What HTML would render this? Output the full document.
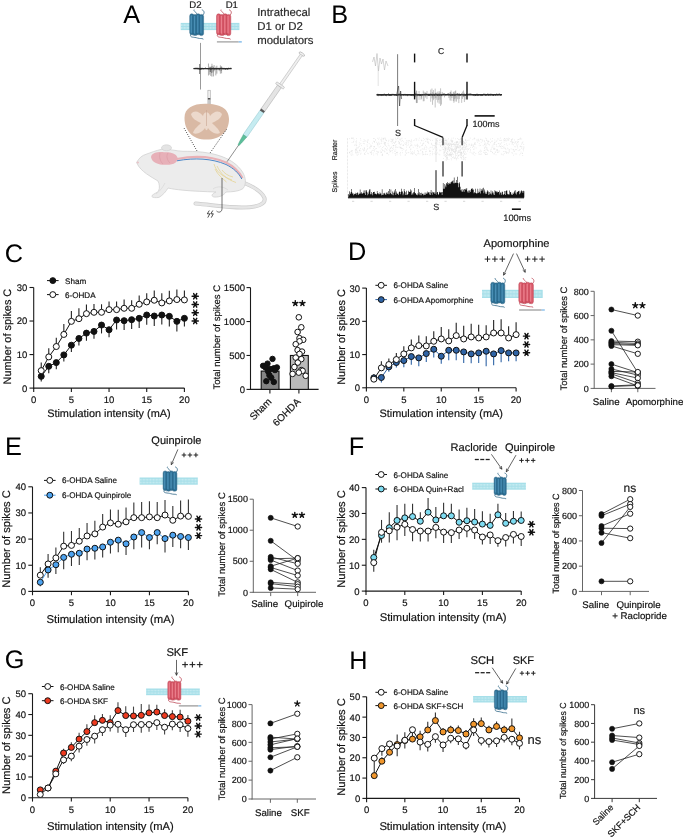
<!DOCTYPE html>
<html><head><meta charset="utf-8"><style>
html,body{margin:0;padding:0;background:#fff;}
svg{display:block;will-change:transform;}
text{font-family:"Liberation Sans", sans-serif;text-rendering:geometricPrecision;}
</style></head><body>
<svg width="685" height="838" viewBox="0 0 685 838" font-family='"Liberation Sans", sans-serif'>
<rect width="685" height="838" fill="#ffffff"/>
<text x="123.35" y="22.80" font-size="25.3" text-anchor="start" fill="#000">A</text>
<text x="195.50" y="8.00" font-size="9.6" text-anchor="middle" fill="#222" stroke="#222" stroke-width="0.18">D2</text>
<text x="231.80" y="8.00" font-size="9.6" text-anchor="middle" fill="#222" stroke="#222" stroke-width="0.18">D1</text>
<rect x="180.70" y="22.90" width="58.70" height="7.20" fill="#a6dfe9"/>
<path d="M181.50,24.20V26.00M181.50,27.00V28.80M182.95,24.20V26.00M182.95,27.00V28.80M184.40,24.20V26.00M184.40,27.00V28.80M185.85,24.20V26.00M185.85,27.00V28.80M187.30,24.20V26.00M187.30,27.00V28.80M188.75,24.20V26.00M188.75,27.00V28.80M190.20,24.20V26.00M190.20,27.00V28.80M191.65,24.20V26.00M191.65,27.00V28.80M193.10,24.20V26.00M193.10,27.00V28.80M194.55,24.20V26.00M194.55,27.00V28.80M196.00,24.20V26.00M196.00,27.00V28.80M197.45,24.20V26.00M197.45,27.00V28.80M198.90,24.20V26.00M198.90,27.00V28.80M200.35,24.20V26.00M200.35,27.00V28.80M201.80,24.20V26.00M201.80,27.00V28.80M203.25,24.20V26.00M203.25,27.00V28.80M204.70,24.20V26.00M204.70,27.00V28.80M206.15,24.20V26.00M206.15,27.00V28.80M207.60,24.20V26.00M207.60,27.00V28.80M209.05,24.20V26.00M209.05,27.00V28.80M210.50,24.20V26.00M210.50,27.00V28.80M211.95,24.20V26.00M211.95,27.00V28.80M213.40,24.20V26.00M213.40,27.00V28.80M214.85,24.20V26.00M214.85,27.00V28.80M216.30,24.20V26.00M216.30,27.00V28.80M217.75,24.20V26.00M217.75,27.00V28.80M219.20,24.20V26.00M219.20,27.00V28.80M220.65,24.20V26.00M220.65,27.00V28.80M222.10,24.20V26.00M222.10,27.00V28.80M223.55,24.20V26.00M223.55,27.00V28.80M225.00,24.20V26.00M225.00,27.00V28.80M226.45,24.20V26.00M226.45,27.00V28.80M227.90,24.20V26.00M227.90,27.00V28.80M229.35,24.20V26.00M229.35,27.00V28.80M230.80,24.20V26.00M230.80,27.00V28.80M232.25,24.20V26.00M232.25,27.00V28.80M233.70,24.20V26.00M233.70,27.00V28.80M235.15,24.20V26.00M235.15,27.00V28.80M236.60,24.20V26.00M236.60,27.00V28.80M238.05,24.20V26.00M238.05,27.00V28.80" stroke="#e4f6f9" stroke-width="0.5"/>
<path d="M197.34,15.30 C196.65,11.30 193.17,11.80 194.15,9.60 M202.10,15.80 C205.40,13.30 204.10,10.30 201.80,9.80" fill="none" stroke="#255f80" stroke-width="0.75"/>
<path d="M190.90,34.10 C188.90,38.10 194.56,36.80 197.34,38.00 C199.71,39.00 203.90,38.00 203.10,39.40" fill="none" stroke="#255f80" stroke-width="0.75"/>
<rect x="189.70" y="13.80" width="4.21" height="21.00" rx="2.11" fill="#2f7398" stroke="#255f80" stroke-width="0.45"/>
<line x1="191.30" y1="15.80" x2="191.30" y2="32.30" stroke="#4a8fb5" stroke-width="1.18" stroke-linecap="round"/>
<rect x="192.93" y="14.40" width="4.21" height="21.20" rx="2.11" fill="#2f7398" stroke="#255f80" stroke-width="0.45"/>
<line x1="194.53" y1="16.40" x2="194.53" y2="33.10" stroke="#4a8fb5" stroke-width="1.18" stroke-linecap="round"/>
<rect x="196.16" y="13.80" width="4.21" height="21.00" rx="2.11" fill="#2f7398" stroke="#255f80" stroke-width="0.45"/>
<line x1="197.76" y1="15.80" x2="197.76" y2="32.30" stroke="#4a8fb5" stroke-width="1.18" stroke-linecap="round"/>
<rect x="199.39" y="14.40" width="4.21" height="21.20" rx="2.11" fill="#2f7398" stroke="#255f80" stroke-width="0.45"/>
<line x1="200.99" y1="16.40" x2="200.99" y2="33.10" stroke="#4a8fb5" stroke-width="1.18" stroke-linecap="round"/>
<circle cx="193.17" cy="34.40" r="0.9" fill="none" stroke="#255f80" stroke-width="0.4"/>
<circle cx="196.65" cy="34.40" r="0.9" fill="none" stroke="#255f80" stroke-width="0.4"/>
<circle cx="200.12" cy="34.40" r="0.9" fill="none" stroke="#255f80" stroke-width="0.4"/>
<path d="M224.37,15.30 C223.65,11.30 220.07,11.80 221.08,9.60 M229.30,15.80 C232.60,13.30 231.30,10.30 229.00,9.80" fill="none" stroke="#b9404f" stroke-width="0.75"/>
<path d="M217.70,34.10 C215.70,38.10 221.50,36.80 224.37,38.00 C226.80,39.00 231.10,38.00 230.30,39.40" fill="none" stroke="#b9404f" stroke-width="0.75"/>
<rect x="216.50" y="13.80" width="4.33" height="21.00" rx="2.17" fill="#d9596a" stroke="#b9404f" stroke-width="0.45"/>
<line x1="218.15" y1="15.80" x2="218.15" y2="32.30" stroke="#ea7f8c" stroke-width="1.21" stroke-linecap="round"/>
<rect x="219.82" y="14.40" width="4.33" height="21.20" rx="2.17" fill="#d9596a" stroke="#b9404f" stroke-width="0.45"/>
<line x1="221.47" y1="16.40" x2="221.47" y2="33.10" stroke="#ea7f8c" stroke-width="1.21" stroke-linecap="round"/>
<rect x="223.14" y="13.80" width="4.33" height="21.00" rx="2.17" fill="#d9596a" stroke="#b9404f" stroke-width="0.45"/>
<line x1="224.79" y1="15.80" x2="224.79" y2="32.30" stroke="#ea7f8c" stroke-width="1.21" stroke-linecap="round"/>
<rect x="226.47" y="14.40" width="4.33" height="21.20" rx="2.17" fill="#d9596a" stroke="#b9404f" stroke-width="0.45"/>
<line x1="228.11" y1="16.40" x2="228.11" y2="33.10" stroke="#ea7f8c" stroke-width="1.21" stroke-linecap="round"/>
<circle cx="220.07" cy="34.40" r="0.9" fill="none" stroke="#b9404f" stroke-width="0.4"/>
<circle cx="223.65" cy="34.40" r="0.9" fill="none" stroke="#b9404f" stroke-width="0.4"/>
<circle cx="227.23" cy="34.40" r="0.9" fill="none" stroke="#b9404f" stroke-width="0.4"/>
<line x1="216.90" y1="41.90" x2="238.70" y2="41.90" stroke="#9a9a9a" stroke-width="1.2"/>
<line x1="238.70" y1="41.90" x2="241.80" y2="41.90" stroke="#6aaee6" stroke-width="1.2"/>
<line x1="200.50" y1="42.90" x2="200.50" y2="89.50" stroke="#555" stroke-width="0.6"/>
<polyline fill="none" stroke="#222" stroke-width="0.7" points="193.60,68.38 193.95,68.07 194.30,68.97 194.65,67.93 195.00,68.76 195.35,68.46 195.70,67.90 196.05,68.71 196.40,67.87 196.75,68.58 197.10,67.93 197.45,67.96 197.80,68.56 198.15,69.29 198.50,68.02 198.85,68.20 199.20,68.93 199.55,69.51 199.90,68.84 200.25,68.51 200.60,69.56 200.95,67.88 201.30,69.35 201.65,68.32 202.00,68.06 202.35,68.01 202.70,68.36 203.05,69.27 203.40,68.13 203.75,68.85 204.10,68.95 204.45,68.47 204.80,68.79 205.15,67.91 205.50,67.91 205.85,68.17 206.20,69.02 206.55,68.57 206.90,68.37 207.25,68.85 207.60,68.62 207.95,68.34 208.30,69.23 208.65,69.06 209.00,68.24 209.35,68.83 209.70,68.75 210.05,69.38 210.40,69.11 210.75,68.32 211.10,69.56 211.45,68.01 211.80,68.55 212.15,69.16 212.50,68.07 212.85,68.68 213.20,67.87 213.55,69.00 213.90,69.18 214.25,68.83 214.60,69.38 214.95,68.36 215.30,69.05 215.65,68.87 216.00,68.84 216.35,68.62 216.70,69.31 217.05,69.50 217.40,68.65 217.75,69.00 218.10,67.91 218.45,69.06 218.80,68.96 219.15,69.59 219.50,69.28 219.85,68.31 220.20,68.49 220.55,69.00 220.90,67.84 221.25,68.63 221.60,68.10 221.95,68.01 222.30,67.91 222.65,69.18 223.00,68.03 223.35,68.25 223.70,68.50 224.05,69.37 224.40,67.95 224.75,68.61 225.10,68.79 225.45,69.39 225.80,69.27 226.15,69.36 226.50,68.30 226.85,68.55 227.20,68.45 227.55,69.39 227.90,69.52 228.25,68.07 228.60,68.12 228.95,68.22 229.30,68.22 229.65,68.67 230.00,68.86 230.35,68.27 230.70,67.81 231.05,68.55 231.40,68.46"/>
<line x1="193.60" y1="68.70" x2="231.50" y2="68.70" stroke="#2a2a2a" stroke-width="1.3"/>
<path d="M208.47,63.53V75.47 M209.71,66.97V74.65 M210.04,66.52V72.01 M210.51,67.42V71.95 M210.86,67.31V76.00 M211.46,66.33V73.05 M211.95,63.75V76.66 M212.82,65.94V72.58 M213.54,67.32V76.43 M214.10,65.07V71.25 M215.83,66.70V75.42 M216.86,65.71V73.65 M219.19,67.82V71.18 M220.39,65.37V73.66 M221.17,67.30V70.99 M221.57,66.22V73.35" stroke="#333" stroke-width="0.4"/>
<line x1="199.60" y1="64.00" x2="199.60" y2="74.00" stroke="#333" stroke-width="0.6"/>
<text x="257.20" y="15.80" font-size="11.4" text-anchor="start" fill="#2a2a2a" stroke="#2a2a2a" stroke-width="0.18">Intrathecal</text>
<text x="257.20" y="29.80" font-size="11.4" text-anchor="start" fill="#2a2a2a" stroke="#2a2a2a" stroke-width="0.18">D1 or D2</text>
<text x="257.20" y="44.40" font-size="11.4" text-anchor="start" fill="#2a2a2a" stroke="#2a2a2a" stroke-width="0.18">modulators</text>
<rect x="207.9" y="90.2" width="2.4" height="22" fill="#f0f0f0" stroke="#9a9a9a" stroke-width="0.5"/>
<rect x="207.9" y="98" width="2.4" height="1.6" fill="#555"/>
<line x1="209.10" y1="100.00" x2="209.10" y2="120.00" stroke="#777" stroke-width="0.6"/>
<path d="M184.5,118 C184.5,108 193,103.6 206,103.8 C219,104 229,108 229,119 C229,131 221,139.6 206.5,139.6 C192,139.6 184.5,130 184.5,118 Z" fill="#d9b9a4"/>
<path d="M191,114 C194,110 199,111 203,116 C204,111 209,111 210,116 C214,111 219,110 222,114 C221,119 216,121 212,123 C215,126 219,129 220,133 C216,135 211,132 208,128 C207,131 206,131 205,128 C202,132 197,135 193,133 C194,129 198,126 201,123 C197,121 192,119 191,114 Z" fill="#ecd9cc"/>
<line x1="206.50" y1="110.00" x2="206.50" y2="126.00" stroke="#c9a592" stroke-width="0.6"/>
<path d="M184,128 L199,154.5 M226.5,129.4 L209,154.5" stroke="#222" stroke-width="0.8" stroke-dasharray="1,1.3"/>
<path d="M242,182 C252,186 262,191 264.5,198 C266,204 258,207.5 242,207.5 C228,207.5 212,205 195.5,203.6" fill="none" stroke="#cccccc" stroke-width="4.0" stroke-linecap="round"/>
<path d="M242,182 C252,186 262,191 264.5,198 C266,204 258,207.5 242,207.5 C228,207.5 212,205 195.5,203.6" fill="none" stroke="#e6e6e6" stroke-width="2.6" stroke-linecap="round"/>
<path d="M136.6,162.5 C139,158 142,155.5 146,154.3 C151,152.5 156,150.5 162,149.2 C170,149 176,151 183,151.3 C195,151.2 209,151.8 222,156.6 C231,160 238,165 242.5,172 C246,178 246.5,184 243,188.6 C239,191.5 232,191.8 226,192 C224,195 220,197.5 214,197 C210,196 213,193 216,192 C205,191.6 193,191.2 183,190.2 C177,189.6 172,189 168,188 C166,191.5 163,195 159,197.4 C155,198 151,197.6 152,195.6 C154,193.4 157,193 158.5,191 C160,188 159.5,184 158,181 C154,178.5 150,176.5 146.5,173.8 C142.5,170.8 139,168 136.6,162.5 Z" fill="#ececec" stroke="#d2d2d2" stroke-width="0.8"/>
<path d="M213,189 C217,186 223,186 228,190 M165,183 C163,187 160,191 156,194" fill="none" stroke="#d9d9d9" stroke-width="0.8"/>
<ellipse cx="166.5" cy="147.8" rx="5" ry="3" fill="#e4e4e4" stroke="#cdcdcd" stroke-width="0.6"/>
<ellipse cx="137.8" cy="162.6" rx="1.2" ry="1" fill="#e8c4c8"/>
<path d="M151,157 C152,152.5 158,151.8 164,152.2 C170,151.8 176,153 177.5,157.5 C178.5,162 174,165 166,164.8 C159,165 152,163 151,157 Z" fill="#e7b0b8"/>
<path d="M168,153 C166,156 167,160 170,163 M160,153 C159,157 160,161 163,164" fill="none" stroke="#d998a3" stroke-width="0.6"/>
<path d="M177,159 C195,155.5 212,156.5 226,162.5 C234,166.5 239,171.5 242.5,178" fill="none" stroke="#e9b1b6" stroke-width="2.2"/>
<path d="M177,160.8 C195,157.5 212,158.5 226,164.5 C234,168.5 238.6,173 241.8,179" fill="none" stroke="#4b87c8" stroke-width="1.0"/>
<path d="M214,164 C216,171 221,176 232,180 M217,166 C221,174 226,179 236,182.5 M215,169 C218,175 222,178 226.5,182 M222,170 C224,173 228,176 233,177" fill="none" stroke="#e6d494" stroke-width="0.8"/>
<g transform="translate(302.2,53.6) rotate(124.8)">
<ellipse cx="0.6" cy="0" rx="1.3" ry="3.2" fill="#f2f2f2" stroke="#a8a8a8" stroke-width="0.6"/>
<rect x="1.5" y="-1.25" width="37" height="2.5" fill="#efefef" stroke="#b0b0b0" stroke-width="0.5"/>
<rect x="37.6" y="-4.8" width="2.4" height="9.6" rx="1" fill="#eeeeee" stroke="#a8a8a8" stroke-width="0.5"/>
<rect x="40" y="-2.3" width="29.5" height="4.6" fill="#e4e4e4" stroke="#aaaaaa" stroke-width="0.5"/>
<rect x="70.5" y="-2.3" width="29.7" height="4.6" fill="#c6ecf1" stroke="#93c9d2" stroke-width="0.5"/>
<rect x="68.6" y="-2.3" width="2.2" height="4.6" fill="#5a5a5a"/>
<path d="M100.2,-2.1 L108,-1.2 L111.8,-0.5 L111.8,0.5 L108,1.2 L100.2,2.1 Z" fill="#5cbf9b" stroke="#3f9a78" stroke-width="0.4"/>
<line x1="111.8" y1="0" x2="131.6" y2="0" stroke="#555" stroke-width="0.6"/>
</g>
<path d="M222,178 L222,208.5 C222,212.5 218.5,213 216.5,211" fill="none" stroke="#333" stroke-width="0.7"/>
<path d="M209.3,210.5 L207.3,213.8 L209.8,213.8 L207.8,217.6 M212.8,210.5 L210.8,213.8 L213.3,213.8 L211.3,217.6" fill="none" stroke="#222" stroke-width="0.8"/>
<text x="331.30" y="22.50" font-size="25.3" text-anchor="start" fill="#000">B</text>
<path d="M372.5,62 L374,57 L375.5,66 L377,53.5 L378.5,71 L380,58 L381.5,64 L383,59 L384.5,70 L386,61 L388,66" fill="none" stroke="#b8b8b8" stroke-width="0.6"/>
<line x1="378.20" y1="66.00" x2="378.20" y2="86.00" stroke="#c4c4c4" stroke-width="0.5"/>
<polyline fill="none" stroke="#222" stroke-width="0.7" points="376.60,94.75 377.00,95.14 377.40,95.46 377.80,93.89 378.20,95.15 378.60,95.70 379.00,95.42 379.40,95.35 379.80,94.75 380.20,94.09 380.60,95.44 381.00,94.43 381.40,95.46 381.80,95.84 382.20,94.57 382.60,94.58 383.00,95.78 383.40,95.29 383.80,94.07 384.20,93.98 384.60,94.03 385.00,95.69 385.40,95.47 385.80,94.02 386.20,95.52 386.60,95.86 387.00,95.15 387.40,94.47 387.80,94.91 388.20,93.99 388.60,93.73 389.00,95.84 389.40,95.13 389.80,94.86 390.20,95.75 390.60,94.65 391.00,95.62 391.40,95.52 391.80,94.16 392.20,94.25 392.60,94.34 393.00,94.23 393.40,94.99 393.80,94.27 394.20,94.62 394.60,93.99 395.00,95.70 395.40,94.48 395.80,94.71 396.20,94.98 396.60,95.69 397.00,94.63 397.40,95.72 397.80,94.80 398.20,94.87 398.60,94.85 399.00,93.74 399.40,94.67 399.80,94.10 400.20,93.71 400.60,95.46 401.00,94.08 401.40,94.74 401.80,95.30 402.20,94.92 402.60,94.42 403.00,94.84 403.40,94.92 403.80,95.43 404.20,93.93 404.60,94.93 405.00,94.25 405.40,94.31 405.80,95.40 406.20,94.82 406.60,94.94 407.00,95.37 407.40,95.71 407.80,94.68 408.20,95.05 408.60,94.81 409.00,94.83 409.40,95.22 409.80,94.70 410.20,94.87 410.60,94.75 411.00,95.77 411.40,95.24 411.80,95.63 412.20,95.77 412.60,94.27 413.00,94.93 413.40,95.78 413.80,95.55 414.20,94.00 414.60,93.97 415.00,94.67 415.40,93.86 415.80,94.23 416.20,93.86 416.60,95.17 417.00,95.42 417.40,95.67 417.80,94.04 418.20,95.28 418.60,95.15 419.00,94.01 419.40,95.64 419.80,95.83 420.20,94.18 420.60,95.80 421.00,94.58 421.40,94.77 421.80,95.88 422.20,95.53 422.60,94.06 423.00,94.65 423.40,94.83 423.80,94.45 424.20,94.13 424.60,94.40 425.00,95.29 425.40,93.74 425.80,94.92 426.20,94.67 426.60,93.74 427.00,94.43 427.40,95.07 427.80,94.83 428.20,93.84 428.60,95.87 429.00,95.43 429.40,95.84 429.80,93.93 430.20,94.28 430.60,93.79 431.00,95.41 431.40,94.29 431.80,93.99 432.20,94.63 432.60,95.71 433.00,95.50 433.40,94.27 433.80,94.03 434.20,95.72 434.60,94.96 435.00,95.24 435.40,93.90 435.80,93.83 436.20,95.21 436.60,94.64 437.00,93.86 437.40,95.76 437.80,95.10 438.20,95.46 438.60,93.88 439.00,95.58 439.40,93.85 439.80,95.60 440.20,94.70 440.60,94.45 441.00,94.92 441.40,95.74 441.80,94.29 442.20,93.98 442.60,94.86 443.00,94.22 443.40,93.94 443.80,94.06 444.20,93.81 444.60,94.14 445.00,94.39 445.40,94.37 445.80,95.37 446.20,94.34 446.60,94.80 447.00,94.09 447.40,94.46 447.80,93.74 448.20,94.25 448.60,93.73 449.00,95.31 449.40,94.91 449.80,94.12 450.20,94.74 450.60,95.76 451.00,93.93 451.40,95.50 451.80,94.65 452.20,94.79 452.60,95.54 453.00,94.56 453.40,94.81 453.80,95.21 454.20,95.86 454.60,94.45 455.00,95.53 455.40,95.25 455.80,95.10 456.20,94.59 456.60,94.46 457.00,93.82 457.40,93.99 457.80,93.86 458.20,95.33 458.60,94.26 459.00,94.06 459.40,93.89 459.80,95.55 460.20,95.62 460.60,95.18 461.00,94.32 461.40,94.23 461.80,94.34 462.20,94.71 462.60,94.05 463.00,94.68 463.40,94.28 463.80,95.82 464.20,95.84 464.60,94.90 465.00,94.24 465.40,95.82 465.80,94.38 466.20,94.48 466.60,93.70 467.00,94.54 467.40,94.74 467.80,94.81 468.20,94.14 468.60,94.81 469.00,93.71 469.40,94.28 469.80,93.90 470.20,94.58 470.60,93.79 471.00,93.75 471.40,94.37 471.80,94.21 472.20,94.99 472.60,94.86 473.00,95.35 473.40,95.15 473.80,95.28 474.20,95.63 474.60,94.56 475.00,94.42 475.40,95.87 475.80,94.03 476.20,95.29 476.60,95.12 477.00,93.80 477.40,95.54 477.80,95.66 478.20,95.08 478.60,95.31 479.00,95.49 479.40,94.01 479.80,94.85 480.20,94.81 480.60,95.54 481.00,95.47 481.40,95.52 481.80,94.98 482.20,95.66 482.60,95.20 483.00,95.23 483.40,94.21 483.80,93.77 484.20,93.99 484.60,94.49 485.00,93.93 485.40,95.54 485.80,94.93 486.20,95.08 486.60,95.08 487.00,95.20 487.40,94.78 487.80,93.71 488.20,95.45 488.60,95.35 489.00,94.81 489.40,94.88 489.80,95.15 490.20,93.85 490.60,95.32 491.00,94.25 491.40,93.86 491.80,94.28 492.20,95.30 492.60,94.15 493.00,95.33 493.40,95.85 493.80,94.79 494.20,94.54 494.60,94.75 495.00,95.20 495.40,95.39 495.80,95.06 496.20,95.11 496.60,93.87 497.00,94.02 497.40,94.26 497.80,95.34 498.20,94.37 498.60,94.95 499.00,93.73 499.40,93.83 499.80,94.29 500.20,95.18 500.60,95.22 501.00,95.19 501.40,94.34 501.80,94.84"/>
<line x1="376.60" y1="94.80" x2="502.00" y2="94.80" stroke="#2a2a2a" stroke-width="1.6"/>
<path d="M415.50,92.43V97.13 M416.34,90.39V102.85 M416.70,91.02V103.08 M417.30,93.46V102.92 M419.07,91.02V99.86 M421.00,94.29V99.74 M421.60,93.74V98.71 M423.28,90.59V101.29 M424.13,91.82V101.18 M425.58,92.40V97.56 M426.98,90.98V99.04 M430.68,89.66V101.78 M431.95,88.49V98.39 M432.56,92.26V104.81 M433.45,90.11V100.21 M434.10,93.05V98.75 M435.19,88.61V107.51 M435.79,92.90V98.00 M436.33,92.62V99.76 M437.75,91.57V102.55 M438.31,93.68V99.96 M439.19,91.03V103.66 M440.02,92.42V99.66 M440.59,88.33V105.96 M441.42,93.86V104.50 M442.26,91.95V96.30 M444.51,93.86V97.38 M448.88,93.79V98.06 M449.99,92.20V100.38 M450.56,91.90V96.37 M451.07,90.46V100.81 M451.91,93.36V98.03 M453.30,92.31V101.02 M453.89,91.63V102.78 M454.36,92.95V99.24 M455.09,91.11V101.47 M455.71,90.42V98.48 M456.51,93.41V101.62 M457.65,93.41V99.22 M458.80,93.45V103.12 M459.22,94.06V99.05 M461.68,93.56V102.85 M462.44,91.64V98.95 M463.00,93.62V96.32 M463.50,90.48V97.17 M464.38,92.87V102.05 M465.19,94.10V99.61" stroke="#555" stroke-width="0.35"/>
<line x1="397.60" y1="54.20" x2="397.60" y2="126.00" stroke="#444" stroke-width="0.7"/>
<path d="M396.6,95 L398.6,86 L399.6,106 L400.6,91 L401.6,99" fill="none" stroke="#333" stroke-width="0.6"/>
<line x1="414.60" y1="53.60" x2="414.60" y2="62.40" stroke="#111" stroke-width="1.4"/>
<line x1="414.60" y1="81.80" x2="414.60" y2="99.40" stroke="#111" stroke-width="1.4"/>
<line x1="414.60" y1="119.00" x2="414.60" y2="126.00" stroke="#111" stroke-width="1.4"/>
<line x1="467.00" y1="53.60" x2="467.00" y2="62.40" stroke="#111" stroke-width="1.4"/>
<line x1="467.00" y1="81.80" x2="467.00" y2="99.40" stroke="#111" stroke-width="1.4"/>
<line x1="467.00" y1="119.00" x2="467.00" y2="126.00" stroke="#111" stroke-width="1.4"/>
<text x="441.00" y="53.50" font-size="8.5" text-anchor="middle" fill="#222" stroke="#222" stroke-width="0.18">C</text>
<text x="398.00" y="136.00" font-size="9" text-anchor="middle" fill="#222" stroke="#222" stroke-width="0.18">S</text>
<line x1="474.60" y1="115.90" x2="494.70" y2="115.90" stroke="#111" stroke-width="1.6"/>
<text x="486.00" y="126.80" font-size="9" text-anchor="middle" fill="#222" stroke="#222" stroke-width="0.18">100ms</text>
<path d="M414.6,125.5 L443,137.4 M467,125.5 L462.1,137.4" fill="none" stroke="#111" stroke-width="1.3"/>
<path d="M412.7,153.7h0.7 M354.3,145.2h0.7 M491.1,151.4h0.7 M356.1,138.6h0.7 M360.0,154.1h0.7 M394.0,151.1h0.7 M506.2,143.9h0.7 M396.7,154.8h0.7 M457.0,142.6h0.7 M474.4,143.5h0.7 M397.2,138.1h0.7 M481.2,154.0h0.7 M459.9,154.5h0.7 M353.2,142.1h0.7 M432.2,154.7h0.7 M515.9,144.8h0.7 M392.9,145.5h0.7 M435.4,154.2h0.7 M381.0,152.0h0.7 M478.2,152.4h0.7 M484.2,148.6h0.7 M406.4,143.6h0.7 M412.3,151.7h0.7 M362.8,141.5h0.7 M480.8,142.3h0.7 M360.3,138.6h0.7 M445.7,143.7h0.7 M520.5,153.5h0.7 M521.9,142.6h0.7 M363.7,139.7h0.7 M436.2,150.4h0.7 M427.2,142.1h0.7 M421.9,148.9h0.7 M467.0,151.1h0.7 M497.2,149.6h0.7 M370.2,152.7h0.7 M400.4,147.9h0.7 M414.3,150.9h0.7 M383.9,142.3h0.7 M391.9,140.7h0.7 M503.7,148.1h0.7 M406.1,144.9h0.7 M522.7,146.9h0.7 M389.5,152.1h0.7 M463.3,155.3h0.7 M366.9,146.3h0.7 M492.3,152.7h0.7 M509.0,138.7h0.7 M400.4,140.1h0.7 M382.2,155.0h0.7 M451.1,154.3h0.7 M414.1,153.2h0.7 M427.6,142.5h0.7 M485.1,154.5h0.7 M367.5,148.4h0.7 M457.5,141.8h0.7 M413.5,140.5h0.7 M384.7,142.5h0.7 M453.9,149.4h0.7 M384.6,138.2h0.7 M406.3,149.9h0.7 M381.4,143.5h0.7 M384.6,151.9h0.7 M444.9,139.1h0.7 M366.7,144.9h0.7 M445.3,149.2h0.7 M365.0,140.9h0.7 M470.7,145.2h0.7 M398.6,143.4h0.7 M515.8,143.5h0.7 M448.1,144.3h0.7 M421.9,153.1h0.7 M523.4,144.4h0.7 M383.5,150.7h0.7 M384.6,138.1h0.7 M506.8,145.4h0.7 M492.6,145.1h0.7 M503.5,146.1h0.7 M377.4,138.3h0.7 M445.5,149.2h0.7 M508.2,139.6h0.7 M457.9,144.5h0.7 M437.3,140.6h0.7 M398.6,147.1h0.7 M511.0,139.9h0.7 M434.8,152.1h0.7 M518.2,141.5h0.7 M371.2,154.5h0.7 M519.7,146.4h0.7 M358.3,154.2h0.7 M416.9,153.8h0.7 M457.6,152.4h0.7 M377.0,151.8h0.7 M387.9,145.1h0.7 M497.1,152.5h0.7 M381.0,141.8h0.7 M419.0,147.1h0.7 M416.1,140.2h0.7 M392.2,150.7h0.7 M506.0,138.7h0.7 M447.4,151.3h0.7 M355.7,152.7h0.7 M369.6,148.5h0.7 M445.3,149.0h0.7 M402.6,145.4h0.7 M451.0,145.5h0.7 M464.3,145.8h0.7 M425.7,138.4h0.7 M457.3,146.6h0.7 M390.2,151.4h0.7 M485.5,146.0h0.7 M380.4,146.3h0.7 M367.7,140.2h0.7 M424.4,139.6h0.7 M426.3,146.9h0.7 M356.1,149.1h0.7 M363.4,150.8h0.7 M485.1,147.0h0.7 M358.5,146.8h0.7 M415.1,154.6h0.7 M372.8,153.0h0.7 M523.3,150.8h0.7 M491.6,141.4h0.7 M520.8,146.6h0.7 M516.4,154.0h0.7 M377.9,151.8h0.7 M511.9,139.1h0.7 M410.4,151.2h0.7 M376.8,153.7h0.7 M397.1,152.3h0.7 M374.1,146.8h0.7 M510.0,141.6h0.7 M395.0,146.9h0.7 M404.8,138.6h0.7 M380.9,140.8h0.7 M512.9,149.9h0.7 M505.7,141.0h0.7 M486.4,140.0h0.7 M441.9,149.1h0.7 M412.0,153.3h0.7 M446.2,148.2h0.7 M503.4,139.8h0.7 M522.8,149.0h0.7 M418.0,152.0h0.7 M395.3,155.3h0.7 M450.0,144.3h0.7 M482.8,145.7h0.7 M379.9,151.0h0.7 M357.5,152.3h0.7 M393.4,149.2h0.7 M521.2,148.3h0.7 M465.1,143.5h0.7 M349.3,138.6h0.7 M375.1,148.8h0.7 M424.6,147.0h0.7 M505.7,140.3h0.7 M388.8,149.4h0.7 M352.9,138.0h0.7 M411.1,139.9h0.7 M411.5,141.9h0.7 M451.1,148.3h0.7 M384.7,148.9h0.7 M432.1,140.4h0.7 M512.9,142.3h0.7 M375.1,139.7h0.7 M460.7,153.2h0.7 M485.9,145.0h0.7 M395.2,138.2h0.7 M461.9,147.8h0.7 M410.3,149.3h0.7 M426.7,154.4h0.7 M477.4,142.3h0.7 M507.1,138.8h0.7 M442.0,145.1h0.7 M390.6,139.0h0.7 M485.3,138.2h0.7 M445.4,154.5h0.7 M373.9,141.5h0.7 M455.4,146.9h0.7 M461.3,152.2h0.7 M379.6,143.4h0.7 M401.5,138.8h0.7 M504.6,151.7h0.7 M474.2,138.1h0.7 M496.8,151.0h0.7 M430.4,151.0h0.7 M428.2,142.0h0.7 M367.4,142.1h0.7 M355.8,143.9h0.7 M480.2,150.2h0.7 M496.9,150.5h0.7 M395.5,147.7h0.7 M425.3,151.8h0.7 M440.6,142.6h0.7 M461.4,154.9h0.7 M387.0,153.4h0.7 M351.7,142.6h0.7 M390.3,151.0h0.7 M514.3,151.1h0.7 M406.2,153.4h0.7 M406.5,142.2h0.7 M507.8,149.0h0.7 M470.2,149.6h0.7 M520.3,146.2h0.7 M495.9,150.2h0.7 M499.1,145.7h0.7 M475.8,148.0h0.7 M402.9,141.7h0.7 M458.0,139.4h0.7 M508.4,140.5h0.7 M353.7,139.9h0.7 M511.6,144.0h0.7 M373.8,138.5h0.7 M356.3,150.1h0.7 M459.9,150.2h0.7 M477.9,139.2h0.7 M452.3,144.4h0.7 M492.1,152.3h0.7 M505.0,139.2h0.7 M500.9,154.0h0.7 M514.3,139.9h0.7 M385.0,140.0h0.7 M355.0,152.8h0.7 M491.1,149.1h0.7 M493.4,149.1h0.7 M399.3,139.7h0.7 M366.1,151.3h0.7 M384.9,143.6h0.7 M423.2,138.4h0.7 M393.9,142.9h0.7 M474.3,144.4h0.7 M405.1,154.9h0.7 M437.2,152.9h0.7 M457.2,138.5h0.7 M421.3,145.6h0.7 M484.3,144.1h0.7 M472.3,147.4h0.7 M386.9,153.1h0.7 M364.9,152.3h0.7 M378.8,138.0h0.7 M384.4,151.3h0.7 M520.1,138.1h0.7 M434.9,146.6h0.7 M488.4,141.2h0.7 M435.6,144.1h0.7 M494.6,142.6h0.7 M514.2,143.0h0.7 M386.6,150.2h0.7 M436.2,139.9h0.7 M460.4,139.4h0.7 M486.9,150.2h0.7 M486.7,149.0h0.7 M411.2,145.0h0.7 M418.1,153.6h0.7 M364.1,153.5h0.7 M353.4,141.6h0.7 M395.1,153.8h0.7 M436.7,144.6h0.7 M503.7,142.1h0.7 M429.7,147.3h0.7 M481.0,151.2h0.7 M462.1,144.1h0.7 M406.2,140.7h0.7 M496.5,149.6h0.7 M478.8,141.0h0.7 M425.8,151.5h0.7 M450.4,140.2h0.7 M429.9,153.5h0.7 M390.6,141.4h0.7 M401.8,150.3h0.7 M496.6,140.7h0.7 M376.3,142.3h0.7 M406.1,147.1h0.7 M377.2,143.7h0.7 M382.1,155.1h0.7 M476.5,139.8h0.7 M517.4,139.8h0.7 M416.2,155.2h0.7 M488.1,150.8h0.7 M425.1,141.4h0.7 M460.6,139.9h0.7 M385.1,144.8h0.7 M354.9,145.0h0.7 M487.4,150.1h0.7 M436.6,149.1h0.7 M430.1,140.5h0.7 M454.6,145.1h0.7 M478.7,153.9h0.7 M424.3,148.0h0.7 M480.1,145.4h0.7 M389.0,150.6h0.7 M503.0,151.5h0.7 M471.5,152.9h0.7 M467.9,149.2h0.7 M428.4,143.5h0.7 M458.9,139.7h0.7 M422.4,151.7h0.7 M473.8,149.0h0.7 M392.8,145.4h0.7 M428.7,148.9h0.7 M420.6,149.8h0.7 M511.8,141.2h0.7 M463.5,151.6h0.7 M417.0,146.6h0.7 M519.6,138.7h0.7 M444.1,140.8h0.7 M485.8,154.5h0.7 M439.9,139.8h0.7 M449.5,147.5h0.7 M474.5,147.0h0.7 M460.9,152.5h0.7 M440.3,145.2h0.7 M514.9,141.7h0.7 M468.8,144.9h0.7 M482.5,140.1h0.7 M521.3,144.2h0.7 M358.9,142.8h0.7 M418.9,138.2h0.7 M422.3,145.4h0.7 M471.2,144.2h0.7 M395.4,141.9h0.7 M478.8,154.4h0.7 M441.2,141.8h0.7 M489.3,144.9h0.7 M386.1,140.3h0.7 M484.9,152.2h0.7 M460.0,146.2h0.7 M447.4,142.0h0.7 M517.7,144.2h0.7 M460.8,152.3h0.7 M491.8,146.2h0.7 M400.5,147.6h0.7 M370.9,152.6h0.7 M411.1,152.9h0.7 M395.8,144.6h0.7 M393.4,145.5h0.7 M381.5,138.0h0.7 M475.3,142.9h0.7 M391.9,143.3h0.7 M432.9,145.5h0.7 M460.5,149.5h0.7 M412.4,154.3h0.7 M498.5,139.0h0.7 M493.9,153.9h0.7 M486.2,140.5h0.7 M494.5,149.1h0.7 M351.6,138.2h0.7 M515.6,149.5h0.7 M392.8,139.8h0.7 M374.0,142.1h0.7 M484.9,144.1h0.7 M375.7,153.8h0.7 M487.5,140.9h0.7 M504.9,148.6h0.7 M485.7,149.7h0.7 M505.4,151.8h0.7 M495.8,141.5h0.7 M470.2,147.3h0.7 M478.8,145.7h0.7 M503.5,147.7h0.7 M395.3,142.1h0.7 M373.4,146.6h0.7 M359.2,146.2h0.7 M374.3,146.6h0.7 M436.2,147.4h0.7 M500.0,138.1h0.7 M496.1,146.2h0.7 M447.4,149.6h0.7 M496.1,144.6h0.7 M422.3,154.8h0.7 M362.2,149.1h0.7 M460.3,138.5h0.7 M455.7,149.9h0.7 M512.0,143.8h0.7 M520.8,146.9h0.7 M433.8,153.7h0.7 M354.9,150.6h0.7 M458.4,143.9h0.7 M499.8,144.4h0.7 M432.0,147.2h0.7 M483.9,141.7h0.7 M425.2,145.4h0.7 M446.0,152.5h0.7 M400.3,152.5h0.7 M419.7,146.8h0.7 M396.5,146.9h0.7 M519.6,149.5h0.7 M487.6,143.8h0.7 M404.5,143.2h0.7 M451.6,149.1h0.7 M486.2,138.7h0.7 M475.5,153.5h0.7 M444.4,138.9h0.7 M401.6,138.1h0.7 M382.2,154.1h0.7 M455.5,149.5h0.7 M487.1,153.9h0.7 M456.1,148.8h0.7 M458.7,150.2h0.7 M453.4,149.9h0.7 M386.2,149.7h0.7 M429.1,151.3h0.7 M366.7,141.2h0.7 M355.5,151.6h0.7 M509.0,149.5h0.7 M413.6,152.4h0.7 M486.6,147.8h0.7 M394.2,143.3h0.7 M422.8,143.6h0.7 M424.4,149.2h0.7 M512.4,139.0h0.7 M448.3,138.7h0.7 M369.8,152.2h0.7 M449.7,154.1h0.7 M427.1,138.2h0.7 M416.7,148.4h0.7 M513.1,155.2h0.7 M432.2,145.2h0.7 M366.9,149.3h0.7 M386.1,140.7h0.7 M351.7,138.1h0.7 M468.7,140.1h0.7 M518.1,139.5h0.7 M501.2,140.3h0.7 M352.1,150.6h0.7 M391.4,150.8h0.7 M381.8,138.9h0.7 M484.5,150.5h0.7 M498.7,150.8h0.7 M363.8,149.0h0.7 M473.1,146.1h0.7 M512.2,142.4h0.7 M517.8,150.6h0.7 M351.0,138.3h0.7 M462.9,152.3h0.7 M362.9,143.4h0.7 M476.7,140.9h0.7 M499.7,146.5h0.7 M359.5,144.4h0.7 M449.6,145.7h0.7 M467.5,140.5h0.7 M488.5,144.4h0.7 M461.9,149.0h0.7 M422.1,144.8h0.7 M486.6,154.5h0.7 M486.3,147.9h0.7 M400.2,139.1h0.7 M519.4,150.3h0.7 M493.8,143.8h0.7 M455.0,155.1h0.7 M494.5,148.5h0.7 M403.0,145.5h0.7 M504.4,144.6h0.7 M468.8,148.5h0.7 M505.8,152.1h0.7 M398.6,138.0h0.7 M395.0,145.4h0.7 M451.7,152.3h0.7 M504.3,138.7h0.7 M494.8,152.2h0.7 M500.8,148.0h0.7 M396.9,152.9h0.7 M490.2,150.0h0.7 M508.9,144.1h0.7 M363.9,147.7h0.7 M488.5,141.5h0.7 M480.3,154.3h0.7 M390.0,148.6h0.7 M467.6,146.1h0.7 M385.2,142.5h0.7 M480.4,151.9h0.7 M429.5,139.5h0.7 M490.2,151.5h0.7 M389.8,148.1h0.7 M506.0,153.5h0.7 M440.3,146.3h0.7 M452.1,141.3h0.7 M382.7,141.2h0.7 M471.7,144.3h0.7 M447.8,145.0h0.7 M439.5,140.6h0.7 M356.8,155.4h0.7 M414.5,139.9h0.7 M459.7,151.8h0.7 M376.3,148.5h0.7 M409.4,147.1h0.7 M352.6,138.6h0.7 M522.3,153.2h0.7 M434.1,147.9h0.7 M394.8,151.6h0.7 M423.5,154.6h0.7 M483.3,152.3h0.7 M517.6,142.4h0.7 M355.6,141.5h0.7 M380.6,139.5h0.7 M357.9,147.8h0.7 M501.4,146.0h0.7 M514.8,153.9h0.7 M360.2,148.5h0.7 M418.5,140.1h0.7 M516.9,142.5h0.7 M447.8,149.2h0.7 M516.4,149.7h0.7 M417.8,145.8h0.7 M377.0,154.9h0.7 M522.6,141.9h0.7 M355.8,142.5h0.7 M410.6,153.8h0.7 M507.3,152.7h0.7 M357.2,151.8h0.7 M473.2,149.3h0.7 M521.4,139.0h0.7 M374.3,151.2h0.7 M513.4,149.8h0.7 M401.3,148.4h0.7 M481.6,139.8h0.7 M405.7,142.5h0.7 M370.7,146.4h0.7 M378.5,142.2h0.7 M374.1,149.9h0.7 M351.2,150.6h0.7 M383.1,138.6h0.7 M511.3,141.9h0.7 M512.4,153.2h0.7 M504.5,140.4h0.7 M427.3,139.7h0.7 M511.5,152.7h0.7 M459.0,145.9h0.7 M408.5,152.4h0.7 M432.6,149.0h0.7 M374.0,141.9h0.7 M358.9,150.5h0.7 M445.8,140.5h0.7 M501.4,142.7h0.7 M421.1,140.7h0.7 M396.4,152.7h0.7 M407.5,140.9h0.7 M434.9,143.6h0.7 M507.1,140.0h0.7 M520.3,139.0h0.7 M505.6,149.7h0.7 M386.0,146.4h0.7 M399.1,142.5h0.7 M384.3,144.4h0.7 M522.4,155.5h0.7 M510.9,139.7h0.7 M399.7,153.7h0.7 M359.1,150.7h0.7 M400.4,155.1h0.7 M351.8,152.1h0.7 M408.7,140.5h0.7 M349.3,152.6h0.7 M441.2,141.3h0.7 M425.2,154.0h0.7 M387.2,148.0h0.7 M373.2,141.2h0.7 M483.8,150.5h0.7 M383.4,139.4h0.7 M364.3,148.6h0.7 M435.7,142.8h0.7 M385.1,148.7h0.7 M472.9,152.2h0.7 M451.0,141.5h0.7 M360.5,150.8h0.7 M420.4,150.6h0.7 M358.7,152.2h0.7 M407.7,152.7h0.7 M500.3,146.6h0.7 M351.7,153.9h0.7 M432.4,153.3h0.7 M395.6,141.3h0.7 M494.5,144.4h0.7 M377.6,144.5h0.7 M453.1,138.1h0.7 M440.0,145.8h0.7 M439.2,140.1h0.7 M474.1,152.3h0.7 M500.5,143.6h0.7 M473.5,144.7h0.7 M480.5,139.1h0.7 M501.7,154.7h0.7 M435.6,147.0h0.7 M441.8,147.4h0.7 M352.6,154.9h0.7 M388.1,141.2h0.7 M367.0,142.4h0.7 M492.0,138.5h0.7 M365.9,150.2h0.7 M383.1,138.3h0.7 M453.9,148.1h0.7 M440.5,150.3h0.7 M367.0,153.2h0.7 M474.5,138.8h0.7 M370.5,146.6h0.7 M436.6,142.9h0.7 M370.4,145.1h0.7 M373.0,148.4h0.7 M499.7,140.6h0.7 M449.2,151.1h0.7 M377.8,152.5h0.7 M513.1,144.8h0.7 M422.6,152.7h0.7 M441.0,144.9h0.7 M513.7,151.6h0.7 M408.2,142.2h0.7 M407.6,145.6h0.7 M520.7,152.1h0.7 M508.7,152.3h0.7 M497.3,138.9h0.7 M439.5,154.8h0.7 M512.5,142.4h0.7 M422.9,149.1h0.7 M412.8,147.3h0.7 M361.1,145.6h0.7 M437.3,138.4h0.7 M373.4,155.0h0.7 M484.9,154.4h0.7 M459.8,152.2h0.7 M503.8,153.5h0.7 M355.0,149.2h0.7 M395.5,149.9h0.7 M396.9,147.5h0.7 M510.8,148.9h0.7 M392.9,147.1h0.7 M424.9,154.6h0.7 M399.3,143.3h0.7 M462.3,140.1h0.7 M453.0,154.7h0.7 M438.9,142.7h0.7 M430.6,147.3h0.7 M375.0,140.2h0.7 M372.0,143.1h0.7 M420.1,143.0h0.7 M391.6,139.5h0.7 M444.6,152.7h0.7 M455.7,148.0h0.7 M462.8,141.5h0.7 M473.3,146.1h0.7 M444.9,148.7h0.7 M431.1,143.4h0.7 M391.4,141.9h0.7 M438.7,144.7h0.7 M451.5,138.2h0.7 M410.7,153.1h0.7 M390.7,147.7h0.7 M435.0,143.0h0.7 M521.8,143.2h0.7 M484.1,140.8h0.7 M360.7,153.2h0.7 M426.0,139.1h0.7 M416.9,145.7h0.7 M477.7,139.9h0.7 M388.4,154.8h0.7 M478.3,140.7h0.7 M408.0,144.2h0.7 M467.2,148.8h0.7 M497.7,152.4h0.7 M439.6,150.9h0.7 M479.1,151.3h0.7 M432.2,151.7h0.7 M473.0,154.0h0.7 M371.3,153.2h0.7 M349.8,151.4h0.7 M451.5,146.7h0.7 M517.5,148.0h0.7 M422.1,151.7h0.7 M501.7,148.6h0.7 M415.4,145.9h0.7 M429.1,150.7h0.7 M400.3,144.8h0.7 M446.2,144.7h0.7 M405.3,151.8h0.7 M497.7,146.7h0.7 M426.7,141.2h0.7 M402.2,140.5h0.7 M449.7,148.2h0.7 M364.4,154.1h0.7 M405.7,152.8h0.7 M495.7,154.8h0.7 M384.8,145.5h0.7 M508.4,138.2h0.7 M357.3,147.9h0.7 M436.0,154.1h0.7 M484.4,147.4h0.7 M523.7,147.1h0.7 M439.5,150.0h0.7 M417.2,144.3h0.7 M453.1,144.1h0.7 M514.9,149.8h0.7 M440.9,139.7h0.7 M414.5,145.0h0.7 M447.2,148.0h0.7 M503.0,154.9h0.7 M434.2,145.7h0.7 M458.3,155.4h0.7 M409.1,147.3h0.7 M491.8,141.0h0.7 M404.7,155.1h0.7 M493.6,147.0h0.7 M368.3,153.7h0.7 M469.7,152.4h0.7 M522.3,153.5h0.7 M422.7,140.7h0.7 M399.7,147.0h0.7 M437.4,141.3h0.7 M380.9,149.0h0.7 M454.5,144.2h0.7 M522.9,149.1h0.7 M356.4,145.2h0.7 M486.8,143.4h0.7 M469.9,138.1h0.7 M402.3,152.7h0.7 M451.6,149.7h0.7 M383.4,146.7h0.7 M445.8,142.7h0.7 M462.2,147.3h0.7 M523.5,148.1h0.7 M420.9,140.1h0.7 M376.4,151.3h0.7 M367.7,139.8h0.7 M378.8,147.1h0.7 M493.0,148.7h0.7 M490.2,139.1h0.7 M351.2,151.5h0.7 M405.5,150.5h0.7 M410.9,141.0h0.7 M395.7,139.7h0.7 M507.2,148.2h0.7 M410.1,145.9h0.7 M416.5,139.0h0.7 M504.8,148.2h0.7 M516.9,145.7h0.7 M457.5,142.4h0.7 M356.7,154.3h0.7 M498.6,143.5h0.7 M506.3,152.3h0.7 M402.1,148.5h0.7 M517.0,146.7h0.7 M515.2,142.3h0.7 M417.2,150.6h0.7 M387.7,143.4h0.7 M502.2,146.5h0.7 M487.7,142.3h0.7 M379.4,144.3h0.7 M381.6,155.0h0.7 M399.9,147.8h0.7 M369.1,147.3h0.7 M416.5,145.1h0.7 M360.5,140.2h0.7 M493.5,144.1h0.7 M391.9,141.3h0.7 M398.6,142.2h0.7 M355.1,149.6h0.7 M408.7,140.7h0.7 M472.5,139.6h0.7 M396.2,152.6h0.7 M371.4,145.8h0.7 M495.4,152.1h0.7 M376.9,144.2h0.7 M475.4,144.6h0.7 M516.7,141.6h0.7 M515.4,146.8h0.7 M388.8,145.9h0.7 M371.9,150.4h0.7 M394.6,153.7h0.7 M451.8,144.4h0.7 M392.1,148.6h0.7 M386.2,153.3h0.7 M370.5,147.0h0.7 M444.0,142.7h0.7 M484.1,144.7h0.7 M464.1,147.9h0.7 M403.4,144.8h0.7 M364.1,141.1h0.7 M497.9,143.6h0.7 M465.0,139.9h0.7 M447.3,144.3h0.7 M436.6,143.2h0.7 M360.5,143.4h0.7 M388.6,140.2h0.7 M474.4,142.9h0.7 M419.6,153.9h0.7 M484.6,153.4h0.7 M499.7,140.3h0.7 M397.4,138.5h0.7 M467.9,149.6h0.7 M410.5,145.2h0.7 M464.3,150.2h0.7 M392.5,152.8h0.7 M410.6,149.0h0.7 M380.8,140.0h0.7 M508.7,150.8h0.7 M473.7,138.7h0.7 M356.0,140.8h0.7 M383.7,143.3h0.7 M415.6,138.7h0.7 M403.4,149.2h0.7 M380.4,152.7h0.7 M448.8,150.5h0.7 M393.6,145.6h0.7 M468.8,144.1h0.7 M349.2,152.6h0.7 M484.9,143.0h0.7 M356.5,152.9h0.7 M455.3,138.8h0.7 M391.8,139.9h0.7 M487.5,141.7h0.7 M509.0,151.1h0.7 M364.1,150.2h0.7 M417.9,151.1h0.7 M494.0,142.9h0.7 M364.7,154.6h0.7 M423.2,154.3h0.7 M470.0,150.9h0.7 M494.2,149.0h0.7 M428.2,139.0h0.7 M471.2,145.5h0.7 M438.6,154.2h0.7 M371.3,151.3h0.7 M356.6,150.3h0.7 M490.0,142.6h0.7 M444.6,155.0h0.7 M460.6,147.5h0.7 M392.7,139.0h0.7 M411.6,145.2h0.7 M384.2,143.4h0.7 M372.9,150.4h0.7 M466.3,142.2h0.7 M391.3,147.0h0.7 M426.9,154.4h0.7 M410.5,143.2h0.7 M503.8,140.5h0.7 M447.6,143.8h0.7 M491.7,147.6h0.7 M482.1,141.0h0.7 M465.6,148.5h0.7 M429.7,151.4h0.7 M494.5,140.0h0.7 M399.6,144.3h0.7 M385.1,139.1h0.7 M398.2,141.4h0.7 M471.8,145.8h0.7 M368.8,143.7h0.7 M431.0,144.4h0.7 M378.4,139.3h0.7 M350.9,155.4h0.7 M480.3,139.5h0.7 M474.5,155.2h0.7 M447.6,139.9h0.7 M434.6,145.6h0.7 M382.2,147.5h0.7 M350.5,154.1h0.7 M461.8,149.0h0.7 M512.7,149.4h0.7 M393.0,142.3h0.7 M373.3,138.5h0.7 M484.5,152.7h0.7 M400.9,141.3h0.7 M460.7,152.8h0.7 M511.2,140.9h0.7 M486.3,152.5h0.7 M478.9,143.7h0.7 M381.3,152.4h0.7 M405.0,144.4h0.7 M445.4,144.5h0.7 M494.5,142.2h0.7 M356.2,147.9h0.7 M458.9,152.3h0.7 M472.5,153.8h0.7 M514.4,146.7h0.7 M436.4,140.8h0.7 M401.4,148.2h0.7 M363.0,150.0h0.7 M377.6,145.8h0.7 M518.7,139.6h0.7 M356.0,145.7h0.7 M382.4,150.7h0.7 M349.5,152.7h0.7 M498.7,151.8h0.7 M423.5,143.0h0.7 M464.8,147.0h0.7 M422.7,143.9h0.7 M425.8,149.7h0.7 M493.6,153.8h0.7 M377.8,143.2h0.7 M426.6,147.9h0.7 M409.9,141.4h0.7 M363.9,143.7h0.7 M429.6,155.0h0.7 M508.0,153.1h0.7 M519.5,154.8h0.7 M457.5,152.2h0.7 M359.5,149.8h0.7 M455.6,143.2h0.7 M448.9,154.7h0.7 M433.1,149.3h0.7 M401.4,144.0h0.7 M503.9,138.5h0.7 M382.0,149.9h0.7 M427.3,139.5h0.7 M458.2,147.4h0.7 M456.4,148.3h0.7 M455.2,151.3h0.7 M452.1,142.3h0.7 M447.2,157.8h0.7 M455.6,142.2h0.7 M462.8,145.1h0.7 M445.2,150.6h0.7 M448.8,149.8h0.7 M455.7,144.5h0.7 M456.2,142.3h0.7 M454.8,151.8h0.7 M444.8,148.2h0.7 M444.7,148.8h0.7 M462.9,151.0h0.7 M459.4,155.1h0.7 M445.6,159.8h0.7 M459.6,142.0h0.7 M462.1,147.8h0.7 M446.9,159.2h0.7 M455.9,155.5h0.7 M446.1,155.5h0.7 M444.3,144.7h0.7 M451.6,140.3h0.7 M456.7,144.3h0.7 M449.9,154.1h0.7 M452.8,157.8h0.7 M457.3,157.4h0.7 M455.9,158.4h0.7 M463.0,143.4h0.7 M460.1,146.8h0.7 M460.6,153.6h0.7 M462.0,142.5h0.7 M451.6,154.7h0.7 M464.8,154.4h0.7 M444.0,152.1h0.7 M445.3,151.0h0.7 M461.5,142.3h0.7 M464.3,153.5h0.7 M448.9,143.9h0.7 M453.3,156.8h0.7 M456.4,142.3h0.7 M443.5,142.2h0.7 M461.4,143.7h0.7 M455.7,145.8h0.7 M458.8,147.6h0.7 M446.3,157.5h0.7 M455.4,153.8h0.7 M461.6,159.0h0.7 M443.3,146.8h0.7 M446.5,150.0h0.7 M463.1,156.0h0.7 M443.8,143.6h0.7 M461.8,153.6h0.7 M452.0,149.5h0.7 M446.6,156.9h0.7 M452.0,157.5h0.7 M457.0,141.5h0.7 M450.6,144.3h0.7 M463.6,151.8h0.7 M444.0,143.4h0.7 M451.3,149.4h0.7 M456.3,147.8h0.7 M451.1,140.1h0.7 M456.3,146.7h0.7 M443.5,149.2h0.7 M465.7,140.9h0.7 M446.4,153.4h0.7 M449.3,145.5h0.7 M454.5,145.2h0.7 M456.1,150.6h0.7 M465.0,159.8h0.7 M443.8,151.2h0.7 M460.7,157.4h0.7 M460.8,152.7h0.7 M457.6,147.3h0.7 M449.5,155.9h0.7 M463.1,158.8h0.7 M458.7,146.1h0.7 M460.6,154.8h0.7 M454.7,152.7h0.7 M451.1,151.0h0.7 M452.3,141.2h0.7 M450.8,146.5h0.7 M465.7,149.6h0.7 M451.4,144.9h0.7 M448.4,147.0h0.7 M446.1,140.1h0.7 M463.0,149.1h0.7 M453.2,151.4h0.7 M450.0,143.4h0.7 M444.5,146.0h0.7 M450.1,154.5h0.7 M455.7,158.7h0.7 M450.8,158.4h0.7 M456.4,141.6h0.7 M447.1,151.6h0.7 M465.7,147.1h0.7 M460.8,148.6h0.7 M463.0,141.4h0.7 M454.1,158.0h0.7 M449.3,145.2h0.7 M443.5,143.3h0.7 M449.2,154.1h0.7 M448.0,148.0h0.7 M447.6,152.1h0.7 M462.9,153.0h0.7 M447.5,154.7h0.7 M465.2,152.0h0.7 M444.8,156.2h0.7 M463.1,146.8h0.7 M446.1,143.8h0.7 M455.3,157.5h0.7 M457.7,158.5h0.7 M447.9,146.5h0.7 M460.2,153.0h0.7 M452.3,153.6h0.7 M450.8,141.1h0.7 M452.5,140.9h0.7 M457.4,146.7h0.7 M454.4,152.0h0.7 M448.9,149.3h0.7 M443.3,158.5h0.7 M456.0,159.8h0.7 M444.3,152.3h0.7 M459.7,146.6h0.7 M445.1,143.1h0.7 M446.3,155.3h0.7 M445.1,156.3h0.7 M452.7,150.8h0.7 M456.5,151.1h0.7 M458.1,152.0h0.7 M450.6,154.8h0.7 M448.9,154.2h0.7 M460.6,155.5h0.7 M450.1,155.5h0.7 M465.5,149.1h0.7 M449.4,150.5h0.7 M464.6,142.6h0.7 M443.2,149.5h0.7 M458.1,155.5h0.7 M451.3,159.8h0.7 M448.2,155.1h0.7 M445.1,140.6h0.7 M446.1,141.2h0.7 M454.5,151.1h0.7 M447.2,158.8h0.7 M451.4,143.0h0.7 M447.1,154.8h0.7 M464.2,143.2h0.7 M443.7,155.6h0.7 M448.6,159.6h0.7 M454.5,152.7h0.7 M450.9,156.0h0.7 M453.6,146.5h0.7 M463.8,142.2h0.7 M459.9,141.3h0.7 M457.8,148.0h0.7 M462.9,141.2h0.7 M456.0,148.2h0.7 M464.1,158.9h0.7 M457.4,144.5h0.7 M448.8,145.2h0.7 M453.0,144.6h0.7 M447.7,155.2h0.7 M457.8,146.0h0.7 M465.9,144.3h0.7 M456.1,143.1h0.7 M462.9,157.4h0.7 M449.1,155.0h0.7 M461.9,145.7h0.7 M450.6,149.7h0.7 M463.5,143.2h0.7 M458.7,152.0h0.7 M453.4,151.6h0.7 M463.3,144.2h0.7 M463.3,147.2h0.7 M460.9,157.3h0.7 M447.2,157.3h0.7 M465.9,146.0h0.7 M443.6,142.2h0.7 M465.4,140.2h0.7 M464.0,143.0h0.7 M459.9,142.0h0.7 M446.9,153.7h0.7 M445.1,146.8h0.7 M464.1,154.3h0.7 M463.3,159.6h0.7 M443.8,144.7h0.7 M461.2,153.8h0.7 M443.9,150.1h0.7 M448.3,148.6h0.7 M445.4,140.4h0.7 M465.8,146.3h0.7 M463.2,142.4h0.7 M454.2,142.7h0.7 M452.9,143.6h0.7 M458.8,143.0h0.7 M460.0,150.0h0.7 M445.6,147.1h0.7 M454.4,158.4h0.7 M451.0,144.3h0.7 M465.3,157.7h0.7 M459.8,145.5h0.7 M447.1,145.3h0.7 M444.6,140.9h0.7 M454.7,148.2h0.7 M455.8,147.3h0.7 M443.2,153.8h0.7 M458.0,150.9h0.7 M455.6,153.8h0.7 M465.6,157.5h0.7 M459.5,148.0h0.7 M450.3,148.4h0.7 M465.4,147.7h0.7 M451.9,148.2h0.7 M446.3,160.0h0.7 M443.1,152.2h0.7 M464.3,145.1h0.7 M457.1,147.5h0.7 M448.5,144.0h0.7 M445.7,156.9h0.7 M461.0,158.2h0.7 M444.1,153.9h0.7 M450.5,152.9h0.7 M455.6,146.3h0.7 M465.3,140.0h0.7 M460.2,157.1h0.7 M454.7,151.8h0.7 M465.9,144.7h0.7 M457.5,154.9h0.7 M451.7,154.2h0.7 M452.1,150.5h0.7 M457.1,153.5h0.7 M450.4,152.6h0.7 M455.5,144.5h0.7 M457.1,145.3h0.7 M463.9,149.5h0.7 M459.6,150.4h0.7 M454.0,144.4h0.7 M446.3,158.5h0.7 M455.2,150.5h0.7 M455.1,156.3h0.7 M448.5,143.4h0.7 M461.9,149.2h0.7 M457.7,156.5h0.7 M463.6,157.4h0.7 M444.0,147.6h0.7 M462.1,156.4h0.7 M445.8,143.1h0.7 M448.8,142.1h0.7 M451.2,156.1h0.7 M455.0,149.1h0.7 M445.0,147.9h0.7 M465.9,153.9h0.7 M453.3,149.6h0.7 M461.4,155.2h0.7 M446.4,153.6h0.7 M451.4,150.4h0.7 M448.5,147.4h0.7" stroke="#d6d6d6" stroke-width="0.6"/>
<line x1="436.00" y1="138.00" x2="436.00" y2="162.00" stroke="#c8c8c8" stroke-width="0.5"/>
<path d="M347.5,138 V198" stroke="#bbb" stroke-width="0.5" stroke-dasharray="0.6,0.8"/>
<text x="337.30" y="150.00" font-size="7" text-anchor="middle" fill="#222" stroke="#222" stroke-width="0.18" transform="rotate(-90 337.30 150.00)">Raster</text>
<text x="337.30" y="182.00" font-size="7" text-anchor="middle" fill="#222" stroke="#222" stroke-width="0.18" transform="rotate(-90 337.30 182.00)">Spikes</text>
<path d="M348.3,197.6V194.04H348.85V195.33H349.40V191.17H349.95V192.53H350.50V194.10H351.05V188.97H351.60V191.96H352.15V193.71H352.70V192.93H353.25V195.22H353.80V193.93H354.35V194.22H354.90V192.81H355.45V193.99H356.00V193.09H356.55V194.63H357.10V192.55H357.65V192.74H358.20V195.12H358.75V193.88H359.30V193.41H359.85V189.39H360.40V193.55H360.95V192.04H361.50V193.51H362.05V193.64H362.60V193.35H363.15V192.72H363.70V190.59H364.25V193.18H364.80V190.27H365.35V195.09H365.90V191.61H366.45V189.94H367.00V192.56H367.55V195.18H368.10V193.73H368.65V191.41H369.20V189.58H369.75V189.36H370.30V194.30H370.85V194.15H371.40V191.96H371.95V193.36H372.50V195.20H373.05V191.93H373.60V191.97H374.15V191.75H374.70V193.90H375.25V193.44H375.80V193.94H376.35V194.60H376.90V190.89H377.45V193.27H378.00V193.14H378.55V194.31H379.10V194.23H379.65V192.19H380.20V193.58H380.75V193.62H381.30V195.17H381.85V189.19H382.40V195.11H382.95V194.68H383.50V193.16H384.05V193.41H384.60V192.70H385.15V194.56H385.70V194.82H386.25V192.83H386.80V192.26H387.35V193.74H387.90V194.37H388.45V191.01H389.00V189.03H389.55V194.23H390.10V193.07H390.65V189.38H391.20V194.10H391.75V194.79H392.30V191.48H392.85V195.27H393.40V192.84H393.95V190.56H394.50V192.49H395.05V189.11H395.60V194.91H396.15V191.42H396.70V193.29H397.25V194.01H397.80V193.41H398.35V195.03H398.90V191.94H399.45V191.39H400.00V194.32H400.55V192.02H401.10V188.70H401.65V191.53H402.20V191.62H402.75V195.20H403.30V193.60H403.85V188.96H404.40V191.31H404.95V195.02H405.50V192.25H406.05V190.77H406.60V195.01H407.15V194.87H407.70V193.99H408.25V190.82H408.80V191.63H409.35V192.03H409.90V191.74H410.45V189.14H411.00V190.59H411.55V194.74H412.10V193.37H412.65V194.61H413.20V192.49H413.75V191.91H414.30V187.98H414.85V193.45H415.40V193.12H415.95V194.48H416.50V194.79H417.05V195.28H417.60V193.33H418.15V188.89H418.70V194.46H419.25V192.26H419.80V195.15H420.35V193.00H420.90V195.24H421.45V192.63H422.00V194.03H422.55V193.55H423.10V195.36H423.65V193.75H424.20V195.05H424.75V192.46H425.30V194.80H425.85V192.79H426.40V194.08H426.95V191.41H427.50V193.48H428.05V192.28H428.60V192.39H429.15V194.60H429.70V192.02H430.25V195.03H430.80V190.09H431.35V192.71H431.90V194.86H432.45V191.65H433.00V192.42H433.55V192.19H434.10V193.66H434.65V192.26H435.20V194.20H435.75V193.27H436.30V194.94H436.85V192.25H437.40V192.05H437.95V194.61H438.50V194.45H439.05V191.77H439.60V192.56H440.15V192.26H440.70V192.67H441.25V192.10H441.80V195.05H442.35V192.05H442.90V182.95H443.45V188.64H444.00V188.73H444.55V184.08H445.10V185.54H445.65V187.36H446.20V183.07H446.75V183.87H447.30V181.95H447.85V184.64H448.40V183.04H448.95V184.08H449.50V182.67H450.05V183.63H450.60V182.30H451.15V181.55H451.70V182.15H452.25V180.89H452.80V180.16H453.35V183.35H453.90V177.47H454.45V183.30H455.00V183.10H455.55V182.50H456.10V179.95H456.65V183.04H457.20V176.85H457.75V182.89H458.30V187.31H458.85V183.43H459.40V182.37H459.95V186.83H460.50V190.31H461.05V189.58H461.60V191.42H462.15V191.87H462.70V188.97H463.25V190.20H463.80V192.01H464.35V189.08H464.90V188.75H465.45V189.73H466.00V189.45H466.55V187.96H467.10V191.24H467.65V192.49H468.20V190.47H468.75V192.80H469.30V190.59H469.85V190.13H470.40V191.96H470.95V188.57H471.50V189.08H472.05V188.21H472.60V189.71H473.15V189.38H473.70V193.20H474.25V191.96H474.80V193.04H475.35V188.79H475.90V193.17H476.45V193.58H477.00V193.25H477.55V188.76H478.10V192.94H478.65V191.56H479.20V192.29H479.75V188.56H480.30V193.42H480.85V191.06H481.40V189.25H481.95V190.53H482.50V188.39H483.05V187.83H483.60V193.17H484.15V189.50H484.70V191.55H485.25V193.69H485.80V192.52H486.35V194.12H486.90V191.59H487.45V190.36H488.00V191.50H488.55V195.03H489.10V191.95H489.65V194.28H490.20V193.57H490.75V190.61H491.30V194.59H491.85V192.74H492.40V191.13H492.95V194.46H493.50V192.56H494.05V194.99H494.60V190.37H495.15V191.44H495.70V190.89H496.25V192.17H496.80V191.17H497.35V192.43H497.90V191.98H498.45V191.90H499.00V190.57H499.55V194.47H500.10V192.17H500.65V192.90H501.20V194.83H501.75V191.74H502.30V191.85H502.85V194.39H503.40V194.79H503.95V193.96H504.50V190.98H505.05V194.91H505.60V191.09H506.15V190.45H506.70V190.45H507.25V193.79H507.80V194.58H508.35V194.17H508.90V194.57H509.45V190.52H510.00V192.32H510.55V192.00H511.10V194.71H511.65V193.65H512.20V194.98H512.75V192.81H513.30V194.06H513.85V192.37H514.40V190.85H514.95V193.59H515.50V190.21H516.05V194.53H516.60V192.50H517.15V192.04H517.70V191.44H518.25V190.91H518.80V190.85H519.35V194.20H519.90V191.57H520.45V193.36H521.00V190.20H521.55V191.29H522.10V191.34H522.65V193.04H523.20V190.67H523.75V191.25H524.30V197.6Z" fill="#111"/>
<line x1="436.00" y1="197.60" x2="436.00" y2="170.20" stroke="#111" stroke-width="1.0"/>
<line x1="348.00" y1="197.80" x2="524.00" y2="197.80" stroke="#000" stroke-width="1.0"/>
<line x1="443.00" y1="137.40" x2="443.00" y2="145.30" stroke="#333" stroke-width="1.3"/>
<line x1="443.00" y1="161.30" x2="443.00" y2="176.60" stroke="#333" stroke-width="1.3"/>
<line x1="462.10" y1="137.40" x2="462.10" y2="145.30" stroke="#333" stroke-width="1.3"/>
<line x1="462.10" y1="161.30" x2="462.10" y2="176.60" stroke="#333" stroke-width="1.3"/>
<path d="M352.0,201.3h2.2 M370.5,201.3h2.2 M389.0,201.3h2.2 M407.5,201.3h2.2 M426.0,201.3h2.2 M444.5,201.3h2.2 M463.0,201.3h2.2 M481.5,201.3h2.2 M500.0,201.3h2.2 M518.5,201.3h2.2" stroke="#bbb" stroke-width="0.6"/>
<text x="436.20" y="209.50" font-size="9" text-anchor="middle" fill="#222" stroke="#222" stroke-width="0.18">S</text>
<line x1="511.90" y1="209.20" x2="520.90" y2="209.20" stroke="#111" stroke-width="1.6"/>
<text x="517.20" y="220.50" font-size="9.3" text-anchor="middle" fill="#222" stroke="#222" stroke-width="0.18">100ms</text>
<text x="4.70" y="262.10" font-size="25.3" text-anchor="start" fill="#000">C</text>
<line x1="33.70" y1="287.50" x2="33.70" y2="388.60" stroke="#1a1a1a" stroke-width="1.1"/>
<line x1="33.20" y1="388.10" x2="184.40" y2="388.10" stroke="#1a1a1a" stroke-width="1.1"/>
<line x1="29.50" y1="388.10" x2="33.70" y2="388.10" stroke="#1a1a1a" stroke-width="1.1"/>
<text x="27.30" y="391.50" font-size="9.5" text-anchor="end" fill="#111" stroke="#111" stroke-width="0.18">0</text>
<line x1="29.50" y1="354.57" x2="33.70" y2="354.57" stroke="#1a1a1a" stroke-width="1.1"/>
<text x="27.30" y="357.97" font-size="9.5" text-anchor="end" fill="#111" stroke="#111" stroke-width="0.18">10</text>
<line x1="29.50" y1="321.03" x2="33.70" y2="321.03" stroke="#1a1a1a" stroke-width="1.1"/>
<text x="27.30" y="324.43" font-size="9.5" text-anchor="end" fill="#111" stroke="#111" stroke-width="0.18">20</text>
<line x1="29.50" y1="287.50" x2="33.70" y2="287.50" stroke="#1a1a1a" stroke-width="1.1"/>
<text x="27.30" y="290.90" font-size="9.5" text-anchor="end" fill="#111" stroke="#111" stroke-width="0.18">30</text>
<line x1="33.70" y1="388.10" x2="33.70" y2="391.90" stroke="#1a1a1a" stroke-width="1.1"/>
<text x="33.70" y="402.90" font-size="9.5" text-anchor="middle" fill="#111" stroke="#111" stroke-width="0.18">0</text>
<line x1="71.38" y1="388.10" x2="71.38" y2="391.90" stroke="#1a1a1a" stroke-width="1.1"/>
<text x="71.38" y="402.90" font-size="9.5" text-anchor="middle" fill="#111" stroke="#111" stroke-width="0.18">5</text>
<line x1="109.05" y1="388.10" x2="109.05" y2="391.90" stroke="#1a1a1a" stroke-width="1.1"/>
<text x="109.05" y="402.90" font-size="9.5" text-anchor="middle" fill="#111" stroke="#111" stroke-width="0.18">10</text>
<line x1="146.72" y1="388.10" x2="146.72" y2="391.90" stroke="#1a1a1a" stroke-width="1.1"/>
<text x="146.72" y="402.90" font-size="9.5" text-anchor="middle" fill="#111" stroke="#111" stroke-width="0.18">15</text>
<line x1="184.40" y1="388.10" x2="184.40" y2="391.90" stroke="#1a1a1a" stroke-width="1.1"/>
<text x="184.40" y="402.90" font-size="9.5" text-anchor="middle" fill="#111" stroke="#111" stroke-width="0.18">20</text>
<text x="108.90" y="417.20" font-size="10.9" text-anchor="middle" fill="#111" stroke="#111" stroke-width="0.18">Stimulation intensity (mA)</text>
<text x="11.40" y="336.60" font-size="10.9" text-anchor="middle" fill="#111" stroke="#111" stroke-width="0.18" transform="rotate(-90 11.40 336.60)">Number of spikes C</text>
<polyline fill="none" stroke="#111" stroke-width="1.0" points="41.23,376.36 48.77,366.30 56.30,362.61 63.84,354.90 71.38,345.18 78.91,338.47 86.44,333.11 93.98,331.43 101.52,325.06 109.05,329.75 116.58,320.03 124.12,320.70 131.65,319.69 139.19,318.35 146.72,315.00 154.26,316.00 161.80,315.00 169.33,316.34 176.87,321.37 184.40,318.35"/>
<polyline fill="none" stroke="#111" stroke-width="1.0" points="41.23,370.66 48.77,356.91 56.30,346.52 63.84,334.45 71.38,321.37 78.91,318.69 86.44,313.66 93.98,312.31 101.52,312.31 109.05,309.63 116.58,309.63 124.12,308.29 131.65,308.29 139.19,304.27 146.72,301.92 154.26,300.24 161.80,302.93 169.33,300.91 176.87,299.57 184.40,299.91"/>
<line x1="41.23" y1="376.36" x2="41.23" y2="381.39" stroke="#222" stroke-width="1.1"/>
<line x1="48.77" y1="366.30" x2="48.77" y2="373.35" stroke="#222" stroke-width="1.1"/>
<line x1="56.30" y1="362.61" x2="56.30" y2="369.32" stroke="#222" stroke-width="1.1"/>
<line x1="63.84" y1="354.90" x2="63.84" y2="361.61" stroke="#222" stroke-width="1.1"/>
<line x1="71.38" y1="345.18" x2="71.38" y2="351.88" stroke="#222" stroke-width="1.1"/>
<line x1="78.91" y1="338.47" x2="78.91" y2="345.51" stroke="#222" stroke-width="1.1"/>
<line x1="86.44" y1="333.11" x2="86.44" y2="340.82" stroke="#222" stroke-width="1.1"/>
<line x1="93.98" y1="331.43" x2="93.98" y2="338.81" stroke="#222" stroke-width="1.1"/>
<line x1="101.52" y1="325.06" x2="101.52" y2="333.44" stroke="#222" stroke-width="1.1"/>
<line x1="109.05" y1="329.75" x2="109.05" y2="337.13" stroke="#222" stroke-width="1.1"/>
<line x1="116.58" y1="320.03" x2="116.58" y2="329.42" stroke="#222" stroke-width="1.1"/>
<line x1="124.12" y1="320.70" x2="124.12" y2="330.09" stroke="#222" stroke-width="1.1"/>
<line x1="131.65" y1="319.69" x2="131.65" y2="329.08" stroke="#222" stroke-width="1.1"/>
<line x1="139.19" y1="318.35" x2="139.19" y2="328.08" stroke="#222" stroke-width="1.1"/>
<line x1="146.72" y1="315.00" x2="146.72" y2="324.72" stroke="#222" stroke-width="1.1"/>
<line x1="154.26" y1="316.00" x2="154.26" y2="326.06" stroke="#222" stroke-width="1.1"/>
<line x1="161.80" y1="315.00" x2="161.80" y2="324.39" stroke="#222" stroke-width="1.1"/>
<line x1="169.33" y1="316.34" x2="169.33" y2="326.40" stroke="#222" stroke-width="1.1"/>
<line x1="176.87" y1="321.37" x2="176.87" y2="331.43" stroke="#222" stroke-width="1.1"/>
<line x1="184.40" y1="318.35" x2="184.40" y2="326.40" stroke="#222" stroke-width="1.1"/>
<line x1="41.23" y1="370.66" x2="41.23" y2="362.61" stroke="#222" stroke-width="1.1"/>
<line x1="48.77" y1="356.91" x2="48.77" y2="348.20" stroke="#222" stroke-width="1.1"/>
<line x1="56.30" y1="346.52" x2="56.30" y2="337.80" stroke="#222" stroke-width="1.1"/>
<line x1="63.84" y1="334.45" x2="63.84" y2="324.05" stroke="#222" stroke-width="1.1"/>
<line x1="71.38" y1="321.37" x2="71.38" y2="310.97" stroke="#222" stroke-width="1.1"/>
<line x1="78.91" y1="318.69" x2="78.91" y2="308.29" stroke="#222" stroke-width="1.1"/>
<line x1="86.44" y1="313.66" x2="86.44" y2="304.60" stroke="#222" stroke-width="1.1"/>
<line x1="93.98" y1="312.31" x2="93.98" y2="303.93" stroke="#222" stroke-width="1.1"/>
<line x1="101.52" y1="312.31" x2="101.52" y2="304.27" stroke="#222" stroke-width="1.1"/>
<line x1="109.05" y1="309.63" x2="109.05" y2="301.58" stroke="#222" stroke-width="1.1"/>
<line x1="116.58" y1="309.63" x2="116.58" y2="301.58" stroke="#222" stroke-width="1.1"/>
<line x1="124.12" y1="308.29" x2="124.12" y2="299.57" stroke="#222" stroke-width="1.1"/>
<line x1="131.65" y1="308.29" x2="131.65" y2="300.24" stroke="#222" stroke-width="1.1"/>
<line x1="139.19" y1="304.27" x2="139.19" y2="295.55" stroke="#222" stroke-width="1.1"/>
<line x1="146.72" y1="301.92" x2="146.72" y2="293.20" stroke="#222" stroke-width="1.1"/>
<line x1="154.26" y1="300.24" x2="154.26" y2="290.52" stroke="#222" stroke-width="1.1"/>
<line x1="161.80" y1="302.93" x2="161.80" y2="293.20" stroke="#222" stroke-width="1.1"/>
<line x1="169.33" y1="300.91" x2="169.33" y2="290.85" stroke="#222" stroke-width="1.1"/>
<line x1="176.87" y1="299.57" x2="176.87" y2="289.51" stroke="#222" stroke-width="1.1"/>
<line x1="184.40" y1="299.91" x2="184.40" y2="290.52" stroke="#222" stroke-width="1.1"/>
<circle cx="41.23" cy="376.36" r="3.0" fill="#111" stroke="#111" stroke-width="1.0"/>
<circle cx="48.77" cy="366.30" r="3.0" fill="#111" stroke="#111" stroke-width="1.0"/>
<circle cx="56.30" cy="362.61" r="3.0" fill="#111" stroke="#111" stroke-width="1.0"/>
<circle cx="63.84" cy="354.90" r="3.0" fill="#111" stroke="#111" stroke-width="1.0"/>
<circle cx="71.38" cy="345.18" r="3.0" fill="#111" stroke="#111" stroke-width="1.0"/>
<circle cx="78.91" cy="338.47" r="3.0" fill="#111" stroke="#111" stroke-width="1.0"/>
<circle cx="86.44" cy="333.11" r="3.0" fill="#111" stroke="#111" stroke-width="1.0"/>
<circle cx="93.98" cy="331.43" r="3.0" fill="#111" stroke="#111" stroke-width="1.0"/>
<circle cx="101.52" cy="325.06" r="3.0" fill="#111" stroke="#111" stroke-width="1.0"/>
<circle cx="109.05" cy="329.75" r="3.0" fill="#111" stroke="#111" stroke-width="1.0"/>
<circle cx="116.58" cy="320.03" r="3.0" fill="#111" stroke="#111" stroke-width="1.0"/>
<circle cx="124.12" cy="320.70" r="3.0" fill="#111" stroke="#111" stroke-width="1.0"/>
<circle cx="131.65" cy="319.69" r="3.0" fill="#111" stroke="#111" stroke-width="1.0"/>
<circle cx="139.19" cy="318.35" r="3.0" fill="#111" stroke="#111" stroke-width="1.0"/>
<circle cx="146.72" cy="315.00" r="3.0" fill="#111" stroke="#111" stroke-width="1.0"/>
<circle cx="154.26" cy="316.00" r="3.0" fill="#111" stroke="#111" stroke-width="1.0"/>
<circle cx="161.80" cy="315.00" r="3.0" fill="#111" stroke="#111" stroke-width="1.0"/>
<circle cx="169.33" cy="316.34" r="3.0" fill="#111" stroke="#111" stroke-width="1.0"/>
<circle cx="176.87" cy="321.37" r="3.0" fill="#111" stroke="#111" stroke-width="1.0"/>
<circle cx="184.40" cy="318.35" r="3.0" fill="#111" stroke="#111" stroke-width="1.0"/>
<circle cx="41.23" cy="370.66" r="3.0" fill="#fff" stroke="#111" stroke-width="1.0"/>
<circle cx="48.77" cy="356.91" r="3.0" fill="#fff" stroke="#111" stroke-width="1.0"/>
<circle cx="56.30" cy="346.52" r="3.0" fill="#fff" stroke="#111" stroke-width="1.0"/>
<circle cx="63.84" cy="334.45" r="3.0" fill="#fff" stroke="#111" stroke-width="1.0"/>
<circle cx="71.38" cy="321.37" r="3.0" fill="#fff" stroke="#111" stroke-width="1.0"/>
<circle cx="78.91" cy="318.69" r="3.0" fill="#fff" stroke="#111" stroke-width="1.0"/>
<circle cx="86.44" cy="313.66" r="3.0" fill="#fff" stroke="#111" stroke-width="1.0"/>
<circle cx="93.98" cy="312.31" r="3.0" fill="#fff" stroke="#111" stroke-width="1.0"/>
<circle cx="101.52" cy="312.31" r="3.0" fill="#fff" stroke="#111" stroke-width="1.0"/>
<circle cx="109.05" cy="309.63" r="3.0" fill="#fff" stroke="#111" stroke-width="1.0"/>
<circle cx="116.58" cy="309.63" r="3.0" fill="#fff" stroke="#111" stroke-width="1.0"/>
<circle cx="124.12" cy="308.29" r="3.0" fill="#fff" stroke="#111" stroke-width="1.0"/>
<circle cx="131.65" cy="308.29" r="3.0" fill="#fff" stroke="#111" stroke-width="1.0"/>
<circle cx="139.19" cy="304.27" r="3.0" fill="#fff" stroke="#111" stroke-width="1.0"/>
<circle cx="146.72" cy="301.92" r="3.0" fill="#fff" stroke="#111" stroke-width="1.0"/>
<circle cx="154.26" cy="300.24" r="3.0" fill="#fff" stroke="#111" stroke-width="1.0"/>
<circle cx="161.80" cy="302.93" r="3.0" fill="#fff" stroke="#111" stroke-width="1.0"/>
<circle cx="169.33" cy="300.91" r="3.0" fill="#fff" stroke="#111" stroke-width="1.0"/>
<circle cx="176.87" cy="299.57" r="3.0" fill="#fff" stroke="#111" stroke-width="1.0"/>
<circle cx="184.40" cy="299.91" r="3.0" fill="#fff" stroke="#111" stroke-width="1.0"/>
<line x1="47.00" y1="280.60" x2="58.60" y2="280.60" stroke="#111" stroke-width="1.0"/>
<circle cx="52.80" cy="280.60" r="2.95" fill="#111" stroke="#111" stroke-width="1.0"/>
<text x="65.00" y="283.60" font-size="8.1" text-anchor="start" fill="#111" stroke="#111" stroke-width="0.18">Sham</text>
<line x1="47.00" y1="294.60" x2="58.60" y2="294.60" stroke="#111" stroke-width="1.0"/>
<circle cx="52.80" cy="294.60" r="2.95" fill="#fff" stroke="#111" stroke-width="1.0"/>
<text x="65.00" y="297.60" font-size="8.1" text-anchor="start" fill="#111" stroke="#111" stroke-width="0.18">6-OHDA</text>
<path d="M195.20,296.30L198.30,296.30M195.20,296.30L196.75,298.98M195.20,296.30L193.65,298.98M195.20,296.30L192.10,296.30M195.20,296.30L193.65,293.62M195.20,296.30L196.75,293.62" stroke="#111" stroke-width="1.45" stroke-linecap="round" fill="none"/>
<circle cx="195.20" cy="296.30" r="1.16" fill="#111"/>
<path d="M195.20,304.50L198.30,304.50M195.20,304.50L196.75,307.18M195.20,304.50L193.65,307.18M195.20,304.50L192.10,304.50M195.20,304.50L193.65,301.82M195.20,304.50L196.75,301.82" stroke="#111" stroke-width="1.45" stroke-linecap="round" fill="none"/>
<circle cx="195.20" cy="304.50" r="1.16" fill="#111"/>
<path d="M195.20,312.80L198.30,312.80M195.20,312.80L196.75,315.48M195.20,312.80L193.65,315.48M195.20,312.80L192.10,312.80M195.20,312.80L193.65,310.12M195.20,312.80L196.75,310.12" stroke="#111" stroke-width="1.45" stroke-linecap="round" fill="none"/>
<circle cx="195.20" cy="312.80" r="1.16" fill="#111"/>
<path d="M195.20,321.00L198.30,321.00M195.20,321.00L196.75,323.68M195.20,321.00L193.65,323.68M195.20,321.00L192.10,321.00M195.20,321.00L193.65,318.32M195.20,321.00L196.75,318.32" stroke="#111" stroke-width="1.45" stroke-linecap="round" fill="none"/>
<circle cx="195.20" cy="321.00" r="1.16" fill="#111"/>
<line x1="250.50" y1="287.60" x2="250.50" y2="389.90" stroke="#1a1a1a" stroke-width="1.1"/>
<line x1="250.00" y1="389.40" x2="318.60" y2="389.40" stroke="#1a1a1a" stroke-width="1.1"/>
<line x1="246.50" y1="389.40" x2="250.50" y2="389.40" stroke="#1a1a1a" stroke-width="1.1"/>
<text x="245.00" y="393.00" font-size="9.5" text-anchor="end" fill="#111" stroke="#111" stroke-width="0.18">0</text>
<line x1="246.50" y1="355.47" x2="250.50" y2="355.47" stroke="#1a1a1a" stroke-width="1.1"/>
<text x="245.00" y="359.07" font-size="9.5" text-anchor="end" fill="#111" stroke="#111" stroke-width="0.18">500</text>
<line x1="246.50" y1="321.53" x2="250.50" y2="321.53" stroke="#1a1a1a" stroke-width="1.1"/>
<text x="245.00" y="325.13" font-size="9.5" text-anchor="end" fill="#111" stroke="#111" stroke-width="0.18">1000</text>
<line x1="246.50" y1="287.60" x2="250.50" y2="287.60" stroke="#1a1a1a" stroke-width="1.1"/>
<text x="245.00" y="291.20" font-size="9.5" text-anchor="end" fill="#111" stroke="#111" stroke-width="0.18">1500</text>
<rect x="261.2" y="371.08" width="17.8" height="18.32" fill="#858585" stroke="#111" stroke-width="1.1"/>
<rect x="290.4" y="355.47" width="17.9" height="33.93" fill="#bababa" stroke="#111" stroke-width="1.1"/>
<line x1="269.90" y1="389.40" x2="269.90" y2="393.40" stroke="#1a1a1a" stroke-width="1.1"/>
<line x1="298.90" y1="389.40" x2="298.90" y2="393.40" stroke="#1a1a1a" stroke-width="1.1"/>
<circle cx="272.50" cy="358.90" r="2.7" fill="#111" stroke="#111" stroke-width="1.0"/>
<circle cx="263.10" cy="365.80" r="2.7" fill="#111" stroke="#111" stroke-width="1.0"/>
<circle cx="267.50" cy="363.60" r="2.7" fill="#111" stroke="#111" stroke-width="1.0"/>
<circle cx="276.90" cy="367.40" r="2.7" fill="#111" stroke="#111" stroke-width="1.0"/>
<circle cx="273.80" cy="368.30" r="2.7" fill="#111" stroke="#111" stroke-width="1.0"/>
<circle cx="270.00" cy="368.90" r="2.7" fill="#111" stroke="#111" stroke-width="1.0"/>
<circle cx="265.60" cy="367.60" r="2.7" fill="#111" stroke="#111" stroke-width="1.0"/>
<circle cx="269.40" cy="375.20" r="2.7" fill="#111" stroke="#111" stroke-width="1.0"/>
<circle cx="271.30" cy="377.70" r="2.7" fill="#111" stroke="#111" stroke-width="1.0"/>
<circle cx="266.30" cy="381.20" r="2.7" fill="#111" stroke="#111" stroke-width="1.0"/>
<circle cx="273.80" cy="382.00" r="2.7" fill="#111" stroke="#111" stroke-width="1.0"/>
<circle cx="268.10" cy="371.40" r="2.7" fill="#111" stroke="#111" stroke-width="1.0"/>
<circle cx="275.00" cy="370.10" r="2.7" fill="#111" stroke="#111" stroke-width="1.0"/>
<circle cx="298.80" cy="317.30" r="2.8" fill="#fff" stroke="#111" stroke-width="1.0"/>
<circle cx="301.30" cy="327.30" r="2.8" fill="#fff" stroke="#111" stroke-width="1.0"/>
<circle cx="297.60" cy="332.00" r="2.8" fill="#fff" stroke="#111" stroke-width="1.0"/>
<circle cx="299.50" cy="338.20" r="2.8" fill="#fff" stroke="#111" stroke-width="1.0"/>
<circle cx="303.20" cy="339.80" r="2.8" fill="#fff" stroke="#111" stroke-width="1.0"/>
<circle cx="299.50" cy="341.30" r="2.8" fill="#fff" stroke="#111" stroke-width="1.0"/>
<circle cx="295.70" cy="344.20" r="2.8" fill="#fff" stroke="#111" stroke-width="1.0"/>
<circle cx="297.60" cy="350.10" r="2.8" fill="#fff" stroke="#111" stroke-width="1.0"/>
<circle cx="302.00" cy="351.60" r="2.8" fill="#fff" stroke="#111" stroke-width="1.0"/>
<circle cx="299.50" cy="353.90" r="2.8" fill="#fff" stroke="#111" stroke-width="1.0"/>
<circle cx="295.70" cy="357.60" r="2.8" fill="#fff" stroke="#111" stroke-width="1.0"/>
<circle cx="301.30" cy="359.10" r="2.8" fill="#fff" stroke="#111" stroke-width="1.0"/>
<circle cx="297.80" cy="362.60" r="2.8" fill="#fff" stroke="#111" stroke-width="1.0"/>
<circle cx="294.40" cy="367.00" r="2.8" fill="#fff" stroke="#111" stroke-width="1.0"/>
<circle cx="301.30" cy="370.10" r="2.8" fill="#fff" stroke="#111" stroke-width="1.0"/>
<circle cx="302.60" cy="370.80" r="2.8" fill="#fff" stroke="#111" stroke-width="1.0"/>
<circle cx="292.60" cy="373.90" r="2.8" fill="#fff" stroke="#111" stroke-width="1.0"/>
<circle cx="298.80" cy="372.60" r="2.8" fill="#fff" stroke="#111" stroke-width="1.0"/>
<circle cx="305.70" cy="375.80" r="2.8" fill="#fff" stroke="#111" stroke-width="1.0"/>
<path d="M295.30,303.30L295.30,300.60M295.30,303.30L297.87,302.47M295.30,303.30L296.89,305.48M295.30,303.30L293.71,305.48M295.30,303.30L292.73,302.47" stroke="#111" stroke-width="1.45" stroke-linecap="round" fill="none"/>
<circle cx="295.30" cy="303.30" r="1.16" fill="#111"/>
<path d="M302.40,303.30L302.40,300.60M302.40,303.30L304.97,302.47M302.40,303.30L303.99,305.48M302.40,303.30L300.81,305.48M302.40,303.30L299.83,302.47" stroke="#111" stroke-width="1.45" stroke-linecap="round" fill="none"/>
<circle cx="302.40" cy="303.30" r="1.16" fill="#111"/>
<text x="220.40" y="337.20" font-size="9.5" text-anchor="middle" fill="#111" stroke="#111" stroke-width="0.18" transform="rotate(-90 220.40 337.20)">Total number of spikes C</text>
<text x="272.20" y="402.30" font-size="10" text-anchor="end" fill="#111" stroke="#111" stroke-width="0.18" transform="rotate(-45 272.20 402.30)">Sham</text>
<text x="301.20" y="402.30" font-size="10" text-anchor="end" fill="#111" stroke="#111" stroke-width="0.18" transform="rotate(-45 301.20 402.30)">6OHDA</text>
<text x="348.10" y="259.50" font-size="25.3" text-anchor="start" fill="#000">D</text>
<line x1="366.40" y1="288.10" x2="366.40" y2="388.30" stroke="#1a1a1a" stroke-width="1.1"/>
<line x1="365.90" y1="387.80" x2="516.10" y2="387.80" stroke="#1a1a1a" stroke-width="1.1"/>
<line x1="362.20" y1="387.80" x2="366.40" y2="387.80" stroke="#1a1a1a" stroke-width="1.1"/>
<text x="360.00" y="391.20" font-size="9.5" text-anchor="end" fill="#111" stroke="#111" stroke-width="0.18">0</text>
<line x1="362.20" y1="354.57" x2="366.40" y2="354.57" stroke="#1a1a1a" stroke-width="1.1"/>
<text x="360.00" y="357.97" font-size="9.5" text-anchor="end" fill="#111" stroke="#111" stroke-width="0.18">10</text>
<line x1="362.20" y1="321.33" x2="366.40" y2="321.33" stroke="#1a1a1a" stroke-width="1.1"/>
<text x="360.00" y="324.73" font-size="9.5" text-anchor="end" fill="#111" stroke="#111" stroke-width="0.18">20</text>
<line x1="362.20" y1="288.10" x2="366.40" y2="288.10" stroke="#1a1a1a" stroke-width="1.1"/>
<text x="360.00" y="291.50" font-size="9.5" text-anchor="end" fill="#111" stroke="#111" stroke-width="0.18">30</text>
<line x1="366.40" y1="387.80" x2="366.40" y2="391.60" stroke="#1a1a1a" stroke-width="1.1"/>
<text x="366.40" y="402.60" font-size="9.5" text-anchor="middle" fill="#111" stroke="#111" stroke-width="0.18">0</text>
<line x1="403.82" y1="387.80" x2="403.82" y2="391.60" stroke="#1a1a1a" stroke-width="1.1"/>
<text x="403.82" y="402.60" font-size="9.5" text-anchor="middle" fill="#111" stroke="#111" stroke-width="0.18">5</text>
<line x1="441.25" y1="387.80" x2="441.25" y2="391.60" stroke="#1a1a1a" stroke-width="1.1"/>
<text x="441.25" y="402.60" font-size="9.5" text-anchor="middle" fill="#111" stroke="#111" stroke-width="0.18">10</text>
<line x1="478.68" y1="387.80" x2="478.68" y2="391.60" stroke="#1a1a1a" stroke-width="1.1"/>
<text x="478.68" y="402.60" font-size="9.5" text-anchor="middle" fill="#111" stroke="#111" stroke-width="0.18">15</text>
<line x1="516.10" y1="387.80" x2="516.10" y2="391.60" stroke="#1a1a1a" stroke-width="1.1"/>
<text x="516.10" y="402.60" font-size="9.5" text-anchor="middle" fill="#111" stroke="#111" stroke-width="0.18">20</text>
<text x="441.20" y="416.60" font-size="10.9" text-anchor="middle" fill="#111" stroke="#111" stroke-width="0.18">Stimulation intensity (mA)</text>
<text x="345.20" y="337.00" font-size="10.9" text-anchor="middle" fill="#111" stroke="#111" stroke-width="0.18" transform="rotate(-90 345.20 337.00)">Number of spikes C</text>
<polyline fill="none" stroke="#2f64a6" stroke-width="1.0" points="373.88,377.83 381.37,377.50 388.85,366.86 396.34,362.54 403.82,360.55 411.31,356.56 418.80,357.89 426.28,353.57 433.76,349.25 441.25,356.23 448.74,350.25 456.22,350.25 463.70,351.91 471.19,353.90 478.68,352.91 486.16,351.24 493.64,353.90 501.13,350.58 508.62,352.91 516.10,352.91"/>
<polyline fill="none" stroke="#111" stroke-width="1.0" points="373.88,379.16 381.37,367.86 388.85,364.54 396.34,359.55 403.82,353.90 411.31,347.92 418.80,345.59 426.28,345.93 433.76,341.27 441.25,338.95 448.74,340.94 456.22,335.62 463.70,338.95 471.19,336.95 478.68,337.95 486.16,336.95 493.64,332.97 501.13,332.97 508.62,337.95 516.10,334.63"/>
<line x1="373.88" y1="377.83" x2="373.88" y2="381.15" stroke="#2f64a6" stroke-width="1.1"/>
<line x1="381.37" y1="377.50" x2="381.37" y2="382.48" stroke="#2f64a6" stroke-width="1.1"/>
<line x1="388.85" y1="366.86" x2="388.85" y2="371.85" stroke="#2f64a6" stroke-width="1.1"/>
<line x1="396.34" y1="362.54" x2="396.34" y2="367.53" stroke="#2f64a6" stroke-width="1.1"/>
<line x1="403.82" y1="360.55" x2="403.82" y2="367.20" stroke="#2f64a6" stroke-width="1.1"/>
<line x1="411.31" y1="356.56" x2="411.31" y2="364.87" stroke="#2f64a6" stroke-width="1.1"/>
<line x1="418.80" y1="357.89" x2="418.80" y2="366.20" stroke="#2f64a6" stroke-width="1.1"/>
<line x1="426.28" y1="353.57" x2="426.28" y2="361.88" stroke="#2f64a6" stroke-width="1.1"/>
<line x1="433.76" y1="349.25" x2="433.76" y2="357.56" stroke="#2f64a6" stroke-width="1.1"/>
<line x1="441.25" y1="356.23" x2="441.25" y2="363.87" stroke="#2f64a6" stroke-width="1.1"/>
<line x1="448.74" y1="350.25" x2="448.74" y2="360.22" stroke="#2f64a6" stroke-width="1.1"/>
<line x1="456.22" y1="350.25" x2="456.22" y2="360.22" stroke="#2f64a6" stroke-width="1.1"/>
<line x1="463.70" y1="351.91" x2="463.70" y2="362.88" stroke="#2f64a6" stroke-width="1.1"/>
<line x1="471.19" y1="353.90" x2="471.19" y2="363.21" stroke="#2f64a6" stroke-width="1.1"/>
<line x1="478.68" y1="352.91" x2="478.68" y2="362.88" stroke="#2f64a6" stroke-width="1.1"/>
<line x1="486.16" y1="351.24" x2="486.16" y2="366.20" stroke="#2f64a6" stroke-width="1.1"/>
<line x1="493.64" y1="353.90" x2="493.64" y2="365.20" stroke="#2f64a6" stroke-width="1.1"/>
<line x1="501.13" y1="350.58" x2="501.13" y2="362.21" stroke="#2f64a6" stroke-width="1.1"/>
<line x1="508.62" y1="352.91" x2="508.62" y2="361.21" stroke="#2f64a6" stroke-width="1.1"/>
<line x1="516.10" y1="352.91" x2="516.10" y2="361.21" stroke="#2f64a6" stroke-width="1.1"/>
<line x1="373.88" y1="379.16" x2="373.88" y2="374.17" stroke="#222" stroke-width="1.1"/>
<line x1="381.37" y1="367.86" x2="381.37" y2="361.21" stroke="#222" stroke-width="1.1"/>
<line x1="388.85" y1="364.54" x2="388.85" y2="358.55" stroke="#222" stroke-width="1.1"/>
<line x1="396.34" y1="359.55" x2="396.34" y2="352.91" stroke="#222" stroke-width="1.1"/>
<line x1="403.82" y1="353.90" x2="403.82" y2="346.26" stroke="#222" stroke-width="1.1"/>
<line x1="411.31" y1="347.92" x2="411.31" y2="339.61" stroke="#222" stroke-width="1.1"/>
<line x1="418.80" y1="345.59" x2="418.80" y2="335.62" stroke="#222" stroke-width="1.1"/>
<line x1="426.28" y1="345.93" x2="426.28" y2="336.29" stroke="#222" stroke-width="1.1"/>
<line x1="433.76" y1="341.27" x2="433.76" y2="331.30" stroke="#222" stroke-width="1.1"/>
<line x1="441.25" y1="338.95" x2="441.25" y2="326.98" stroke="#222" stroke-width="1.1"/>
<line x1="448.74" y1="340.94" x2="448.74" y2="329.31" stroke="#222" stroke-width="1.1"/>
<line x1="456.22" y1="335.62" x2="456.22" y2="322.66" stroke="#222" stroke-width="1.1"/>
<line x1="463.70" y1="338.95" x2="463.70" y2="325.65" stroke="#222" stroke-width="1.1"/>
<line x1="471.19" y1="336.95" x2="471.19" y2="323.66" stroke="#222" stroke-width="1.1"/>
<line x1="478.68" y1="337.95" x2="478.68" y2="324.66" stroke="#222" stroke-width="1.1"/>
<line x1="486.16" y1="336.95" x2="486.16" y2="325.32" stroke="#222" stroke-width="1.1"/>
<line x1="493.64" y1="332.97" x2="493.64" y2="320.00" stroke="#222" stroke-width="1.1"/>
<line x1="501.13" y1="332.97" x2="501.13" y2="319.34" stroke="#222" stroke-width="1.1"/>
<line x1="508.62" y1="337.95" x2="508.62" y2="326.32" stroke="#222" stroke-width="1.1"/>
<line x1="516.10" y1="334.63" x2="516.10" y2="322.33" stroke="#222" stroke-width="1.1"/>
<circle cx="373.88" cy="377.83" r="3.0" fill="#2f64a6" stroke="#111" stroke-width="1.0"/>
<circle cx="381.37" cy="377.50" r="3.0" fill="#2f64a6" stroke="#111" stroke-width="1.0"/>
<circle cx="388.85" cy="366.86" r="3.0" fill="#2f64a6" stroke="#111" stroke-width="1.0"/>
<circle cx="396.34" cy="362.54" r="3.0" fill="#2f64a6" stroke="#111" stroke-width="1.0"/>
<circle cx="403.82" cy="360.55" r="3.0" fill="#2f64a6" stroke="#111" stroke-width="1.0"/>
<circle cx="411.31" cy="356.56" r="3.0" fill="#2f64a6" stroke="#111" stroke-width="1.0"/>
<circle cx="418.80" cy="357.89" r="3.0" fill="#2f64a6" stroke="#111" stroke-width="1.0"/>
<circle cx="426.28" cy="353.57" r="3.0" fill="#2f64a6" stroke="#111" stroke-width="1.0"/>
<circle cx="433.76" cy="349.25" r="3.0" fill="#2f64a6" stroke="#111" stroke-width="1.0"/>
<circle cx="441.25" cy="356.23" r="3.0" fill="#2f64a6" stroke="#111" stroke-width="1.0"/>
<circle cx="448.74" cy="350.25" r="3.0" fill="#2f64a6" stroke="#111" stroke-width="1.0"/>
<circle cx="456.22" cy="350.25" r="3.0" fill="#2f64a6" stroke="#111" stroke-width="1.0"/>
<circle cx="463.70" cy="351.91" r="3.0" fill="#2f64a6" stroke="#111" stroke-width="1.0"/>
<circle cx="471.19" cy="353.90" r="3.0" fill="#2f64a6" stroke="#111" stroke-width="1.0"/>
<circle cx="478.68" cy="352.91" r="3.0" fill="#2f64a6" stroke="#111" stroke-width="1.0"/>
<circle cx="486.16" cy="351.24" r="3.0" fill="#2f64a6" stroke="#111" stroke-width="1.0"/>
<circle cx="493.64" cy="353.90" r="3.0" fill="#2f64a6" stroke="#111" stroke-width="1.0"/>
<circle cx="501.13" cy="350.58" r="3.0" fill="#2f64a6" stroke="#111" stroke-width="1.0"/>
<circle cx="508.62" cy="352.91" r="3.0" fill="#2f64a6" stroke="#111" stroke-width="1.0"/>
<circle cx="516.10" cy="352.91" r="3.0" fill="#2f64a6" stroke="#111" stroke-width="1.0"/>
<circle cx="373.88" cy="379.16" r="3.0" fill="#fff" stroke="#111" stroke-width="1.0"/>
<circle cx="381.37" cy="367.86" r="3.0" fill="#fff" stroke="#111" stroke-width="1.0"/>
<circle cx="388.85" cy="364.54" r="3.0" fill="#fff" stroke="#111" stroke-width="1.0"/>
<circle cx="396.34" cy="359.55" r="3.0" fill="#fff" stroke="#111" stroke-width="1.0"/>
<circle cx="403.82" cy="353.90" r="3.0" fill="#fff" stroke="#111" stroke-width="1.0"/>
<circle cx="411.31" cy="347.92" r="3.0" fill="#fff" stroke="#111" stroke-width="1.0"/>
<circle cx="418.80" cy="345.59" r="3.0" fill="#fff" stroke="#111" stroke-width="1.0"/>
<circle cx="426.28" cy="345.93" r="3.0" fill="#fff" stroke="#111" stroke-width="1.0"/>
<circle cx="433.76" cy="341.27" r="3.0" fill="#fff" stroke="#111" stroke-width="1.0"/>
<circle cx="441.25" cy="338.95" r="3.0" fill="#fff" stroke="#111" stroke-width="1.0"/>
<circle cx="448.74" cy="340.94" r="3.0" fill="#fff" stroke="#111" stroke-width="1.0"/>
<circle cx="456.22" cy="335.62" r="3.0" fill="#fff" stroke="#111" stroke-width="1.0"/>
<circle cx="463.70" cy="338.95" r="3.0" fill="#fff" stroke="#111" stroke-width="1.0"/>
<circle cx="471.19" cy="336.95" r="3.0" fill="#fff" stroke="#111" stroke-width="1.0"/>
<circle cx="478.68" cy="337.95" r="3.0" fill="#fff" stroke="#111" stroke-width="1.0"/>
<circle cx="486.16" cy="336.95" r="3.0" fill="#fff" stroke="#111" stroke-width="1.0"/>
<circle cx="493.64" cy="332.97" r="3.0" fill="#fff" stroke="#111" stroke-width="1.0"/>
<circle cx="501.13" cy="332.97" r="3.0" fill="#fff" stroke="#111" stroke-width="1.0"/>
<circle cx="508.62" cy="337.95" r="3.0" fill="#fff" stroke="#111" stroke-width="1.0"/>
<circle cx="516.10" cy="334.63" r="3.0" fill="#fff" stroke="#111" stroke-width="1.0"/>
<line x1="375.40" y1="285.30" x2="387.00" y2="285.30" stroke="#111" stroke-width="1.0"/>
<circle cx="381.20" cy="285.30" r="2.95" fill="#fff" stroke="#111" stroke-width="1.0"/>
<text x="393.40" y="288.30" font-size="8.1" text-anchor="start" fill="#111" stroke="#111" stroke-width="0.18">6-OHDA Saline</text>
<line x1="375.40" y1="299.60" x2="387.00" y2="299.60" stroke="#2f64a6" stroke-width="1.0"/>
<circle cx="381.20" cy="299.60" r="2.95" fill="#2f64a6" stroke="#111" stroke-width="1.0"/>
<text x="393.40" y="302.60" font-size="8.1" text-anchor="start" fill="#111" stroke="#111" stroke-width="0.18">6-OHDA Apomorphine</text>
<path d="M526.50,336.10L529.60,336.10M526.50,336.10L528.05,338.78M526.50,336.10L524.95,338.78M526.50,336.10L523.40,336.10M526.50,336.10L524.95,333.42M526.50,336.10L528.05,333.42" stroke="#111" stroke-width="1.45" stroke-linecap="round" fill="none"/>
<circle cx="526.50" cy="336.10" r="1.16" fill="#111"/>
<path d="M526.50,344.50L529.60,344.50M526.50,344.50L528.05,347.18M526.50,344.50L524.95,347.18M526.50,344.50L523.40,344.50M526.50,344.50L524.95,341.82M526.50,344.50L528.05,341.82" stroke="#111" stroke-width="1.45" stroke-linecap="round" fill="none"/>
<circle cx="526.50" cy="344.50" r="1.16" fill="#111"/>
<path d="M526.50,352.80L529.60,352.80M526.50,352.80L528.05,355.48M526.50,352.80L524.95,355.48M526.50,352.80L523.40,352.80M526.50,352.80L524.95,350.12M526.50,352.80L528.05,350.12" stroke="#111" stroke-width="1.45" stroke-linecap="round" fill="none"/>
<circle cx="526.50" cy="352.80" r="1.16" fill="#111"/>
<text x="516.50" y="247.20" font-size="11.1" text-anchor="middle" fill="#111" stroke="#111" stroke-width="0.18">Apomorphine</text>
<line x1="484.69" y1="259.10" x2="490.31" y2="259.10" stroke="#222" stroke-width="1.0"/>
<line x1="487.50" y1="256.29" x2="487.50" y2="261.91" stroke="#222" stroke-width="1.0"/>
<line x1="492.09" y1="259.10" x2="497.71" y2="259.10" stroke="#222" stroke-width="1.0"/>
<line x1="494.90" y1="256.29" x2="494.90" y2="261.91" stroke="#222" stroke-width="1.0"/>
<line x1="499.49" y1="259.10" x2="505.11" y2="259.10" stroke="#222" stroke-width="1.0"/>
<line x1="502.30" y1="256.29" x2="502.30" y2="261.91" stroke="#222" stroke-width="1.0"/>
<line x1="524.87" y1="259.10" x2="530.37" y2="259.10" stroke="#222" stroke-width="1.0"/>
<line x1="527.62" y1="256.35" x2="527.62" y2="261.85" stroke="#222" stroke-width="1.0"/>
<line x1="532.10" y1="259.10" x2="537.60" y2="259.10" stroke="#222" stroke-width="1.0"/>
<line x1="534.85" y1="256.35" x2="534.85" y2="261.85" stroke="#222" stroke-width="1.0"/>
<line x1="539.33" y1="259.10" x2="544.83" y2="259.10" stroke="#222" stroke-width="1.0"/>
<line x1="542.08" y1="256.35" x2="542.08" y2="261.85" stroke="#222" stroke-width="1.0"/>
<line x1="513.50" y1="253.60" x2="503.60" y2="275.20" stroke="#222" stroke-width="0.7"/>
<path d="M503.54,272.00 L503.60,275.20 L506.07,273.16" fill="none" stroke="#222" stroke-width="0.7"/>
<line x1="516.50" y1="253.60" x2="525.20" y2="272.30" stroke="#222" stroke-width="0.7"/>
<path d="M522.72,270.27 L525.20,272.30 L525.25,269.10" fill="none" stroke="#222" stroke-width="0.7"/>
<rect x="482.00" y="289.80" width="60.70" height="8.20" fill="#a6dfe9"/>
<path d="M482.80,291.10V293.40M482.80,294.40V296.70M484.25,291.10V293.40M484.25,294.40V296.70M485.70,291.10V293.40M485.70,294.40V296.70M487.15,291.10V293.40M487.15,294.40V296.70M488.60,291.10V293.40M488.60,294.40V296.70M490.05,291.10V293.40M490.05,294.40V296.70M491.50,291.10V293.40M491.50,294.40V296.70M492.95,291.10V293.40M492.95,294.40V296.70M494.40,291.10V293.40M494.40,294.40V296.70M495.85,291.10V293.40M495.85,294.40V296.70M497.30,291.10V293.40M497.30,294.40V296.70M498.75,291.10V293.40M498.75,294.40V296.70M500.20,291.10V293.40M500.20,294.40V296.70M501.65,291.10V293.40M501.65,294.40V296.70M503.10,291.10V293.40M503.10,294.40V296.70M504.55,291.10V293.40M504.55,294.40V296.70M506.00,291.10V293.40M506.00,294.40V296.70M507.45,291.10V293.40M507.45,294.40V296.70M508.90,291.10V293.40M508.90,294.40V296.70M510.35,291.10V293.40M510.35,294.40V296.70M511.80,291.10V293.40M511.80,294.40V296.70M513.25,291.10V293.40M513.25,294.40V296.70M514.70,291.10V293.40M514.70,294.40V296.70M516.15,291.10V293.40M516.15,294.40V296.70M517.60,291.10V293.40M517.60,294.40V296.70M519.05,291.10V293.40M519.05,294.40V296.70M520.50,291.10V293.40M520.50,294.40V296.70M521.95,291.10V293.40M521.95,294.40V296.70M523.40,291.10V293.40M523.40,294.40V296.70M524.85,291.10V293.40M524.85,294.40V296.70M526.30,291.10V293.40M526.30,294.40V296.70M527.75,291.10V293.40M527.75,294.40V296.70M529.20,291.10V293.40M529.20,294.40V296.70M530.65,291.10V293.40M530.65,294.40V296.70M532.10,291.10V293.40M532.10,294.40V296.70M533.55,291.10V293.40M533.55,294.40V296.70M535.00,291.10V293.40M535.00,294.40V296.70M536.45,291.10V293.40M536.45,294.40V296.70M537.90,291.10V293.40M537.90,294.40V296.70M539.35,291.10V293.40M539.35,294.40V296.70M540.80,291.10V293.40M540.80,294.40V296.70" stroke="#e4f6f9" stroke-width="0.5"/>
<path d="M498.50,283.70 C497.80,279.70 494.30,280.20 495.28,278.00 M503.30,284.20 C506.60,281.70 505.30,278.70 503.00,278.20" fill="none" stroke="#255f80" stroke-width="0.75"/>
<path d="M492.00,302.30 C490.00,306.30 495.70,305.00 498.50,306.20 C500.88,307.20 505.10,306.20 504.30,307.60" fill="none" stroke="#255f80" stroke-width="0.75"/>
<rect x="490.80" y="282.20" width="4.24" height="20.80" rx="2.12" fill="#2f7398" stroke="#255f80" stroke-width="0.45"/>
<line x1="492.41" y1="284.20" x2="492.41" y2="300.50" stroke="#4a8fb5" stroke-width="1.19" stroke-linecap="round"/>
<rect x="494.05" y="282.80" width="4.24" height="21.00" rx="2.12" fill="#2f7398" stroke="#255f80" stroke-width="0.45"/>
<line x1="495.66" y1="284.80" x2="495.66" y2="301.30" stroke="#4a8fb5" stroke-width="1.19" stroke-linecap="round"/>
<rect x="497.31" y="282.20" width="4.24" height="20.80" rx="2.12" fill="#2f7398" stroke="#255f80" stroke-width="0.45"/>
<line x1="498.92" y1="284.20" x2="498.92" y2="300.50" stroke="#4a8fb5" stroke-width="1.19" stroke-linecap="round"/>
<rect x="500.56" y="282.80" width="4.24" height="21.00" rx="2.12" fill="#2f7398" stroke="#255f80" stroke-width="0.45"/>
<line x1="502.17" y1="284.80" x2="502.17" y2="301.30" stroke="#4a8fb5" stroke-width="1.19" stroke-linecap="round"/>
<circle cx="494.30" cy="302.60" r="0.9" fill="none" stroke="#255f80" stroke-width="0.4"/>
<circle cx="497.80" cy="302.60" r="0.9" fill="none" stroke="#255f80" stroke-width="0.4"/>
<circle cx="501.30" cy="302.60" r="0.9" fill="none" stroke="#255f80" stroke-width="0.4"/>
<path d="M526.83,283.70 C526.10,279.70 522.45,280.20 523.47,278.00 M531.90,284.20 C535.20,281.70 533.90,278.70 531.60,278.20" fill="none" stroke="#b9404f" stroke-width="0.75"/>
<path d="M520.00,302.30 C518.00,306.30 523.91,305.00 526.83,306.20 C529.31,307.20 533.70,306.20 532.90,307.60" fill="none" stroke="#b9404f" stroke-width="0.75"/>
<rect x="518.80" y="282.20" width="4.42" height="20.80" rx="2.21" fill="#d9596a" stroke="#b9404f" stroke-width="0.45"/>
<line x1="520.48" y1="284.20" x2="520.48" y2="300.50" stroke="#ea7f8c" stroke-width="1.24" stroke-linecap="round"/>
<rect x="522.19" y="282.80" width="4.42" height="21.00" rx="2.21" fill="#d9596a" stroke="#b9404f" stroke-width="0.45"/>
<line x1="523.87" y1="284.80" x2="523.87" y2="301.30" stroke="#ea7f8c" stroke-width="1.24" stroke-linecap="round"/>
<rect x="525.58" y="282.20" width="4.42" height="20.80" rx="2.21" fill="#d9596a" stroke="#b9404f" stroke-width="0.45"/>
<line x1="527.27" y1="284.20" x2="527.27" y2="300.50" stroke="#ea7f8c" stroke-width="1.24" stroke-linecap="round"/>
<rect x="528.98" y="282.80" width="4.42" height="21.00" rx="2.21" fill="#d9596a" stroke="#b9404f" stroke-width="0.45"/>
<line x1="530.66" y1="284.80" x2="530.66" y2="301.30" stroke="#ea7f8c" stroke-width="1.24" stroke-linecap="round"/>
<circle cx="522.45" cy="302.60" r="0.9" fill="none" stroke="#b9404f" stroke-width="0.4"/>
<circle cx="526.10" cy="302.60" r="0.9" fill="none" stroke="#b9404f" stroke-width="0.4"/>
<circle cx="529.75" cy="302.60" r="0.9" fill="none" stroke="#b9404f" stroke-width="0.4"/>
<line x1="519.10" y1="310.00" x2="541.60" y2="310.00" stroke="#8a8a8a" stroke-width="1.1"/>
<line x1="541.60" y1="310.00" x2="544.80" y2="310.00" stroke="#6aaee6" stroke-width="1.1"/>
<line x1="594.20" y1="291.30" x2="594.20" y2="388.90" stroke="#666" stroke-width="1.0"/>
<line x1="593.70" y1="388.40" x2="655.50" y2="388.40" stroke="#666" stroke-width="1.0"/>
<line x1="590.60" y1="388.40" x2="594.20" y2="388.40" stroke="#666" stroke-width="1.0"/>
<text x="588.80" y="391.60" font-size="9.0" text-anchor="end" fill="#111" stroke="#111" stroke-width="0.18">0</text>
<line x1="590.60" y1="364.12" x2="594.20" y2="364.12" stroke="#666" stroke-width="1.0"/>
<text x="588.80" y="367.32" font-size="9.0" text-anchor="end" fill="#111" stroke="#111" stroke-width="0.18">200</text>
<line x1="590.60" y1="339.85" x2="594.20" y2="339.85" stroke="#666" stroke-width="1.0"/>
<text x="588.80" y="343.05" font-size="9.0" text-anchor="end" fill="#111" stroke="#111" stroke-width="0.18">400</text>
<line x1="590.60" y1="315.57" x2="594.20" y2="315.57" stroke="#666" stroke-width="1.0"/>
<text x="588.80" y="318.77" font-size="9.0" text-anchor="end" fill="#111" stroke="#111" stroke-width="0.18">600</text>
<line x1="590.60" y1="291.30" x2="594.20" y2="291.30" stroke="#666" stroke-width="1.0"/>
<text x="588.80" y="294.50" font-size="9.0" text-anchor="end" fill="#111" stroke="#111" stroke-width="0.18">800</text>
<line x1="611.40" y1="388.40" x2="611.40" y2="392.20" stroke="#666" stroke-width="1.0"/>
<line x1="637.80" y1="388.40" x2="637.80" y2="392.20" stroke="#666" stroke-width="1.0"/>
<line x1="611.40" y1="309.51" x2="637.80" y2="315.57" stroke="#222" stroke-width="0.8"/>
<line x1="611.40" y1="330.75" x2="637.80" y2="372.62" stroke="#222" stroke-width="0.8"/>
<line x1="611.40" y1="341.06" x2="637.80" y2="341.67" stroke="#222" stroke-width="0.8"/>
<line x1="611.40" y1="342.28" x2="637.80" y2="343.49" stroke="#222" stroke-width="0.8"/>
<line x1="611.40" y1="343.49" x2="637.80" y2="344.70" stroke="#222" stroke-width="0.8"/>
<line x1="611.40" y1="344.70" x2="637.80" y2="345.31" stroke="#222" stroke-width="0.8"/>
<line x1="611.40" y1="345.92" x2="637.80" y2="353.81" stroke="#222" stroke-width="0.8"/>
<line x1="611.40" y1="364.12" x2="637.80" y2="372.62" stroke="#222" stroke-width="0.8"/>
<line x1="611.40" y1="368.98" x2="637.80" y2="375.05" stroke="#222" stroke-width="0.8"/>
<line x1="611.40" y1="371.41" x2="637.80" y2="372.01" stroke="#222" stroke-width="0.8"/>
<line x1="611.40" y1="372.62" x2="637.80" y2="378.08" stroke="#222" stroke-width="0.8"/>
<line x1="611.40" y1="373.83" x2="637.80" y2="382.94" stroke="#222" stroke-width="0.8"/>
<line x1="611.40" y1="376.26" x2="637.80" y2="385.97" stroke="#222" stroke-width="0.8"/>
<line x1="611.40" y1="385.97" x2="637.80" y2="384.76" stroke="#222" stroke-width="0.8"/>
<line x1="611.40" y1="386.58" x2="637.80" y2="385.37" stroke="#222" stroke-width="0.8"/>
<circle cx="611.40" cy="309.51" r="2.55" fill="#111" stroke="#111" stroke-width="0.6"/>
<circle cx="637.80" cy="315.57" r="2.65" fill="#fff" stroke="#111" stroke-width="0.95"/>
<circle cx="611.40" cy="330.75" r="2.55" fill="#111" stroke="#111" stroke-width="0.6"/>
<circle cx="637.80" cy="372.62" r="2.65" fill="#fff" stroke="#111" stroke-width="0.95"/>
<circle cx="611.40" cy="341.06" r="2.55" fill="#111" stroke="#111" stroke-width="0.6"/>
<circle cx="637.80" cy="341.67" r="2.65" fill="#fff" stroke="#111" stroke-width="0.95"/>
<circle cx="611.40" cy="342.28" r="2.55" fill="#111" stroke="#111" stroke-width="0.6"/>
<circle cx="637.80" cy="343.49" r="2.65" fill="#fff" stroke="#111" stroke-width="0.95"/>
<circle cx="611.40" cy="343.49" r="2.55" fill="#111" stroke="#111" stroke-width="0.6"/>
<circle cx="637.80" cy="344.70" r="2.65" fill="#fff" stroke="#111" stroke-width="0.95"/>
<circle cx="611.40" cy="344.70" r="2.55" fill="#111" stroke="#111" stroke-width="0.6"/>
<circle cx="637.80" cy="345.31" r="2.65" fill="#fff" stroke="#111" stroke-width="0.95"/>
<circle cx="611.40" cy="345.92" r="2.55" fill="#111" stroke="#111" stroke-width="0.6"/>
<circle cx="637.80" cy="353.81" r="2.65" fill="#fff" stroke="#111" stroke-width="0.95"/>
<circle cx="611.40" cy="364.12" r="2.55" fill="#111" stroke="#111" stroke-width="0.6"/>
<circle cx="637.80" cy="372.62" r="2.65" fill="#fff" stroke="#111" stroke-width="0.95"/>
<circle cx="611.40" cy="368.98" r="2.55" fill="#111" stroke="#111" stroke-width="0.6"/>
<circle cx="637.80" cy="375.05" r="2.65" fill="#fff" stroke="#111" stroke-width="0.95"/>
<circle cx="611.40" cy="371.41" r="2.55" fill="#111" stroke="#111" stroke-width="0.6"/>
<circle cx="637.80" cy="372.01" r="2.65" fill="#fff" stroke="#111" stroke-width="0.95"/>
<circle cx="611.40" cy="372.62" r="2.55" fill="#111" stroke="#111" stroke-width="0.6"/>
<circle cx="637.80" cy="378.08" r="2.65" fill="#fff" stroke="#111" stroke-width="0.95"/>
<circle cx="611.40" cy="373.83" r="2.55" fill="#111" stroke="#111" stroke-width="0.6"/>
<circle cx="637.80" cy="382.94" r="2.65" fill="#fff" stroke="#111" stroke-width="0.95"/>
<circle cx="611.40" cy="376.26" r="2.55" fill="#111" stroke="#111" stroke-width="0.6"/>
<circle cx="637.80" cy="385.97" r="2.65" fill="#fff" stroke="#111" stroke-width="0.95"/>
<circle cx="611.40" cy="385.97" r="2.55" fill="#111" stroke="#111" stroke-width="0.6"/>
<circle cx="637.80" cy="384.76" r="2.65" fill="#fff" stroke="#111" stroke-width="0.95"/>
<circle cx="611.40" cy="386.58" r="2.55" fill="#111" stroke="#111" stroke-width="0.6"/>
<circle cx="637.80" cy="385.37" r="2.65" fill="#fff" stroke="#111" stroke-width="0.95"/>
<text x="566.90" y="338.50" font-size="9.45" text-anchor="middle" fill="#111" stroke="#111" stroke-width="0.18" transform="rotate(-90 566.90 338.50)">Total number of spikes C</text>
<path d="M635.30,305.50L635.30,302.80M635.30,305.50L637.87,304.67M635.30,305.50L636.89,307.68M635.30,305.50L633.71,307.68M635.30,305.50L632.73,304.67" stroke="#111" stroke-width="1.45" stroke-linecap="round" fill="none"/>
<circle cx="635.30" cy="305.50" r="1.16" fill="#111"/>
<path d="M642.40,305.50L642.40,302.80M642.40,305.50L644.97,304.67M642.40,305.50L643.99,307.68M642.40,305.50L640.81,307.68M642.40,305.50L639.83,304.67" stroke="#111" stroke-width="1.45" stroke-linecap="round" fill="none"/>
<circle cx="642.40" cy="305.50" r="1.16" fill="#111"/>
<text x="606.20" y="404.50" font-size="9.7" text-anchor="middle" fill="#111" stroke="#111" stroke-width="0.18">Saline</text>
<text x="654.50" y="404.50" font-size="9.7" text-anchor="middle" fill="#111" stroke="#111" stroke-width="0.18">Apomorphine</text>
<text x="4.90" y="454.80" font-size="25.3" text-anchor="start" fill="#000">E</text>
<line x1="32.50" y1="486.80" x2="32.50" y2="591.90" stroke="#1a1a1a" stroke-width="1.1"/>
<line x1="32.00" y1="591.40" x2="188.40" y2="591.40" stroke="#1a1a1a" stroke-width="1.1"/>
<line x1="28.30" y1="591.40" x2="32.50" y2="591.40" stroke="#1a1a1a" stroke-width="1.1"/>
<text x="26.10" y="594.80" font-size="9.5" text-anchor="end" fill="#111" stroke="#111" stroke-width="0.18">0</text>
<line x1="28.30" y1="565.25" x2="32.50" y2="565.25" stroke="#1a1a1a" stroke-width="1.1"/>
<text x="26.10" y="568.65" font-size="9.5" text-anchor="end" fill="#111" stroke="#111" stroke-width="0.18">10</text>
<line x1="28.30" y1="539.10" x2="32.50" y2="539.10" stroke="#1a1a1a" stroke-width="1.1"/>
<text x="26.10" y="542.50" font-size="9.5" text-anchor="end" fill="#111" stroke="#111" stroke-width="0.18">20</text>
<line x1="28.30" y1="512.95" x2="32.50" y2="512.95" stroke="#1a1a1a" stroke-width="1.1"/>
<text x="26.10" y="516.35" font-size="9.5" text-anchor="end" fill="#111" stroke="#111" stroke-width="0.18">30</text>
<line x1="28.30" y1="486.80" x2="32.50" y2="486.80" stroke="#1a1a1a" stroke-width="1.1"/>
<text x="26.10" y="490.20" font-size="9.5" text-anchor="end" fill="#111" stroke="#111" stroke-width="0.18">40</text>
<line x1="32.50" y1="591.40" x2="32.50" y2="595.20" stroke="#1a1a1a" stroke-width="1.1"/>
<text x="32.50" y="606.20" font-size="9.5" text-anchor="middle" fill="#111" stroke="#111" stroke-width="0.18">0</text>
<line x1="71.47" y1="591.40" x2="71.47" y2="595.20" stroke="#1a1a1a" stroke-width="1.1"/>
<text x="71.47" y="606.20" font-size="9.5" text-anchor="middle" fill="#111" stroke="#111" stroke-width="0.18">5</text>
<line x1="110.45" y1="591.40" x2="110.45" y2="595.20" stroke="#1a1a1a" stroke-width="1.1"/>
<text x="110.45" y="606.20" font-size="9.5" text-anchor="middle" fill="#111" stroke="#111" stroke-width="0.18">10</text>
<line x1="149.43" y1="591.40" x2="149.43" y2="595.20" stroke="#1a1a1a" stroke-width="1.1"/>
<text x="149.43" y="606.20" font-size="9.5" text-anchor="middle" fill="#111" stroke="#111" stroke-width="0.18">15</text>
<line x1="188.40" y1="591.40" x2="188.40" y2="595.20" stroke="#1a1a1a" stroke-width="1.1"/>
<text x="188.40" y="606.20" font-size="9.5" text-anchor="middle" fill="#111" stroke="#111" stroke-width="0.18">20</text>
<text x="110.50" y="623.00" font-size="11.3" text-anchor="middle" fill="#111" stroke="#111" stroke-width="0.18">Stimulation intensity (mA)</text>
<text x="10.20" y="539.00" font-size="11.1" text-anchor="middle" fill="#111" stroke="#111" stroke-width="0.18" transform="rotate(-90 10.20 539.00)">Number of spikes C</text>
<polyline fill="none" stroke="#111" stroke-width="1.0" points="40.30,575.19 48.09,563.94 55.88,557.93 63.68,546.16 71.47,545.38 79.27,541.19 87.06,535.96 94.86,533.87 102.66,527.07 110.45,522.89 118.25,524.19 126.04,521.84 133.83,517.66 141.63,517.66 149.43,516.87 157.22,517.66 165.01,515.04 172.81,520.27 180.60,516.09 188.40,516.35"/>
<polyline fill="none" stroke="#4da3f0" stroke-width="1.0" points="40.30,582.25 48.09,569.96 55.88,564.73 63.68,557.40 71.47,554.27 79.27,553.22 87.06,549.04 94.86,548.25 102.66,546.94 110.45,542.24 118.25,540.15 126.04,543.81 133.83,537.01 141.63,532.56 149.43,537.53 157.22,532.56 165.01,538.58 172.81,535.18 180.60,536.49 188.40,537.53"/>
<line x1="40.30" y1="575.19" x2="40.30" y2="567.34" stroke="#333" stroke-width="1.1"/>
<line x1="48.09" y1="563.94" x2="48.09" y2="554.01" stroke="#333" stroke-width="1.1"/>
<line x1="55.88" y1="557.93" x2="55.88" y2="547.47" stroke="#333" stroke-width="1.1"/>
<line x1="63.68" y1="546.16" x2="63.68" y2="531.78" stroke="#333" stroke-width="1.1"/>
<line x1="71.47" y1="545.38" x2="71.47" y2="530.99" stroke="#333" stroke-width="1.1"/>
<line x1="79.27" y1="541.19" x2="79.27" y2="528.12" stroke="#333" stroke-width="1.1"/>
<line x1="87.06" y1="535.96" x2="87.06" y2="522.89" stroke="#333" stroke-width="1.1"/>
<line x1="94.86" y1="533.87" x2="94.86" y2="520.79" stroke="#333" stroke-width="1.1"/>
<line x1="102.66" y1="527.07" x2="102.66" y2="514.00" stroke="#333" stroke-width="1.1"/>
<line x1="110.45" y1="522.89" x2="110.45" y2="509.55" stroke="#333" stroke-width="1.1"/>
<line x1="118.25" y1="524.19" x2="118.25" y2="509.81" stroke="#333" stroke-width="1.1"/>
<line x1="126.04" y1="521.84" x2="126.04" y2="507.46" stroke="#333" stroke-width="1.1"/>
<line x1="133.83" y1="517.66" x2="133.83" y2="502.49" stroke="#333" stroke-width="1.1"/>
<line x1="141.63" y1="517.66" x2="141.63" y2="501.97" stroke="#333" stroke-width="1.1"/>
<line x1="149.43" y1="516.87" x2="149.43" y2="501.18" stroke="#333" stroke-width="1.1"/>
<line x1="157.22" y1="517.66" x2="157.22" y2="501.97" stroke="#333" stroke-width="1.1"/>
<line x1="165.01" y1="515.04" x2="165.01" y2="499.88" stroke="#333" stroke-width="1.1"/>
<line x1="172.81" y1="520.27" x2="172.81" y2="505.89" stroke="#333" stroke-width="1.1"/>
<line x1="180.60" y1="516.09" x2="180.60" y2="500.40" stroke="#333" stroke-width="1.1"/>
<line x1="188.40" y1="516.35" x2="188.40" y2="499.61" stroke="#333" stroke-width="1.1"/>
<line x1="40.30" y1="582.25" x2="40.30" y2="586.17" stroke="#333" stroke-width="1.1"/>
<line x1="48.09" y1="569.96" x2="48.09" y2="577.80" stroke="#333" stroke-width="1.1"/>
<line x1="55.88" y1="564.73" x2="55.88" y2="573.88" stroke="#333" stroke-width="1.1"/>
<line x1="63.68" y1="557.40" x2="63.68" y2="569.17" stroke="#333" stroke-width="1.1"/>
<line x1="71.47" y1="554.27" x2="71.47" y2="566.03" stroke="#333" stroke-width="1.1"/>
<line x1="79.27" y1="553.22" x2="79.27" y2="564.99" stroke="#333" stroke-width="1.1"/>
<line x1="87.06" y1="549.04" x2="87.06" y2="560.28" stroke="#333" stroke-width="1.1"/>
<line x1="94.86" y1="548.25" x2="94.86" y2="559.50" stroke="#333" stroke-width="1.1"/>
<line x1="102.66" y1="546.94" x2="102.66" y2="557.40" stroke="#333" stroke-width="1.1"/>
<line x1="110.45" y1="542.24" x2="110.45" y2="553.48" stroke="#333" stroke-width="1.1"/>
<line x1="118.25" y1="540.15" x2="118.25" y2="552.17" stroke="#333" stroke-width="1.1"/>
<line x1="126.04" y1="543.81" x2="126.04" y2="555.05" stroke="#333" stroke-width="1.1"/>
<line x1="133.83" y1="537.01" x2="133.83" y2="549.30" stroke="#333" stroke-width="1.1"/>
<line x1="141.63" y1="532.56" x2="141.63" y2="547.47" stroke="#333" stroke-width="1.1"/>
<line x1="149.43" y1="537.53" x2="149.43" y2="549.30" stroke="#333" stroke-width="1.1"/>
<line x1="157.22" y1="532.56" x2="157.22" y2="544.33" stroke="#333" stroke-width="1.1"/>
<line x1="165.01" y1="538.58" x2="165.01" y2="552.44" stroke="#333" stroke-width="1.1"/>
<line x1="172.81" y1="535.18" x2="172.81" y2="546.95" stroke="#333" stroke-width="1.1"/>
<line x1="180.60" y1="536.49" x2="180.60" y2="548.25" stroke="#333" stroke-width="1.1"/>
<line x1="188.40" y1="537.53" x2="188.40" y2="550.08" stroke="#333" stroke-width="1.1"/>
<circle cx="40.30" cy="575.19" r="3.0" fill="#fff" stroke="#111" stroke-width="1.0"/>
<circle cx="48.09" cy="563.94" r="3.0" fill="#fff" stroke="#111" stroke-width="1.0"/>
<circle cx="55.88" cy="557.93" r="3.0" fill="#fff" stroke="#111" stroke-width="1.0"/>
<circle cx="63.68" cy="546.16" r="3.0" fill="#fff" stroke="#111" stroke-width="1.0"/>
<circle cx="71.47" cy="545.38" r="3.0" fill="#fff" stroke="#111" stroke-width="1.0"/>
<circle cx="79.27" cy="541.19" r="3.0" fill="#fff" stroke="#111" stroke-width="1.0"/>
<circle cx="87.06" cy="535.96" r="3.0" fill="#fff" stroke="#111" stroke-width="1.0"/>
<circle cx="94.86" cy="533.87" r="3.0" fill="#fff" stroke="#111" stroke-width="1.0"/>
<circle cx="102.66" cy="527.07" r="3.0" fill="#fff" stroke="#111" stroke-width="1.0"/>
<circle cx="110.45" cy="522.89" r="3.0" fill="#fff" stroke="#111" stroke-width="1.0"/>
<circle cx="118.25" cy="524.19" r="3.0" fill="#fff" stroke="#111" stroke-width="1.0"/>
<circle cx="126.04" cy="521.84" r="3.0" fill="#fff" stroke="#111" stroke-width="1.0"/>
<circle cx="133.83" cy="517.66" r="3.0" fill="#fff" stroke="#111" stroke-width="1.0"/>
<circle cx="141.63" cy="517.66" r="3.0" fill="#fff" stroke="#111" stroke-width="1.0"/>
<circle cx="149.43" cy="516.87" r="3.0" fill="#fff" stroke="#111" stroke-width="1.0"/>
<circle cx="157.22" cy="517.66" r="3.0" fill="#fff" stroke="#111" stroke-width="1.0"/>
<circle cx="165.01" cy="515.04" r="3.0" fill="#fff" stroke="#111" stroke-width="1.0"/>
<circle cx="172.81" cy="520.27" r="3.0" fill="#fff" stroke="#111" stroke-width="1.0"/>
<circle cx="180.60" cy="516.09" r="3.0" fill="#fff" stroke="#111" stroke-width="1.0"/>
<circle cx="188.40" cy="516.35" r="3.0" fill="#fff" stroke="#111" stroke-width="1.0"/>
<circle cx="40.30" cy="582.25" r="3.0" fill="#4da3f0" stroke="#111" stroke-width="1.0"/>
<circle cx="48.09" cy="569.96" r="3.0" fill="#4da3f0" stroke="#111" stroke-width="1.0"/>
<circle cx="55.88" cy="564.73" r="3.0" fill="#4da3f0" stroke="#111" stroke-width="1.0"/>
<circle cx="63.68" cy="557.40" r="3.0" fill="#4da3f0" stroke="#111" stroke-width="1.0"/>
<circle cx="71.47" cy="554.27" r="3.0" fill="#4da3f0" stroke="#111" stroke-width="1.0"/>
<circle cx="79.27" cy="553.22" r="3.0" fill="#4da3f0" stroke="#111" stroke-width="1.0"/>
<circle cx="87.06" cy="549.04" r="3.0" fill="#4da3f0" stroke="#111" stroke-width="1.0"/>
<circle cx="94.86" cy="548.25" r="3.0" fill="#4da3f0" stroke="#111" stroke-width="1.0"/>
<circle cx="102.66" cy="546.94" r="3.0" fill="#4da3f0" stroke="#111" stroke-width="1.0"/>
<circle cx="110.45" cy="542.24" r="3.0" fill="#4da3f0" stroke="#111" stroke-width="1.0"/>
<circle cx="118.25" cy="540.15" r="3.0" fill="#4da3f0" stroke="#111" stroke-width="1.0"/>
<circle cx="126.04" cy="543.81" r="3.0" fill="#4da3f0" stroke="#111" stroke-width="1.0"/>
<circle cx="133.83" cy="537.01" r="3.0" fill="#4da3f0" stroke="#111" stroke-width="1.0"/>
<circle cx="141.63" cy="532.56" r="3.0" fill="#4da3f0" stroke="#111" stroke-width="1.0"/>
<circle cx="149.43" cy="537.53" r="3.0" fill="#4da3f0" stroke="#111" stroke-width="1.0"/>
<circle cx="157.22" cy="532.56" r="3.0" fill="#4da3f0" stroke="#111" stroke-width="1.0"/>
<circle cx="165.01" cy="538.58" r="3.0" fill="#4da3f0" stroke="#111" stroke-width="1.0"/>
<circle cx="172.81" cy="535.18" r="3.0" fill="#4da3f0" stroke="#111" stroke-width="1.0"/>
<circle cx="180.60" cy="536.49" r="3.0" fill="#4da3f0" stroke="#111" stroke-width="1.0"/>
<circle cx="188.40" cy="537.53" r="3.0" fill="#4da3f0" stroke="#111" stroke-width="1.0"/>
<line x1="44.00" y1="480.40" x2="55.60" y2="480.40" stroke="#111" stroke-width="1.0"/>
<circle cx="49.80" cy="480.40" r="2.95" fill="#fff" stroke="#111" stroke-width="1.0"/>
<text x="62.00" y="483.40" font-size="8.1" text-anchor="start" fill="#111" stroke="#111" stroke-width="0.18">6-OHDA Saline</text>
<line x1="44.00" y1="495.20" x2="55.60" y2="495.20" stroke="#4da3f0" stroke-width="1.0"/>
<circle cx="49.80" cy="495.20" r="2.95" fill="#4da3f0" stroke="#111" stroke-width="1.0"/>
<text x="62.00" y="498.20" font-size="8.1" text-anchor="start" fill="#111" stroke="#111" stroke-width="0.18">6-OHDA Quinpirole</text>
<path d="M198.50,518.90L201.60,518.90M198.50,518.90L200.05,521.58M198.50,518.90L196.95,521.58M198.50,518.90L195.40,518.90M198.50,518.90L196.95,516.22M198.50,518.90L200.05,516.22" stroke="#111" stroke-width="1.45" stroke-linecap="round" fill="none"/>
<circle cx="198.50" cy="518.90" r="1.16" fill="#111"/>
<path d="M198.50,527.40L201.60,527.40M198.50,527.40L200.05,530.08M198.50,527.40L196.95,530.08M198.50,527.40L195.40,527.40M198.50,527.40L196.95,524.72M198.50,527.40L200.05,524.72" stroke="#111" stroke-width="1.45" stroke-linecap="round" fill="none"/>
<circle cx="198.50" cy="527.40" r="1.16" fill="#111"/>
<path d="M198.50,535.60L201.60,535.60M198.50,535.60L200.05,538.28M198.50,535.60L196.95,538.28M198.50,535.60L195.40,535.60M198.50,535.60L196.95,532.92M198.50,535.60L200.05,532.92" stroke="#111" stroke-width="1.45" stroke-linecap="round" fill="none"/>
<circle cx="198.50" cy="535.60" r="1.16" fill="#111"/>
<text x="176.40" y="444.30" font-size="11" text-anchor="middle" fill="#111" stroke="#111" stroke-width="0.18">Quinpirole</text>
<line x1="181.72" y1="455.00" x2="186.25" y2="455.00" stroke="#222" stroke-width="1.0"/>
<line x1="183.98" y1="452.73" x2="183.98" y2="457.27" stroke="#222" stroke-width="1.0"/>
<line x1="187.68" y1="455.00" x2="192.22" y2="455.00" stroke="#222" stroke-width="1.0"/>
<line x1="189.95" y1="452.73" x2="189.95" y2="457.27" stroke="#222" stroke-width="1.0"/>
<line x1="193.65" y1="455.00" x2="198.18" y2="455.00" stroke="#222" stroke-width="1.0"/>
<line x1="195.92" y1="452.73" x2="195.92" y2="457.27" stroke="#222" stroke-width="1.0"/>
<line x1="177.90" y1="449.40" x2="171.30" y2="464.70" stroke="#222" stroke-width="0.7"/>
<path d="M171.16,461.50 L171.30,464.70 L173.72,462.61" fill="none" stroke="#222" stroke-width="0.7"/>
<rect x="139.60" y="477.50" width="58.20" height="7.20" fill="#a6dfe9"/>
<path d="M140.40,478.80V480.60M140.40,481.60V483.40M141.85,478.80V480.60M141.85,481.60V483.40M143.30,478.80V480.60M143.30,481.60V483.40M144.75,478.80V480.60M144.75,481.60V483.40M146.20,478.80V480.60M146.20,481.60V483.40M147.65,478.80V480.60M147.65,481.60V483.40M149.10,478.80V480.60M149.10,481.60V483.40M150.55,478.80V480.60M150.55,481.60V483.40M152.00,478.80V480.60M152.00,481.60V483.40M153.45,478.80V480.60M153.45,481.60V483.40M154.90,478.80V480.60M154.90,481.60V483.40M156.35,478.80V480.60M156.35,481.60V483.40M157.80,478.80V480.60M157.80,481.60V483.40M159.25,478.80V480.60M159.25,481.60V483.40M160.70,478.80V480.60M160.70,481.60V483.40M162.15,478.80V480.60M162.15,481.60V483.40M163.60,478.80V480.60M163.60,481.60V483.40M165.05,478.80V480.60M165.05,481.60V483.40M166.50,478.80V480.60M166.50,481.60V483.40M167.95,478.80V480.60M167.95,481.60V483.40M169.40,478.80V480.60M169.40,481.60V483.40M170.85,478.80V480.60M170.85,481.60V483.40M172.30,478.80V480.60M172.30,481.60V483.40M173.75,478.80V480.60M173.75,481.60V483.40M175.20,478.80V480.60M175.20,481.60V483.40M176.65,478.80V480.60M176.65,481.60V483.40M178.10,478.80V480.60M178.10,481.60V483.40M179.55,478.80V480.60M179.55,481.60V483.40M181.00,478.80V480.60M181.00,481.60V483.40M182.45,478.80V480.60M182.45,481.60V483.40M183.90,478.80V480.60M183.90,481.60V483.40M185.35,478.80V480.60M185.35,481.60V483.40M186.80,478.80V480.60M186.80,481.60V483.40M188.25,478.80V480.60M188.25,481.60V483.40M189.70,478.80V480.60M189.70,481.60V483.40M191.15,478.80V480.60M191.15,481.60V483.40M192.60,478.80V480.60M192.60,481.60V483.40M194.05,478.80V480.60M194.05,481.60V483.40M195.50,478.80V480.60M195.50,481.60V483.40M196.95,478.80V480.60M196.95,481.60V483.40" stroke="#e4f6f9" stroke-width="0.5"/>
<path d="M170.69,472.40 C170.00,468.40 166.55,468.90 167.52,466.70 M175.40,472.90 C178.70,470.40 177.40,467.40 175.10,466.90" fill="none" stroke="#255f80" stroke-width="0.75"/>
<path d="M164.30,489.80 C162.30,493.80 167.93,492.50 170.69,493.70 C173.04,494.70 177.20,493.70 176.40,495.10" fill="none" stroke="#255f80" stroke-width="0.75"/>
<rect x="163.10" y="470.90" width="4.18" height="19.60" rx="2.09" fill="#2f7398" stroke="#255f80" stroke-width="0.45"/>
<line x1="164.69" y1="472.90" x2="164.69" y2="488.00" stroke="#4a8fb5" stroke-width="1.17" stroke-linecap="round"/>
<rect x="166.31" y="471.50" width="4.18" height="19.80" rx="2.09" fill="#2f7398" stroke="#255f80" stroke-width="0.45"/>
<line x1="167.90" y1="473.50" x2="167.90" y2="488.80" stroke="#4a8fb5" stroke-width="1.17" stroke-linecap="round"/>
<rect x="169.51" y="470.90" width="4.18" height="19.60" rx="2.09" fill="#2f7398" stroke="#255f80" stroke-width="0.45"/>
<line x1="171.10" y1="472.90" x2="171.10" y2="488.00" stroke="#4a8fb5" stroke-width="1.17" stroke-linecap="round"/>
<rect x="172.72" y="471.50" width="4.18" height="19.80" rx="2.09" fill="#2f7398" stroke="#255f80" stroke-width="0.45"/>
<line x1="174.31" y1="473.50" x2="174.31" y2="488.80" stroke="#4a8fb5" stroke-width="1.17" stroke-linecap="round"/>
<circle cx="166.55" cy="490.10" r="0.9" fill="none" stroke="#255f80" stroke-width="0.4"/>
<circle cx="170.00" cy="490.10" r="0.9" fill="none" stroke="#255f80" stroke-width="0.4"/>
<circle cx="173.45" cy="490.10" r="0.9" fill="none" stroke="#255f80" stroke-width="0.4"/>
<line x1="253.30" y1="499.20" x2="253.30" y2="592.80" stroke="#666" stroke-width="1.0"/>
<line x1="252.80" y1="592.30" x2="316.00" y2="592.30" stroke="#666" stroke-width="1.0"/>
<line x1="249.70" y1="592.30" x2="253.30" y2="592.30" stroke="#666" stroke-width="1.0"/>
<text x="247.90" y="595.50" font-size="9.0" text-anchor="end" fill="#111" stroke="#111" stroke-width="0.18">0</text>
<line x1="249.70" y1="561.27" x2="253.30" y2="561.27" stroke="#666" stroke-width="1.0"/>
<text x="247.90" y="564.47" font-size="9.0" text-anchor="end" fill="#111" stroke="#111" stroke-width="0.18">500</text>
<line x1="249.70" y1="530.23" x2="253.30" y2="530.23" stroke="#666" stroke-width="1.0"/>
<text x="247.90" y="533.43" font-size="9.0" text-anchor="end" fill="#111" stroke="#111" stroke-width="0.18">1000</text>
<line x1="249.70" y1="499.20" x2="253.30" y2="499.20" stroke="#666" stroke-width="1.0"/>
<text x="247.90" y="502.40" font-size="9.0" text-anchor="end" fill="#111" stroke="#111" stroke-width="0.18">1500</text>
<line x1="270.70" y1="592.30" x2="270.70" y2="596.10" stroke="#666" stroke-width="1.0"/>
<line x1="297.70" y1="592.30" x2="297.70" y2="596.10" stroke="#666" stroke-width="1.0"/>
<line x1="270.70" y1="517.82" x2="297.70" y2="526.51" stroke="#222" stroke-width="0.8"/>
<line x1="270.70" y1="540.78" x2="297.70" y2="560.65" stroke="#222" stroke-width="0.8"/>
<line x1="270.70" y1="556.92" x2="297.70" y2="563.75" stroke="#222" stroke-width="0.8"/>
<line x1="270.70" y1="558.78" x2="297.70" y2="558.16" stroke="#222" stroke-width="0.8"/>
<line x1="270.70" y1="560.03" x2="297.70" y2="570.58" stroke="#222" stroke-width="0.8"/>
<line x1="270.70" y1="566.23" x2="297.70" y2="558.16" stroke="#222" stroke-width="0.8"/>
<line x1="270.70" y1="567.47" x2="297.70" y2="575.54" stroke="#222" stroke-width="0.8"/>
<line x1="270.70" y1="569.34" x2="297.70" y2="582.37" stroke="#222" stroke-width="0.8"/>
<line x1="270.70" y1="582.37" x2="297.70" y2="584.23" stroke="#222" stroke-width="0.8"/>
<line x1="270.70" y1="583.61" x2="297.70" y2="586.71" stroke="#222" stroke-width="0.8"/>
<line x1="270.70" y1="587.96" x2="297.70" y2="589.20" stroke="#222" stroke-width="0.8"/>
<circle cx="270.70" cy="517.82" r="2.55" fill="#111" stroke="#111" stroke-width="0.6"/>
<circle cx="297.70" cy="526.51" r="2.65" fill="#fff" stroke="#111" stroke-width="0.95"/>
<circle cx="270.70" cy="540.78" r="2.55" fill="#111" stroke="#111" stroke-width="0.6"/>
<circle cx="297.70" cy="560.65" r="2.65" fill="#fff" stroke="#111" stroke-width="0.95"/>
<circle cx="270.70" cy="556.92" r="2.55" fill="#111" stroke="#111" stroke-width="0.6"/>
<circle cx="297.70" cy="563.75" r="2.65" fill="#fff" stroke="#111" stroke-width="0.95"/>
<circle cx="270.70" cy="558.78" r="2.55" fill="#111" stroke="#111" stroke-width="0.6"/>
<circle cx="297.70" cy="558.16" r="2.65" fill="#fff" stroke="#111" stroke-width="0.95"/>
<circle cx="270.70" cy="560.03" r="2.55" fill="#111" stroke="#111" stroke-width="0.6"/>
<circle cx="297.70" cy="570.58" r="2.65" fill="#fff" stroke="#111" stroke-width="0.95"/>
<circle cx="270.70" cy="566.23" r="2.55" fill="#111" stroke="#111" stroke-width="0.6"/>
<circle cx="297.70" cy="558.16" r="2.65" fill="#fff" stroke="#111" stroke-width="0.95"/>
<circle cx="270.70" cy="567.47" r="2.55" fill="#111" stroke="#111" stroke-width="0.6"/>
<circle cx="297.70" cy="575.54" r="2.65" fill="#fff" stroke="#111" stroke-width="0.95"/>
<circle cx="270.70" cy="569.34" r="2.55" fill="#111" stroke="#111" stroke-width="0.6"/>
<circle cx="297.70" cy="582.37" r="2.65" fill="#fff" stroke="#111" stroke-width="0.95"/>
<circle cx="270.70" cy="582.37" r="2.55" fill="#111" stroke="#111" stroke-width="0.6"/>
<circle cx="297.70" cy="584.23" r="2.65" fill="#fff" stroke="#111" stroke-width="0.95"/>
<circle cx="270.70" cy="583.61" r="2.55" fill="#111" stroke="#111" stroke-width="0.6"/>
<circle cx="297.70" cy="586.71" r="2.65" fill="#fff" stroke="#111" stroke-width="0.95"/>
<circle cx="270.70" cy="587.96" r="2.55" fill="#111" stroke="#111" stroke-width="0.6"/>
<circle cx="297.70" cy="589.20" r="2.65" fill="#fff" stroke="#111" stroke-width="0.95"/>
<text x="224.60" y="544.50" font-size="9.5" text-anchor="middle" fill="#111" stroke="#111" stroke-width="0.18" transform="rotate(-90 224.60 544.50)">Total number of spikes C</text>
<path d="M294.80,515.10L294.80,512.40M294.80,515.10L297.37,514.27M294.80,515.10L296.39,517.28M294.80,515.10L293.21,517.28M294.80,515.10L292.23,514.27" stroke="#111" stroke-width="1.45" stroke-linecap="round" fill="none"/>
<circle cx="294.80" cy="515.10" r="1.16" fill="#111"/>
<path d="M301.90,515.10L301.90,512.40M301.90,515.10L304.47,514.27M301.90,515.10L303.49,517.28M301.90,515.10L300.31,517.28M301.90,515.10L299.33,514.27" stroke="#111" stroke-width="1.45" stroke-linecap="round" fill="none"/>
<circle cx="301.90" cy="515.10" r="1.16" fill="#111"/>
<text x="264.60" y="607.30" font-size="9.7" text-anchor="middle" fill="#111" stroke="#111" stroke-width="0.18">Saline</text>
<text x="304.00" y="607.30" font-size="9.7" text-anchor="middle" fill="#111" stroke="#111" stroke-width="0.18">Quipirole</text>
<text x="348.70" y="454.80" font-size="25.3" text-anchor="start" fill="#000">F</text>
<line x1="366.00" y1="487.60" x2="366.00" y2="591.60" stroke="#1a1a1a" stroke-width="1.1"/>
<line x1="365.50" y1="591.10" x2="521.20" y2="591.10" stroke="#1a1a1a" stroke-width="1.1"/>
<line x1="361.80" y1="591.10" x2="366.00" y2="591.10" stroke="#1a1a1a" stroke-width="1.1"/>
<text x="359.60" y="594.50" font-size="9.5" text-anchor="end" fill="#111" stroke="#111" stroke-width="0.18">0</text>
<line x1="361.80" y1="565.23" x2="366.00" y2="565.23" stroke="#1a1a1a" stroke-width="1.1"/>
<text x="359.60" y="568.62" font-size="9.5" text-anchor="end" fill="#111" stroke="#111" stroke-width="0.18">10</text>
<line x1="361.80" y1="539.35" x2="366.00" y2="539.35" stroke="#1a1a1a" stroke-width="1.1"/>
<text x="359.60" y="542.75" font-size="9.5" text-anchor="end" fill="#111" stroke="#111" stroke-width="0.18">20</text>
<line x1="361.80" y1="513.48" x2="366.00" y2="513.48" stroke="#1a1a1a" stroke-width="1.1"/>
<text x="359.60" y="516.88" font-size="9.5" text-anchor="end" fill="#111" stroke="#111" stroke-width="0.18">30</text>
<line x1="361.80" y1="487.60" x2="366.00" y2="487.60" stroke="#1a1a1a" stroke-width="1.1"/>
<text x="359.60" y="491.00" font-size="9.5" text-anchor="end" fill="#111" stroke="#111" stroke-width="0.18">40</text>
<line x1="366.00" y1="591.10" x2="366.00" y2="594.90" stroke="#1a1a1a" stroke-width="1.1"/>
<text x="366.00" y="605.90" font-size="9.5" text-anchor="middle" fill="#111" stroke="#111" stroke-width="0.18">0</text>
<line x1="404.80" y1="591.10" x2="404.80" y2="594.90" stroke="#1a1a1a" stroke-width="1.1"/>
<text x="404.80" y="605.90" font-size="9.5" text-anchor="middle" fill="#111" stroke="#111" stroke-width="0.18">5</text>
<line x1="443.60" y1="591.10" x2="443.60" y2="594.90" stroke="#1a1a1a" stroke-width="1.1"/>
<text x="443.60" y="605.90" font-size="9.5" text-anchor="middle" fill="#111" stroke="#111" stroke-width="0.18">10</text>
<line x1="482.40" y1="591.10" x2="482.40" y2="594.90" stroke="#1a1a1a" stroke-width="1.1"/>
<text x="482.40" y="605.90" font-size="9.5" text-anchor="middle" fill="#111" stroke="#111" stroke-width="0.18">15</text>
<line x1="521.20" y1="591.10" x2="521.20" y2="594.90" stroke="#1a1a1a" stroke-width="1.1"/>
<text x="521.20" y="605.90" font-size="9.5" text-anchor="middle" fill="#111" stroke="#111" stroke-width="0.18">20</text>
<text x="443.20" y="621.20" font-size="11.2" text-anchor="middle" fill="#111" stroke="#111" stroke-width="0.18">Stimulation intensity (mA)</text>
<text x="345.20" y="539.00" font-size="11.1" text-anchor="middle" fill="#111" stroke="#111" stroke-width="0.18" transform="rotate(-90 345.20 539.00)">Number of spikes C</text>
<polyline fill="none" stroke="#111" stroke-width="1.0" points="373.76,557.46 381.52,535.47 389.28,527.71 397.04,520.46 404.80,517.87 412.56,516.58 420.32,521.24 428.08,512.18 435.84,519.94 443.60,515.80 451.36,515.80 459.12,522.27 466.88,520.72 474.64,522.01 482.40,524.08 490.16,525.38 497.92,514.77 505.68,523.31 513.44,521.24 521.20,520.46"/>
<polyline fill="none" stroke="#111" stroke-width="1.0" points="373.76,562.64 381.52,532.36 389.28,530.81 397.04,527.19 404.80,524.34 412.56,529.52 420.32,531.07 428.08,531.07 435.84,527.45 443.60,532.11 451.36,532.62 459.12,530.03 466.88,528.22 474.64,530.03 482.40,537.02 490.16,534.95 497.92,540.64 505.68,537.54 513.44,534.43 521.20,536.50"/>
<line x1="373.76" y1="557.46" x2="373.76" y2="549.70" stroke="#333" stroke-width="1.1"/>
<line x1="381.52" y1="535.47" x2="381.52" y2="519.94" stroke="#333" stroke-width="1.1"/>
<line x1="389.28" y1="527.71" x2="389.28" y2="512.18" stroke="#333" stroke-width="1.1"/>
<line x1="397.04" y1="520.46" x2="397.04" y2="504.94" stroke="#333" stroke-width="1.1"/>
<line x1="404.80" y1="517.87" x2="404.80" y2="503.64" stroke="#333" stroke-width="1.1"/>
<line x1="412.56" y1="516.58" x2="412.56" y2="503.64" stroke="#333" stroke-width="1.1"/>
<line x1="420.32" y1="521.24" x2="420.32" y2="512.18" stroke="#333" stroke-width="1.1"/>
<line x1="428.08" y1="512.18" x2="428.08" y2="497.95" stroke="#333" stroke-width="1.1"/>
<line x1="435.84" y1="519.94" x2="435.84" y2="507.01" stroke="#333" stroke-width="1.1"/>
<line x1="443.60" y1="515.80" x2="443.60" y2="502.87" stroke="#333" stroke-width="1.1"/>
<line x1="451.36" y1="515.80" x2="451.36" y2="503.64" stroke="#333" stroke-width="1.1"/>
<line x1="459.12" y1="522.27" x2="459.12" y2="509.59" stroke="#333" stroke-width="1.1"/>
<line x1="466.88" y1="520.72" x2="466.88" y2="507.78" stroke="#333" stroke-width="1.1"/>
<line x1="474.64" y1="522.01" x2="474.64" y2="509.08" stroke="#333" stroke-width="1.1"/>
<line x1="482.40" y1="524.08" x2="482.40" y2="511.15" stroke="#333" stroke-width="1.1"/>
<line x1="490.16" y1="525.38" x2="490.16" y2="513.73" stroke="#333" stroke-width="1.1"/>
<line x1="497.92" y1="514.77" x2="497.92" y2="503.64" stroke="#333" stroke-width="1.1"/>
<line x1="505.68" y1="523.31" x2="505.68" y2="512.96" stroke="#333" stroke-width="1.1"/>
<line x1="513.44" y1="521.24" x2="513.44" y2="510.89" stroke="#333" stroke-width="1.1"/>
<line x1="521.20" y1="520.46" x2="521.20" y2="511.41" stroke="#333" stroke-width="1.1"/>
<line x1="373.76" y1="562.64" x2="373.76" y2="571.69" stroke="#333" stroke-width="1.1"/>
<line x1="381.52" y1="532.36" x2="381.52" y2="542.71" stroke="#333" stroke-width="1.1"/>
<line x1="389.28" y1="530.81" x2="389.28" y2="542.45" stroke="#333" stroke-width="1.1"/>
<line x1="397.04" y1="527.19" x2="397.04" y2="540.13" stroke="#333" stroke-width="1.1"/>
<line x1="404.80" y1="524.34" x2="404.80" y2="535.99" stroke="#333" stroke-width="1.1"/>
<line x1="412.56" y1="529.52" x2="412.56" y2="541.16" stroke="#333" stroke-width="1.1"/>
<line x1="420.32" y1="531.07" x2="420.32" y2="541.42" stroke="#333" stroke-width="1.1"/>
<line x1="428.08" y1="531.07" x2="428.08" y2="541.42" stroke="#333" stroke-width="1.1"/>
<line x1="435.84" y1="527.45" x2="435.84" y2="538.31" stroke="#333" stroke-width="1.1"/>
<line x1="443.60" y1="532.11" x2="443.60" y2="542.97" stroke="#333" stroke-width="1.1"/>
<line x1="451.36" y1="532.62" x2="451.36" y2="542.97" stroke="#333" stroke-width="1.1"/>
<line x1="459.12" y1="530.03" x2="459.12" y2="539.09" stroke="#333" stroke-width="1.1"/>
<line x1="466.88" y1="528.22" x2="466.88" y2="537.28" stroke="#333" stroke-width="1.1"/>
<line x1="474.64" y1="530.03" x2="474.64" y2="539.09" stroke="#333" stroke-width="1.1"/>
<line x1="482.40" y1="537.02" x2="482.40" y2="544.52" stroke="#333" stroke-width="1.1"/>
<line x1="490.16" y1="534.95" x2="490.16" y2="544.01" stroke="#333" stroke-width="1.1"/>
<line x1="497.92" y1="540.64" x2="497.92" y2="546.85" stroke="#333" stroke-width="1.1"/>
<line x1="505.68" y1="537.54" x2="505.68" y2="546.60" stroke="#333" stroke-width="1.1"/>
<line x1="513.44" y1="534.43" x2="513.44" y2="543.49" stroke="#333" stroke-width="1.1"/>
<line x1="521.20" y1="536.50" x2="521.20" y2="546.08" stroke="#333" stroke-width="1.1"/>
<circle cx="373.76" cy="557.46" r="3.0" fill="#7ddcf2" stroke="#111" stroke-width="1.0"/>
<circle cx="381.52" cy="535.47" r="3.0" fill="#7ddcf2" stroke="#111" stroke-width="1.0"/>
<circle cx="389.28" cy="527.71" r="3.0" fill="#7ddcf2" stroke="#111" stroke-width="1.0"/>
<circle cx="397.04" cy="520.46" r="3.0" fill="#7ddcf2" stroke="#111" stroke-width="1.0"/>
<circle cx="404.80" cy="517.87" r="3.0" fill="#7ddcf2" stroke="#111" stroke-width="1.0"/>
<circle cx="412.56" cy="516.58" r="3.0" fill="#7ddcf2" stroke="#111" stroke-width="1.0"/>
<circle cx="420.32" cy="521.24" r="3.0" fill="#7ddcf2" stroke="#111" stroke-width="1.0"/>
<circle cx="428.08" cy="512.18" r="3.0" fill="#7ddcf2" stroke="#111" stroke-width="1.0"/>
<circle cx="435.84" cy="519.94" r="3.0" fill="#7ddcf2" stroke="#111" stroke-width="1.0"/>
<circle cx="443.60" cy="515.80" r="3.0" fill="#7ddcf2" stroke="#111" stroke-width="1.0"/>
<circle cx="451.36" cy="515.80" r="3.0" fill="#7ddcf2" stroke="#111" stroke-width="1.0"/>
<circle cx="459.12" cy="522.27" r="3.0" fill="#7ddcf2" stroke="#111" stroke-width="1.0"/>
<circle cx="466.88" cy="520.72" r="3.0" fill="#7ddcf2" stroke="#111" stroke-width="1.0"/>
<circle cx="474.64" cy="522.01" r="3.0" fill="#7ddcf2" stroke="#111" stroke-width="1.0"/>
<circle cx="482.40" cy="524.08" r="3.0" fill="#7ddcf2" stroke="#111" stroke-width="1.0"/>
<circle cx="490.16" cy="525.38" r="3.0" fill="#7ddcf2" stroke="#111" stroke-width="1.0"/>
<circle cx="497.92" cy="514.77" r="3.0" fill="#7ddcf2" stroke="#111" stroke-width="1.0"/>
<circle cx="505.68" cy="523.31" r="3.0" fill="#7ddcf2" stroke="#111" stroke-width="1.0"/>
<circle cx="513.44" cy="521.24" r="3.0" fill="#7ddcf2" stroke="#111" stroke-width="1.0"/>
<circle cx="521.20" cy="520.46" r="3.0" fill="#7ddcf2" stroke="#111" stroke-width="1.0"/>
<circle cx="373.76" cy="562.64" r="3.0" fill="#fff" stroke="#111" stroke-width="1.0"/>
<circle cx="381.52" cy="532.36" r="3.0" fill="#fff" stroke="#111" stroke-width="1.0"/>
<circle cx="389.28" cy="530.81" r="3.0" fill="#fff" stroke="#111" stroke-width="1.0"/>
<circle cx="397.04" cy="527.19" r="3.0" fill="#fff" stroke="#111" stroke-width="1.0"/>
<circle cx="404.80" cy="524.34" r="3.0" fill="#fff" stroke="#111" stroke-width="1.0"/>
<circle cx="412.56" cy="529.52" r="3.0" fill="#fff" stroke="#111" stroke-width="1.0"/>
<circle cx="420.32" cy="531.07" r="3.0" fill="#fff" stroke="#111" stroke-width="1.0"/>
<circle cx="428.08" cy="531.07" r="3.0" fill="#fff" stroke="#111" stroke-width="1.0"/>
<circle cx="435.84" cy="527.45" r="3.0" fill="#fff" stroke="#111" stroke-width="1.0"/>
<circle cx="443.60" cy="532.11" r="3.0" fill="#fff" stroke="#111" stroke-width="1.0"/>
<circle cx="451.36" cy="532.62" r="3.0" fill="#fff" stroke="#111" stroke-width="1.0"/>
<circle cx="459.12" cy="530.03" r="3.0" fill="#fff" stroke="#111" stroke-width="1.0"/>
<circle cx="466.88" cy="528.22" r="3.0" fill="#fff" stroke="#111" stroke-width="1.0"/>
<circle cx="474.64" cy="530.03" r="3.0" fill="#fff" stroke="#111" stroke-width="1.0"/>
<circle cx="482.40" cy="537.02" r="3.0" fill="#fff" stroke="#111" stroke-width="1.0"/>
<circle cx="490.16" cy="534.95" r="3.0" fill="#fff" stroke="#111" stroke-width="1.0"/>
<circle cx="497.92" cy="540.64" r="3.0" fill="#fff" stroke="#111" stroke-width="1.0"/>
<circle cx="505.68" cy="537.54" r="3.0" fill="#fff" stroke="#111" stroke-width="1.0"/>
<circle cx="513.44" cy="534.43" r="3.0" fill="#fff" stroke="#111" stroke-width="1.0"/>
<circle cx="521.20" cy="536.50" r="3.0" fill="#fff" stroke="#111" stroke-width="1.0"/>
<line x1="375.40" y1="474.50" x2="387.00" y2="474.50" stroke="#111" stroke-width="1.0"/>
<circle cx="381.20" cy="474.50" r="2.95" fill="#fff" stroke="#111" stroke-width="1.0"/>
<text x="393.40" y="477.50" font-size="8.1" text-anchor="start" fill="#111" stroke="#111" stroke-width="0.18">6-OHDA Saline</text>
<line x1="375.40" y1="489.00" x2="387.00" y2="489.00" stroke="#111" stroke-width="1.0"/>
<circle cx="381.20" cy="489.00" r="2.95" fill="#7ddcf2" stroke="#111" stroke-width="1.0"/>
<text x="393.40" y="492.00" font-size="8.1" text-anchor="start" fill="#111" stroke="#111" stroke-width="0.18">6-OHDA Quin+Racl</text>
<path d="M531.40,524.20L534.50,524.20M531.40,524.20L532.95,526.88M531.40,524.20L529.85,526.88M531.40,524.20L528.30,524.20M531.40,524.20L529.85,521.52M531.40,524.20L532.95,521.52" stroke="#111" stroke-width="1.45" stroke-linecap="round" fill="none"/>
<circle cx="531.40" cy="524.20" r="1.16" fill="#111"/>
<path d="M531.40,532.30L534.50,532.30M531.40,532.30L532.95,534.98M531.40,532.30L529.85,534.98M531.40,532.30L528.30,532.30M531.40,532.30L529.85,529.62M531.40,532.30L532.95,529.62" stroke="#111" stroke-width="1.45" stroke-linecap="round" fill="none"/>
<circle cx="531.40" cy="532.30" r="1.16" fill="#111"/>
<text x="473.90" y="450.80" font-size="11.1" text-anchor="middle" fill="#111" stroke="#111" stroke-width="0.18">Racloride</text>
<text x="530.00" y="450.80" font-size="11" text-anchor="middle" fill="#111" stroke="#111" stroke-width="0.18">Quinpirole</text>
<line x1="474.80" y1="459.50" x2="478.83" y2="459.50" stroke="#222" stroke-width="1.3"/>
<line x1="480.24" y1="459.50" x2="484.26" y2="459.50" stroke="#222" stroke-width="1.3"/>
<line x1="485.67" y1="459.50" x2="489.70" y2="459.50" stroke="#222" stroke-width="1.3"/>
<line x1="519.30" y1="460.40" x2="523.73" y2="460.40" stroke="#222" stroke-width="1.0"/>
<line x1="521.52" y1="458.18" x2="521.52" y2="462.62" stroke="#222" stroke-width="1.0"/>
<line x1="525.13" y1="460.40" x2="529.57" y2="460.40" stroke="#222" stroke-width="1.0"/>
<line x1="527.35" y1="458.18" x2="527.35" y2="462.62" stroke="#222" stroke-width="1.0"/>
<line x1="530.97" y1="460.40" x2="535.40" y2="460.40" stroke="#222" stroke-width="1.0"/>
<line x1="533.18" y1="458.18" x2="533.18" y2="462.62" stroke="#222" stroke-width="1.0"/>
<line x1="491.40" y1="454.30" x2="501.90" y2="469.20" stroke="#222" stroke-width="0.7"/>
<path d="M499.10,467.65 L501.90,469.20 L501.38,466.04" fill="none" stroke="#222" stroke-width="0.7"/>
<line x1="516.00" y1="455.10" x2="506.30" y2="471.80" stroke="#222" stroke-width="0.7"/>
<path d="M506.54,468.61 L506.30,471.80 L508.95,470.01" fill="none" stroke="#222" stroke-width="0.7"/>
<rect x="472.20" y="482.70" width="53.70" height="7.00" fill="#a6dfe9"/>
<path d="M473.00,484.00V485.70M473.00,486.70V488.40M474.45,484.00V485.70M474.45,486.70V488.40M475.90,484.00V485.70M475.90,486.70V488.40M477.35,484.00V485.70M477.35,486.70V488.40M478.80,484.00V485.70M478.80,486.70V488.40M480.25,484.00V485.70M480.25,486.70V488.40M481.70,484.00V485.70M481.70,486.70V488.40M483.15,484.00V485.70M483.15,486.70V488.40M484.60,484.00V485.70M484.60,486.70V488.40M486.05,484.00V485.70M486.05,486.70V488.40M487.50,484.00V485.70M487.50,486.70V488.40M488.95,484.00V485.70M488.95,486.70V488.40M490.40,484.00V485.70M490.40,486.70V488.40M491.85,484.00V485.70M491.85,486.70V488.40M493.30,484.00V485.70M493.30,486.70V488.40M494.75,484.00V485.70M494.75,486.70V488.40M496.20,484.00V485.70M496.20,486.70V488.40M497.65,484.00V485.70M497.65,486.70V488.40M499.10,484.00V485.70M499.10,486.70V488.40M500.55,484.00V485.70M500.55,486.70V488.40M502.00,484.00V485.70M502.00,486.70V488.40M503.45,484.00V485.70M503.45,486.70V488.40M504.90,484.00V485.70M504.90,486.70V488.40M506.35,484.00V485.70M506.35,486.70V488.40M507.80,484.00V485.70M507.80,486.70V488.40M509.25,484.00V485.70M509.25,486.70V488.40M510.70,484.00V485.70M510.70,486.70V488.40M512.15,484.00V485.70M512.15,486.70V488.40M513.60,484.00V485.70M513.60,486.70V488.40M515.05,484.00V485.70M515.05,486.70V488.40M516.50,484.00V485.70M516.50,486.70V488.40M517.95,484.00V485.70M517.95,486.70V488.40M519.40,484.00V485.70M519.40,486.70V488.40M520.85,484.00V485.70M520.85,486.70V488.40M522.30,484.00V485.70M522.30,486.70V488.40M523.75,484.00V485.70M523.75,486.70V488.40M525.20,484.00V485.70M525.20,486.70V488.40" stroke="#e4f6f9" stroke-width="0.5"/>
<path d="M500.81,478.50 C500.20,474.50 497.15,475.00 498.00,472.80 M504.80,479.00 C508.10,476.50 506.80,473.50 504.50,473.00" fill="none" stroke="#255f80" stroke-width="0.75"/>
<path d="M495.30,493.90 C493.30,497.90 498.37,496.60 500.81,497.80 C502.88,498.80 506.60,497.80 505.80,499.20" fill="none" stroke="#255f80" stroke-width="0.75"/>
<rect x="494.10" y="477.00" width="3.70" height="17.60" rx="1.85" fill="#2f7398" stroke="#255f80" stroke-width="0.45"/>
<line x1="495.50" y1="479.00" x2="495.50" y2="492.10" stroke="#4a8fb5" stroke-width="1.04" stroke-linecap="round"/>
<rect x="496.93" y="477.60" width="3.70" height="17.80" rx="1.85" fill="#2f7398" stroke="#255f80" stroke-width="0.45"/>
<line x1="498.34" y1="479.60" x2="498.34" y2="492.90" stroke="#4a8fb5" stroke-width="1.04" stroke-linecap="round"/>
<rect x="499.77" y="477.00" width="3.70" height="17.60" rx="1.85" fill="#2f7398" stroke="#255f80" stroke-width="0.45"/>
<line x1="501.17" y1="479.00" x2="501.17" y2="492.10" stroke="#4a8fb5" stroke-width="1.04" stroke-linecap="round"/>
<rect x="502.60" y="477.60" width="3.70" height="17.80" rx="1.85" fill="#2f7398" stroke="#255f80" stroke-width="0.45"/>
<line x1="504.01" y1="479.60" x2="504.01" y2="492.90" stroke="#4a8fb5" stroke-width="1.04" stroke-linecap="round"/>
<circle cx="497.15" cy="494.20" r="0.9" fill="none" stroke="#255f80" stroke-width="0.4"/>
<circle cx="500.20" cy="494.20" r="0.9" fill="none" stroke="#255f80" stroke-width="0.4"/>
<circle cx="503.25" cy="494.20" r="0.9" fill="none" stroke="#255f80" stroke-width="0.4"/>
<line x1="582.50" y1="490.50" x2="582.50" y2="591.90" stroke="#666" stroke-width="1.0"/>
<line x1="582.00" y1="591.40" x2="649.00" y2="591.40" stroke="#666" stroke-width="1.0"/>
<line x1="578.90" y1="591.40" x2="582.50" y2="591.40" stroke="#666" stroke-width="1.0"/>
<text x="577.10" y="594.60" font-size="9.0" text-anchor="end" fill="#111" stroke="#111" stroke-width="0.18">0</text>
<line x1="578.90" y1="566.17" x2="582.50" y2="566.17" stroke="#666" stroke-width="1.0"/>
<text x="577.10" y="569.38" font-size="9.0" text-anchor="end" fill="#111" stroke="#111" stroke-width="0.18">200</text>
<line x1="578.90" y1="540.95" x2="582.50" y2="540.95" stroke="#666" stroke-width="1.0"/>
<text x="577.10" y="544.15" font-size="9.0" text-anchor="end" fill="#111" stroke="#111" stroke-width="0.18">400</text>
<line x1="578.90" y1="515.73" x2="582.50" y2="515.73" stroke="#666" stroke-width="1.0"/>
<text x="577.10" y="518.93" font-size="9.0" text-anchor="end" fill="#111" stroke="#111" stroke-width="0.18">600</text>
<line x1="578.90" y1="490.50" x2="582.50" y2="490.50" stroke="#666" stroke-width="1.0"/>
<text x="577.10" y="493.70" font-size="9.0" text-anchor="end" fill="#111" stroke="#111" stroke-width="0.18">800</text>
<line x1="601.50" y1="591.40" x2="601.50" y2="595.20" stroke="#666" stroke-width="1.0"/>
<line x1="630.20" y1="591.40" x2="630.20" y2="595.20" stroke="#666" stroke-width="1.0"/>
<line x1="601.50" y1="514.09" x2="630.20" y2="499.20" stroke="#222" stroke-width="0.8"/>
<line x1="601.50" y1="515.73" x2="630.20" y2="504.12" stroke="#222" stroke-width="0.8"/>
<line x1="601.50" y1="526.07" x2="630.20" y2="513.71" stroke="#222" stroke-width="0.8"/>
<line x1="601.50" y1="528.21" x2="630.20" y2="528.59" stroke="#222" stroke-width="0.8"/>
<line x1="601.50" y1="532.63" x2="630.20" y2="538.18" stroke="#222" stroke-width="0.8"/>
<line x1="601.50" y1="542.97" x2="630.20" y2="506.90" stroke="#222" stroke-width="0.8"/>
<line x1="601.50" y1="581.31" x2="630.20" y2="581.31" stroke="#222" stroke-width="0.8"/>
<circle cx="601.50" cy="514.09" r="2.55" fill="#111" stroke="#111" stroke-width="0.6"/>
<circle cx="630.20" cy="499.20" r="2.65" fill="#fff" stroke="#111" stroke-width="0.95"/>
<circle cx="601.50" cy="515.73" r="2.55" fill="#111" stroke="#111" stroke-width="0.6"/>
<circle cx="630.20" cy="504.12" r="2.65" fill="#fff" stroke="#111" stroke-width="0.95"/>
<circle cx="601.50" cy="526.07" r="2.55" fill="#111" stroke="#111" stroke-width="0.6"/>
<circle cx="630.20" cy="513.71" r="2.65" fill="#fff" stroke="#111" stroke-width="0.95"/>
<circle cx="601.50" cy="528.21" r="2.55" fill="#111" stroke="#111" stroke-width="0.6"/>
<circle cx="630.20" cy="528.59" r="2.65" fill="#fff" stroke="#111" stroke-width="0.95"/>
<circle cx="601.50" cy="532.63" r="2.55" fill="#111" stroke="#111" stroke-width="0.6"/>
<circle cx="630.20" cy="538.18" r="2.65" fill="#fff" stroke="#111" stroke-width="0.95"/>
<circle cx="601.50" cy="542.97" r="2.55" fill="#111" stroke="#111" stroke-width="0.6"/>
<circle cx="630.20" cy="506.90" r="2.65" fill="#fff" stroke="#111" stroke-width="0.95"/>
<circle cx="601.50" cy="581.31" r="2.55" fill="#111" stroke="#111" stroke-width="0.6"/>
<circle cx="630.20" cy="581.31" r="2.65" fill="#fff" stroke="#111" stroke-width="0.95"/>
<text x="559.40" y="543.40" font-size="9.1" text-anchor="middle" fill="#111" stroke="#111" stroke-width="0.18" transform="rotate(-90 559.40 543.40)">Total number of spikes C</text>
<text x="629.80" y="491.50" font-size="12" text-anchor="middle" fill="#222" stroke="#222" stroke-width="0.18">ns</text>
<text x="595.80" y="607.50" font-size="9.7" text-anchor="middle" fill="#111" stroke="#111" stroke-width="0.18">Saline</text>
<text x="638.50" y="607.50" font-size="9.7" text-anchor="middle" fill="#111" stroke="#111" stroke-width="0.18">Quinpirole</text>
<text x="639.50" y="619.30" font-size="9.7" text-anchor="middle" fill="#111" stroke="#111" stroke-width="0.18">+ Raclopride</text>
<text x="4.80" y="668.10" font-size="25.3" text-anchor="start" fill="#000">G</text>
<line x1="32.50" y1="693.70" x2="32.50" y2="798.30" stroke="#1a1a1a" stroke-width="1.1"/>
<line x1="32.00" y1="797.80" x2="187.90" y2="797.80" stroke="#1a1a1a" stroke-width="1.1"/>
<line x1="28.30" y1="797.80" x2="32.50" y2="797.80" stroke="#1a1a1a" stroke-width="1.1"/>
<text x="26.10" y="801.20" font-size="9.5" text-anchor="end" fill="#111" stroke="#111" stroke-width="0.18">0</text>
<line x1="28.30" y1="776.98" x2="32.50" y2="776.98" stroke="#1a1a1a" stroke-width="1.1"/>
<text x="26.10" y="780.38" font-size="9.5" text-anchor="end" fill="#111" stroke="#111" stroke-width="0.18">10</text>
<line x1="28.30" y1="756.16" x2="32.50" y2="756.16" stroke="#1a1a1a" stroke-width="1.1"/>
<text x="26.10" y="759.56" font-size="9.5" text-anchor="end" fill="#111" stroke="#111" stroke-width="0.18">20</text>
<line x1="28.30" y1="735.34" x2="32.50" y2="735.34" stroke="#1a1a1a" stroke-width="1.1"/>
<text x="26.10" y="738.74" font-size="9.5" text-anchor="end" fill="#111" stroke="#111" stroke-width="0.18">30</text>
<line x1="28.30" y1="714.52" x2="32.50" y2="714.52" stroke="#1a1a1a" stroke-width="1.1"/>
<text x="26.10" y="717.92" font-size="9.5" text-anchor="end" fill="#111" stroke="#111" stroke-width="0.18">40</text>
<line x1="28.30" y1="693.70" x2="32.50" y2="693.70" stroke="#1a1a1a" stroke-width="1.1"/>
<text x="26.10" y="697.10" font-size="9.5" text-anchor="end" fill="#111" stroke="#111" stroke-width="0.18">50</text>
<line x1="32.50" y1="797.80" x2="32.50" y2="801.60" stroke="#1a1a1a" stroke-width="1.1"/>
<text x="32.50" y="812.60" font-size="9.5" text-anchor="middle" fill="#111" stroke="#111" stroke-width="0.18">0</text>
<line x1="71.35" y1="797.80" x2="71.35" y2="801.60" stroke="#1a1a1a" stroke-width="1.1"/>
<text x="71.35" y="812.60" font-size="9.5" text-anchor="middle" fill="#111" stroke="#111" stroke-width="0.18">5</text>
<line x1="110.20" y1="797.80" x2="110.20" y2="801.60" stroke="#1a1a1a" stroke-width="1.1"/>
<text x="110.20" y="812.60" font-size="9.5" text-anchor="middle" fill="#111" stroke="#111" stroke-width="0.18">10</text>
<line x1="149.05" y1="797.80" x2="149.05" y2="801.60" stroke="#1a1a1a" stroke-width="1.1"/>
<text x="149.05" y="812.60" font-size="9.5" text-anchor="middle" fill="#111" stroke="#111" stroke-width="0.18">15</text>
<line x1="187.90" y1="797.80" x2="187.90" y2="801.60" stroke="#1a1a1a" stroke-width="1.1"/>
<text x="187.90" y="812.60" font-size="9.5" text-anchor="middle" fill="#111" stroke="#111" stroke-width="0.18">20</text>
<text x="110.40" y="829.50" font-size="11.2" text-anchor="middle" fill="#111" stroke="#111" stroke-width="0.18">Stimulation intensity (mA)</text>
<text x="10.20" y="745.20" font-size="11.1" text-anchor="middle" fill="#111" stroke="#111" stroke-width="0.18" transform="rotate(-90 10.20 745.20)">Number of spikes C</text>
<polyline fill="none" stroke="#111" stroke-width="1.0" points="40.27,789.89 48.04,788.01 55.81,771.15 63.58,753.04 71.35,747.42 79.12,739.09 86.89,731.59 94.66,722.64 102.43,720.35 110.20,722.64 117.97,710.56 125.74,715.56 133.51,715.98 141.28,715.35 149.05,712.85 156.82,712.02 164.59,715.56 172.36,716.60 180.13,717.02 187.90,721.18"/>
<polyline fill="none" stroke="#111" stroke-width="1.0" points="40.27,794.47 48.04,788.01 55.81,773.86 63.58,759.91 71.35,756.16 79.12,746.17 86.89,739.50 94.66,736.17 102.43,729.72 110.20,725.14 117.97,724.31 125.74,729.72 133.51,724.72 141.28,724.51 149.05,724.51 156.82,722.64 164.59,727.22 172.36,724.10 180.13,724.72 187.90,728.47"/>
<line x1="40.27" y1="789.89" x2="40.27" y2="787.81" stroke="#444" stroke-width="1.1"/>
<line x1="48.04" y1="788.01" x2="48.04" y2="785.93" stroke="#444" stroke-width="1.1"/>
<line x1="55.81" y1="771.15" x2="55.81" y2="768.03" stroke="#444" stroke-width="1.1"/>
<line x1="63.58" y1="753.04" x2="63.58" y2="748.87" stroke="#444" stroke-width="1.1"/>
<line x1="71.35" y1="747.42" x2="71.35" y2="742.21" stroke="#444" stroke-width="1.1"/>
<line x1="79.12" y1="739.09" x2="79.12" y2="732.84" stroke="#444" stroke-width="1.1"/>
<line x1="86.89" y1="731.59" x2="86.89" y2="724.31" stroke="#444" stroke-width="1.1"/>
<line x1="94.66" y1="722.64" x2="94.66" y2="715.35" stroke="#444" stroke-width="1.1"/>
<line x1="102.43" y1="720.35" x2="102.43" y2="714.10" stroke="#444" stroke-width="1.1"/>
<line x1="110.20" y1="722.64" x2="110.20" y2="715.35" stroke="#444" stroke-width="1.1"/>
<line x1="117.97" y1="710.56" x2="117.97" y2="702.24" stroke="#444" stroke-width="1.1"/>
<line x1="125.74" y1="715.56" x2="125.74" y2="706.19" stroke="#444" stroke-width="1.1"/>
<line x1="133.51" y1="715.98" x2="133.51" y2="706.61" stroke="#444" stroke-width="1.1"/>
<line x1="141.28" y1="715.35" x2="141.28" y2="703.90" stroke="#444" stroke-width="1.1"/>
<line x1="149.05" y1="712.85" x2="149.05" y2="704.53" stroke="#444" stroke-width="1.1"/>
<line x1="156.82" y1="712.02" x2="156.82" y2="704.73" stroke="#444" stroke-width="1.1"/>
<line x1="164.59" y1="715.56" x2="164.59" y2="709.32" stroke="#444" stroke-width="1.1"/>
<line x1="172.36" y1="716.60" x2="172.36" y2="710.36" stroke="#444" stroke-width="1.1"/>
<line x1="180.13" y1="717.02" x2="180.13" y2="709.73" stroke="#444" stroke-width="1.1"/>
<line x1="187.90" y1="721.18" x2="187.90" y2="714.94" stroke="#444" stroke-width="1.1"/>
<line x1="40.27" y1="794.47" x2="40.27" y2="796.55" stroke="#444" stroke-width="1.1"/>
<line x1="48.04" y1="788.01" x2="48.04" y2="790.10" stroke="#444" stroke-width="1.1"/>
<line x1="55.81" y1="773.86" x2="55.81" y2="776.98" stroke="#444" stroke-width="1.1"/>
<line x1="63.58" y1="759.91" x2="63.58" y2="764.07" stroke="#444" stroke-width="1.1"/>
<line x1="71.35" y1="756.16" x2="71.35" y2="761.37" stroke="#444" stroke-width="1.1"/>
<line x1="79.12" y1="746.17" x2="79.12" y2="752.41" stroke="#444" stroke-width="1.1"/>
<line x1="86.89" y1="739.50" x2="86.89" y2="745.75" stroke="#444" stroke-width="1.1"/>
<line x1="94.66" y1="736.17" x2="94.66" y2="743.46" stroke="#444" stroke-width="1.1"/>
<line x1="102.43" y1="729.72" x2="102.43" y2="735.96" stroke="#444" stroke-width="1.1"/>
<line x1="110.20" y1="725.14" x2="110.20" y2="731.38" stroke="#444" stroke-width="1.1"/>
<line x1="117.97" y1="724.31" x2="117.97" y2="732.63" stroke="#444" stroke-width="1.1"/>
<line x1="125.74" y1="729.72" x2="125.74" y2="737.01" stroke="#444" stroke-width="1.1"/>
<line x1="133.51" y1="724.72" x2="133.51" y2="732.01" stroke="#444" stroke-width="1.1"/>
<line x1="141.28" y1="724.51" x2="141.28" y2="732.84" stroke="#444" stroke-width="1.1"/>
<line x1="149.05" y1="724.51" x2="149.05" y2="731.80" stroke="#444" stroke-width="1.1"/>
<line x1="156.82" y1="722.64" x2="156.82" y2="729.93" stroke="#444" stroke-width="1.1"/>
<line x1="164.59" y1="727.22" x2="164.59" y2="734.51" stroke="#444" stroke-width="1.1"/>
<line x1="172.36" y1="724.10" x2="172.36" y2="730.34" stroke="#444" stroke-width="1.1"/>
<line x1="180.13" y1="724.72" x2="180.13" y2="732.01" stroke="#444" stroke-width="1.1"/>
<line x1="187.90" y1="728.47" x2="187.90" y2="736.80" stroke="#444" stroke-width="1.1"/>
<circle cx="40.27" cy="789.89" r="3.0" fill="#ee3a1f" stroke="#111" stroke-width="1.0"/>
<circle cx="48.04" cy="788.01" r="3.0" fill="#ee3a1f" stroke="#111" stroke-width="1.0"/>
<circle cx="55.81" cy="771.15" r="3.0" fill="#ee3a1f" stroke="#111" stroke-width="1.0"/>
<circle cx="63.58" cy="753.04" r="3.0" fill="#ee3a1f" stroke="#111" stroke-width="1.0"/>
<circle cx="71.35" cy="747.42" r="3.0" fill="#ee3a1f" stroke="#111" stroke-width="1.0"/>
<circle cx="79.12" cy="739.09" r="3.0" fill="#ee3a1f" stroke="#111" stroke-width="1.0"/>
<circle cx="86.89" cy="731.59" r="3.0" fill="#ee3a1f" stroke="#111" stroke-width="1.0"/>
<circle cx="94.66" cy="722.64" r="3.0" fill="#ee3a1f" stroke="#111" stroke-width="1.0"/>
<circle cx="102.43" cy="720.35" r="3.0" fill="#ee3a1f" stroke="#111" stroke-width="1.0"/>
<circle cx="110.20" cy="722.64" r="3.0" fill="#ee3a1f" stroke="#111" stroke-width="1.0"/>
<circle cx="117.97" cy="710.56" r="3.0" fill="#ee3a1f" stroke="#111" stroke-width="1.0"/>
<circle cx="125.74" cy="715.56" r="3.0" fill="#ee3a1f" stroke="#111" stroke-width="1.0"/>
<circle cx="133.51" cy="715.98" r="3.0" fill="#ee3a1f" stroke="#111" stroke-width="1.0"/>
<circle cx="141.28" cy="715.35" r="3.0" fill="#ee3a1f" stroke="#111" stroke-width="1.0"/>
<circle cx="149.05" cy="712.85" r="3.0" fill="#ee3a1f" stroke="#111" stroke-width="1.0"/>
<circle cx="156.82" cy="712.02" r="3.0" fill="#ee3a1f" stroke="#111" stroke-width="1.0"/>
<circle cx="164.59" cy="715.56" r="3.0" fill="#ee3a1f" stroke="#111" stroke-width="1.0"/>
<circle cx="172.36" cy="716.60" r="3.0" fill="#ee3a1f" stroke="#111" stroke-width="1.0"/>
<circle cx="180.13" cy="717.02" r="3.0" fill="#ee3a1f" stroke="#111" stroke-width="1.0"/>
<circle cx="187.90" cy="721.18" r="3.0" fill="#ee3a1f" stroke="#111" stroke-width="1.0"/>
<circle cx="40.27" cy="794.47" r="3.0" fill="#fff" stroke="#111" stroke-width="1.0"/>
<circle cx="48.04" cy="788.01" r="3.0" fill="#fff" stroke="#111" stroke-width="1.0"/>
<circle cx="55.81" cy="773.86" r="3.0" fill="#fff" stroke="#111" stroke-width="1.0"/>
<circle cx="63.58" cy="759.91" r="3.0" fill="#fff" stroke="#111" stroke-width="1.0"/>
<circle cx="71.35" cy="756.16" r="3.0" fill="#fff" stroke="#111" stroke-width="1.0"/>
<circle cx="79.12" cy="746.17" r="3.0" fill="#fff" stroke="#111" stroke-width="1.0"/>
<circle cx="86.89" cy="739.50" r="3.0" fill="#fff" stroke="#111" stroke-width="1.0"/>
<circle cx="94.66" cy="736.17" r="3.0" fill="#fff" stroke="#111" stroke-width="1.0"/>
<circle cx="102.43" cy="729.72" r="3.0" fill="#fff" stroke="#111" stroke-width="1.0"/>
<circle cx="110.20" cy="725.14" r="3.0" fill="#fff" stroke="#111" stroke-width="1.0"/>
<circle cx="117.97" cy="724.31" r="3.0" fill="#fff" stroke="#111" stroke-width="1.0"/>
<circle cx="125.74" cy="729.72" r="3.0" fill="#fff" stroke="#111" stroke-width="1.0"/>
<circle cx="133.51" cy="724.72" r="3.0" fill="#fff" stroke="#111" stroke-width="1.0"/>
<circle cx="141.28" cy="724.51" r="3.0" fill="#fff" stroke="#111" stroke-width="1.0"/>
<circle cx="149.05" cy="724.51" r="3.0" fill="#fff" stroke="#111" stroke-width="1.0"/>
<circle cx="156.82" cy="722.64" r="3.0" fill="#fff" stroke="#111" stroke-width="1.0"/>
<circle cx="164.59" cy="727.22" r="3.0" fill="#fff" stroke="#111" stroke-width="1.0"/>
<circle cx="172.36" cy="724.10" r="3.0" fill="#fff" stroke="#111" stroke-width="1.0"/>
<circle cx="180.13" cy="724.72" r="3.0" fill="#fff" stroke="#111" stroke-width="1.0"/>
<circle cx="187.90" cy="728.47" r="3.0" fill="#fff" stroke="#111" stroke-width="1.0"/>
<line x1="41.90" y1="686.50" x2="53.50" y2="686.50" stroke="#111" stroke-width="1.0"/>
<circle cx="47.70" cy="686.50" r="2.95" fill="#fff" stroke="#111" stroke-width="1.0"/>
<text x="59.90" y="689.50" font-size="8.1" text-anchor="start" fill="#111" stroke="#111" stroke-width="0.18">6-OHDA Saline</text>
<line x1="41.90" y1="700.70" x2="53.50" y2="700.70" stroke="#111" stroke-width="1.0"/>
<circle cx="47.70" cy="700.70" r="2.95" fill="#ee3a1f" stroke="#111" stroke-width="1.0"/>
<text x="59.90" y="703.70" font-size="8.1" text-anchor="start" fill="#111" stroke="#111" stroke-width="0.18">6-OHDA SKF</text>
<path d="M198.20,717.50L201.30,717.50M198.20,717.50L199.75,720.18M198.20,717.50L196.65,720.18M198.20,717.50L195.10,717.50M198.20,717.50L196.65,714.82M198.20,717.50L199.75,714.82" stroke="#111" stroke-width="1.45" stroke-linecap="round" fill="none"/>
<circle cx="198.20" cy="717.50" r="1.16" fill="#111"/>
<path d="M198.20,726.00L201.30,726.00M198.20,726.00L199.75,728.68M198.20,726.00L196.65,728.68M198.20,726.00L195.10,726.00M198.20,726.00L196.65,723.32M198.20,726.00L199.75,723.32" stroke="#111" stroke-width="1.45" stroke-linecap="round" fill="none"/>
<circle cx="198.20" cy="726.00" r="1.16" fill="#111"/>
<path d="M198.20,734.10L201.30,734.10M198.20,734.10L199.75,736.78M198.20,734.10L196.65,736.78M198.20,734.10L195.10,734.10M198.20,734.10L196.65,731.42M198.20,734.10L199.75,731.42" stroke="#111" stroke-width="1.45" stroke-linecap="round" fill="none"/>
<circle cx="198.20" cy="734.10" r="1.16" fill="#111"/>
<text x="177.30" y="655.80" font-size="11.2" text-anchor="middle" fill="#111" stroke="#111" stroke-width="0.18">SKF</text>
<line x1="182.17" y1="664.60" x2="187.97" y2="664.60" stroke="#222" stroke-width="1.1"/>
<line x1="185.07" y1="661.70" x2="185.07" y2="667.50" stroke="#222" stroke-width="1.1"/>
<line x1="189.50" y1="664.60" x2="195.30" y2="664.60" stroke="#222" stroke-width="1.1"/>
<line x1="192.40" y1="661.70" x2="192.40" y2="667.50" stroke="#222" stroke-width="1.1"/>
<line x1="196.83" y1="664.60" x2="202.63" y2="664.60" stroke="#222" stroke-width="1.1"/>
<line x1="199.73" y1="661.70" x2="199.73" y2="667.50" stroke="#222" stroke-width="1.1"/>
<line x1="176.50" y1="659.90" x2="176.50" y2="675.30" stroke="#222" stroke-width="0.7"/>
<path d="M175.11,672.42 L176.50,675.30 L177.89,672.42" fill="none" stroke="#222" stroke-width="0.7"/>
<rect x="146.10" y="688.50" width="53.70" height="6.70" fill="#a6dfe9"/>
<path d="M146.90,689.80V691.35M146.90,692.35V693.90M148.35,689.80V691.35M148.35,692.35V693.90M149.80,689.80V691.35M149.80,692.35V693.90M151.25,689.80V691.35M151.25,692.35V693.90M152.70,689.80V691.35M152.70,692.35V693.90M154.15,689.80V691.35M154.15,692.35V693.90M155.60,689.80V691.35M155.60,692.35V693.90M157.05,689.80V691.35M157.05,692.35V693.90M158.50,689.80V691.35M158.50,692.35V693.90M159.95,689.80V691.35M159.95,692.35V693.90M161.40,689.80V691.35M161.40,692.35V693.90M162.85,689.80V691.35M162.85,692.35V693.90M164.30,689.80V691.35M164.30,692.35V693.90M165.75,689.80V691.35M165.75,692.35V693.90M167.20,689.80V691.35M167.20,692.35V693.90M168.65,689.80V691.35M168.65,692.35V693.90M170.10,689.80V691.35M170.10,692.35V693.90M171.55,689.80V691.35M171.55,692.35V693.90M173.00,689.80V691.35M173.00,692.35V693.90M174.45,689.80V691.35M174.45,692.35V693.90M175.90,689.80V691.35M175.90,692.35V693.90M177.35,689.80V691.35M177.35,692.35V693.90M178.80,689.80V691.35M178.80,692.35V693.90M180.25,689.80V691.35M180.25,692.35V693.90M181.70,689.80V691.35M181.70,692.35V693.90M183.15,689.80V691.35M183.15,692.35V693.90M184.60,689.80V691.35M184.60,692.35V693.90M186.05,689.80V691.35M186.05,692.35V693.90M187.50,689.80V691.35M187.50,692.35V693.90M188.95,689.80V691.35M188.95,692.35V693.90M190.40,689.80V691.35M190.40,692.35V693.90M191.85,689.80V691.35M191.85,692.35V693.90M193.30,689.80V691.35M193.30,692.35V693.90M194.75,689.80V691.35M194.75,692.35V693.90M196.20,689.80V691.35M196.20,692.35V693.90M197.65,689.80V691.35M197.65,692.35V693.90M199.10,689.80V691.35M199.10,692.35V693.90" stroke="#e4f6f9" stroke-width="0.5"/>
<path d="M175.00,682.40 C174.35,678.40 171.08,678.90 171.99,676.70 M179.40,682.90 C182.70,680.40 181.40,677.40 179.10,676.90" fill="none" stroke="#b9404f" stroke-width="0.75"/>
<path d="M169.00,698.80 C167.00,702.80 172.39,701.50 175.00,702.70 C177.23,703.70 181.20,702.70 180.40,704.10" fill="none" stroke="#b9404f" stroke-width="0.75"/>
<rect x="167.80" y="680.90" width="3.97" height="18.60" rx="1.98" fill="#d9596a" stroke="#b9404f" stroke-width="0.45"/>
<line x1="169.31" y1="682.90" x2="169.31" y2="697.00" stroke="#ea7f8c" stroke-width="1.11" stroke-linecap="round"/>
<rect x="170.84" y="681.50" width="3.97" height="18.80" rx="1.98" fill="#d9596a" stroke="#b9404f" stroke-width="0.45"/>
<line x1="172.35" y1="683.50" x2="172.35" y2="697.80" stroke="#ea7f8c" stroke-width="1.11" stroke-linecap="round"/>
<rect x="173.89" y="680.90" width="3.97" height="18.60" rx="1.98" fill="#d9596a" stroke="#b9404f" stroke-width="0.45"/>
<line x1="175.40" y1="682.90" x2="175.40" y2="697.00" stroke="#ea7f8c" stroke-width="1.11" stroke-linecap="round"/>
<rect x="176.93" y="681.50" width="3.97" height="18.80" rx="1.98" fill="#d9596a" stroke="#b9404f" stroke-width="0.45"/>
<line x1="178.44" y1="683.50" x2="178.44" y2="697.80" stroke="#ea7f8c" stroke-width="1.11" stroke-linecap="round"/>
<circle cx="171.08" cy="699.10" r="0.9" fill="none" stroke="#b9404f" stroke-width="0.4"/>
<circle cx="174.35" cy="699.10" r="0.9" fill="none" stroke="#b9404f" stroke-width="0.4"/>
<circle cx="177.62" cy="699.10" r="0.9" fill="none" stroke="#b9404f" stroke-width="0.4"/>
<line x1="178.80" y1="705.90" x2="198.30" y2="705.90" stroke="#8a8a8a" stroke-width="1.1"/>
<line x1="198.30" y1="705.90" x2="201.30" y2="705.90" stroke="#6aaee6" stroke-width="1.1"/>
<line x1="252.10" y1="704.60" x2="252.10" y2="799.50" stroke="#666" stroke-width="1.0"/>
<line x1="251.60" y1="799.00" x2="316.00" y2="799.00" stroke="#666" stroke-width="1.0"/>
<line x1="248.50" y1="799.00" x2="252.10" y2="799.00" stroke="#666" stroke-width="1.0"/>
<text x="246.70" y="802.20" font-size="9.0" text-anchor="end" fill="#111" stroke="#111" stroke-width="0.18">0</text>
<line x1="248.50" y1="780.12" x2="252.10" y2="780.12" stroke="#666" stroke-width="1.0"/>
<text x="246.70" y="783.32" font-size="9.0" text-anchor="end" fill="#111" stroke="#111" stroke-width="0.18">200</text>
<line x1="248.50" y1="761.24" x2="252.10" y2="761.24" stroke="#666" stroke-width="1.0"/>
<text x="246.70" y="764.44" font-size="9.0" text-anchor="end" fill="#111" stroke="#111" stroke-width="0.18">400</text>
<line x1="248.50" y1="742.36" x2="252.10" y2="742.36" stroke="#666" stroke-width="1.0"/>
<text x="246.70" y="745.56" font-size="9.0" text-anchor="end" fill="#111" stroke="#111" stroke-width="0.18">600</text>
<line x1="248.50" y1="723.48" x2="252.10" y2="723.48" stroke="#666" stroke-width="1.0"/>
<text x="246.70" y="726.68" font-size="9.0" text-anchor="end" fill="#111" stroke="#111" stroke-width="0.18">800</text>
<line x1="248.50" y1="704.60" x2="252.10" y2="704.60" stroke="#666" stroke-width="1.0"/>
<text x="246.70" y="707.80" font-size="9.0" text-anchor="end" fill="#111" stroke="#111" stroke-width="0.18">1000</text>
<line x1="270.40" y1="799.00" x2="270.40" y2="802.80" stroke="#666" stroke-width="1.0"/>
<line x1="297.30" y1="799.00" x2="297.30" y2="802.80" stroke="#666" stroke-width="1.0"/>
<line x1="270.40" y1="723.39" x2="297.30" y2="713.76" stroke="#222" stroke-width="0.8"/>
<line x1="270.40" y1="737.17" x2="297.30" y2="739.06" stroke="#222" stroke-width="0.8"/>
<line x1="270.40" y1="739.06" x2="297.30" y2="733.86" stroke="#222" stroke-width="0.8"/>
<line x1="270.40" y1="741.98" x2="297.30" y2="739.06" stroke="#222" stroke-width="0.8"/>
<line x1="270.40" y1="744.81" x2="297.30" y2="738.58" stroke="#222" stroke-width="0.8"/>
<line x1="270.40" y1="747.74" x2="297.30" y2="746.80" stroke="#222" stroke-width="0.8"/>
<line x1="270.40" y1="749.63" x2="297.30" y2="746.14" stroke="#222" stroke-width="0.8"/>
<line x1="270.40" y1="757.28" x2="297.30" y2="746.80" stroke="#222" stroke-width="0.8"/>
<line x1="270.40" y1="770.59" x2="297.30" y2="757.28" stroke="#222" stroke-width="0.8"/>
<circle cx="270.40" cy="723.39" r="2.55" fill="#111" stroke="#111" stroke-width="0.6"/>
<circle cx="297.30" cy="713.76" r="2.65" fill="#fff" stroke="#111" stroke-width="0.95"/>
<circle cx="270.40" cy="737.17" r="2.55" fill="#111" stroke="#111" stroke-width="0.6"/>
<circle cx="297.30" cy="739.06" r="2.65" fill="#fff" stroke="#111" stroke-width="0.95"/>
<circle cx="270.40" cy="739.06" r="2.55" fill="#111" stroke="#111" stroke-width="0.6"/>
<circle cx="297.30" cy="733.86" r="2.65" fill="#fff" stroke="#111" stroke-width="0.95"/>
<circle cx="270.40" cy="741.98" r="2.55" fill="#111" stroke="#111" stroke-width="0.6"/>
<circle cx="297.30" cy="739.06" r="2.65" fill="#fff" stroke="#111" stroke-width="0.95"/>
<circle cx="270.40" cy="744.81" r="2.55" fill="#111" stroke="#111" stroke-width="0.6"/>
<circle cx="297.30" cy="738.58" r="2.65" fill="#fff" stroke="#111" stroke-width="0.95"/>
<circle cx="270.40" cy="747.74" r="2.55" fill="#111" stroke="#111" stroke-width="0.6"/>
<circle cx="297.30" cy="746.80" r="2.65" fill="#fff" stroke="#111" stroke-width="0.95"/>
<circle cx="270.40" cy="749.63" r="2.55" fill="#111" stroke="#111" stroke-width="0.6"/>
<circle cx="297.30" cy="746.14" r="2.65" fill="#fff" stroke="#111" stroke-width="0.95"/>
<circle cx="270.40" cy="757.28" r="2.55" fill="#111" stroke="#111" stroke-width="0.6"/>
<circle cx="297.30" cy="746.80" r="2.65" fill="#fff" stroke="#111" stroke-width="0.95"/>
<circle cx="270.40" cy="770.59" r="2.55" fill="#111" stroke="#111" stroke-width="0.6"/>
<circle cx="297.30" cy="757.28" r="2.65" fill="#fff" stroke="#111" stroke-width="0.95"/>
<text x="225.00" y="748.80" font-size="9.35" text-anchor="middle" fill="#111" stroke="#111" stroke-width="0.18" transform="rotate(-90 225.00 748.80)">Total number of spikes C</text>
<path d="M297.30,703.70L297.30,700.90M297.30,703.70L299.96,702.83M297.30,703.70L298.95,705.97M297.30,703.70L295.65,705.97M297.30,703.70L294.64,702.83" stroke="#111" stroke-width="1.3" stroke-linecap="round" fill="none"/>
<circle cx="297.30" cy="703.70" r="1.04" fill="#111"/>
<text x="268.40" y="815.50" font-size="9.7" text-anchor="middle" fill="#111" stroke="#111" stroke-width="0.18">Saline</text>
<text x="300.20" y="815.50" font-size="9.7" text-anchor="middle" fill="#111" stroke="#111" stroke-width="0.18">SKF</text>
<text x="349.30" y="668.60" font-size="25.3" text-anchor="start" fill="#000">H</text>
<line x1="366.60" y1="696.80" x2="366.60" y2="798.90" stroke="#1a1a1a" stroke-width="1.1"/>
<line x1="366.10" y1="798.40" x2="519.50" y2="798.40" stroke="#1a1a1a" stroke-width="1.1"/>
<line x1="362.40" y1="798.40" x2="366.60" y2="798.40" stroke="#1a1a1a" stroke-width="1.1"/>
<text x="360.20" y="801.80" font-size="9.5" text-anchor="end" fill="#111" stroke="#111" stroke-width="0.18">0</text>
<line x1="362.40" y1="778.08" x2="366.60" y2="778.08" stroke="#1a1a1a" stroke-width="1.1"/>
<text x="360.20" y="781.48" font-size="9.5" text-anchor="end" fill="#111" stroke="#111" stroke-width="0.18">10</text>
<line x1="362.40" y1="757.76" x2="366.60" y2="757.76" stroke="#1a1a1a" stroke-width="1.1"/>
<text x="360.20" y="761.16" font-size="9.5" text-anchor="end" fill="#111" stroke="#111" stroke-width="0.18">20</text>
<line x1="362.40" y1="737.44" x2="366.60" y2="737.44" stroke="#1a1a1a" stroke-width="1.1"/>
<text x="360.20" y="740.84" font-size="9.5" text-anchor="end" fill="#111" stroke="#111" stroke-width="0.18">30</text>
<line x1="362.40" y1="717.12" x2="366.60" y2="717.12" stroke="#1a1a1a" stroke-width="1.1"/>
<text x="360.20" y="720.52" font-size="9.5" text-anchor="end" fill="#111" stroke="#111" stroke-width="0.18">40</text>
<line x1="362.40" y1="696.80" x2="366.60" y2="696.80" stroke="#1a1a1a" stroke-width="1.1"/>
<text x="360.20" y="700.20" font-size="9.5" text-anchor="end" fill="#111" stroke="#111" stroke-width="0.18">50</text>
<line x1="366.60" y1="798.40" x2="366.60" y2="802.20" stroke="#1a1a1a" stroke-width="1.1"/>
<text x="366.60" y="813.20" font-size="9.5" text-anchor="middle" fill="#111" stroke="#111" stroke-width="0.18">0</text>
<line x1="404.83" y1="798.40" x2="404.83" y2="802.20" stroke="#1a1a1a" stroke-width="1.1"/>
<text x="404.83" y="813.20" font-size="9.5" text-anchor="middle" fill="#111" stroke="#111" stroke-width="0.18">5</text>
<line x1="443.05" y1="798.40" x2="443.05" y2="802.20" stroke="#1a1a1a" stroke-width="1.1"/>
<text x="443.05" y="813.20" font-size="9.5" text-anchor="middle" fill="#111" stroke="#111" stroke-width="0.18">10</text>
<line x1="481.27" y1="798.40" x2="481.27" y2="802.20" stroke="#1a1a1a" stroke-width="1.1"/>
<text x="481.27" y="813.20" font-size="9.5" text-anchor="middle" fill="#111" stroke="#111" stroke-width="0.18">15</text>
<line x1="519.50" y1="798.40" x2="519.50" y2="802.20" stroke="#1a1a1a" stroke-width="1.1"/>
<text x="519.50" y="813.20" font-size="9.5" text-anchor="middle" fill="#111" stroke="#111" stroke-width="0.18">20</text>
<text x="442.80" y="830.00" font-size="11.2" text-anchor="middle" fill="#111" stroke="#111" stroke-width="0.18">Stimulation intensity (mA)</text>
<text x="345.20" y="747.00" font-size="11.1" text-anchor="middle" fill="#111" stroke="#111" stroke-width="0.18" transform="rotate(-90 345.20 747.00)">Number of spikes C</text>
<polyline fill="none" stroke="#111" stroke-width="1.0" points="374.25,775.64 381.89,761.21 389.54,752.27 397.18,744.55 404.83,740.49 412.47,739.07 420.12,736.83 427.76,729.92 435.41,720.57 443.05,731.95 450.69,729.92 458.34,730.53 465.99,733.99 473.63,724.23 481.27,723.62 488.92,729.92 496.56,726.47 504.21,729.92 511.86,728.70 519.50,737.85"/>
<polyline fill="none" stroke="#111" stroke-width="1.0" points="374.25,758.17 381.89,748.62 389.54,743.94 397.18,745.97 404.83,740.28 412.47,729.72 420.12,742.11 427.76,744.35 435.41,736.63 443.05,744.96 450.69,738.25 458.34,738.86 465.99,745.36 473.63,729.92 481.27,740.49 488.92,741.50 496.56,740.89 504.21,737.44 511.86,739.27 519.50,743.33"/>
<line x1="374.25" y1="775.64" x2="374.25" y2="773.61" stroke="#333" stroke-width="1.1"/>
<line x1="381.89" y1="761.21" x2="381.89" y2="757.15" stroke="#333" stroke-width="1.1"/>
<line x1="389.54" y1="752.27" x2="389.54" y2="746.18" stroke="#333" stroke-width="1.1"/>
<line x1="397.18" y1="744.55" x2="397.18" y2="734.39" stroke="#333" stroke-width="1.1"/>
<line x1="404.83" y1="740.49" x2="404.83" y2="732.36" stroke="#333" stroke-width="1.1"/>
<line x1="412.47" y1="739.07" x2="412.47" y2="730.94" stroke="#333" stroke-width="1.1"/>
<line x1="420.12" y1="736.83" x2="420.12" y2="730.73" stroke="#333" stroke-width="1.1"/>
<line x1="427.76" y1="729.92" x2="427.76" y2="721.79" stroke="#333" stroke-width="1.1"/>
<line x1="435.41" y1="720.57" x2="435.41" y2="712.45" stroke="#333" stroke-width="1.1"/>
<line x1="443.05" y1="731.95" x2="443.05" y2="727.89" stroke="#333" stroke-width="1.1"/>
<line x1="450.69" y1="729.92" x2="450.69" y2="725.86" stroke="#333" stroke-width="1.1"/>
<line x1="458.34" y1="730.53" x2="458.34" y2="725.45" stroke="#333" stroke-width="1.1"/>
<line x1="465.99" y1="733.99" x2="465.99" y2="729.92" stroke="#333" stroke-width="1.1"/>
<line x1="473.63" y1="724.23" x2="473.63" y2="718.14" stroke="#333" stroke-width="1.1"/>
<line x1="481.27" y1="723.62" x2="481.27" y2="717.53" stroke="#333" stroke-width="1.1"/>
<line x1="488.92" y1="729.92" x2="488.92" y2="725.86" stroke="#333" stroke-width="1.1"/>
<line x1="496.56" y1="726.47" x2="496.56" y2="721.39" stroke="#333" stroke-width="1.1"/>
<line x1="504.21" y1="729.92" x2="504.21" y2="725.86" stroke="#333" stroke-width="1.1"/>
<line x1="511.86" y1="728.70" x2="511.86" y2="718.54" stroke="#333" stroke-width="1.1"/>
<line x1="519.50" y1="737.85" x2="519.50" y2="731.75" stroke="#333" stroke-width="1.1"/>
<line x1="374.25" y1="758.17" x2="374.25" y2="775.44" stroke="#333" stroke-width="1.1"/>
<line x1="381.89" y1="748.62" x2="381.89" y2="755.73" stroke="#333" stroke-width="1.1"/>
<line x1="389.54" y1="743.94" x2="389.54" y2="750.04" stroke="#333" stroke-width="1.1"/>
<line x1="397.18" y1="745.97" x2="397.18" y2="756.13" stroke="#333" stroke-width="1.1"/>
<line x1="404.83" y1="740.28" x2="404.83" y2="748.41" stroke="#333" stroke-width="1.1"/>
<line x1="412.47" y1="729.72" x2="412.47" y2="735.81" stroke="#333" stroke-width="1.1"/>
<line x1="420.12" y1="742.11" x2="420.12" y2="750.24" stroke="#333" stroke-width="1.1"/>
<line x1="427.76" y1="744.35" x2="427.76" y2="751.46" stroke="#333" stroke-width="1.1"/>
<line x1="435.41" y1="736.63" x2="435.41" y2="742.72" stroke="#333" stroke-width="1.1"/>
<line x1="443.05" y1="744.96" x2="443.05" y2="752.07" stroke="#333" stroke-width="1.1"/>
<line x1="450.69" y1="738.25" x2="450.69" y2="743.33" stroke="#333" stroke-width="1.1"/>
<line x1="458.34" y1="738.86" x2="458.34" y2="744.96" stroke="#333" stroke-width="1.1"/>
<line x1="465.99" y1="745.36" x2="465.99" y2="749.43" stroke="#333" stroke-width="1.1"/>
<line x1="473.63" y1="729.92" x2="473.63" y2="736.02" stroke="#333" stroke-width="1.1"/>
<line x1="481.27" y1="740.49" x2="481.27" y2="745.57" stroke="#333" stroke-width="1.1"/>
<line x1="488.92" y1="741.50" x2="488.92" y2="747.60" stroke="#333" stroke-width="1.1"/>
<line x1="496.56" y1="740.89" x2="496.56" y2="746.99" stroke="#333" stroke-width="1.1"/>
<line x1="504.21" y1="737.44" x2="504.21" y2="742.52" stroke="#333" stroke-width="1.1"/>
<line x1="511.86" y1="739.27" x2="511.86" y2="745.36" stroke="#333" stroke-width="1.1"/>
<line x1="519.50" y1="743.33" x2="519.50" y2="749.43" stroke="#333" stroke-width="1.1"/>
<circle cx="374.25" cy="775.64" r="3.0" fill="#f0962c" stroke="#111" stroke-width="1.0"/>
<circle cx="381.89" cy="761.21" r="3.0" fill="#f0962c" stroke="#111" stroke-width="1.0"/>
<circle cx="389.54" cy="752.27" r="3.0" fill="#f0962c" stroke="#111" stroke-width="1.0"/>
<circle cx="397.18" cy="744.55" r="3.0" fill="#f0962c" stroke="#111" stroke-width="1.0"/>
<circle cx="404.83" cy="740.49" r="3.0" fill="#f0962c" stroke="#111" stroke-width="1.0"/>
<circle cx="412.47" cy="739.07" r="3.0" fill="#f0962c" stroke="#111" stroke-width="1.0"/>
<circle cx="420.12" cy="736.83" r="3.0" fill="#f0962c" stroke="#111" stroke-width="1.0"/>
<circle cx="427.76" cy="729.92" r="3.0" fill="#f0962c" stroke="#111" stroke-width="1.0"/>
<circle cx="435.41" cy="720.57" r="3.0" fill="#f0962c" stroke="#111" stroke-width="1.0"/>
<circle cx="443.05" cy="731.95" r="3.0" fill="#f0962c" stroke="#111" stroke-width="1.0"/>
<circle cx="450.69" cy="729.92" r="3.0" fill="#f0962c" stroke="#111" stroke-width="1.0"/>
<circle cx="458.34" cy="730.53" r="3.0" fill="#f0962c" stroke="#111" stroke-width="1.0"/>
<circle cx="465.99" cy="733.99" r="3.0" fill="#f0962c" stroke="#111" stroke-width="1.0"/>
<circle cx="473.63" cy="724.23" r="3.0" fill="#f0962c" stroke="#111" stroke-width="1.0"/>
<circle cx="481.27" cy="723.62" r="3.0" fill="#f0962c" stroke="#111" stroke-width="1.0"/>
<circle cx="488.92" cy="729.92" r="3.0" fill="#f0962c" stroke="#111" stroke-width="1.0"/>
<circle cx="496.56" cy="726.47" r="3.0" fill="#f0962c" stroke="#111" stroke-width="1.0"/>
<circle cx="504.21" cy="729.92" r="3.0" fill="#f0962c" stroke="#111" stroke-width="1.0"/>
<circle cx="511.86" cy="728.70" r="3.0" fill="#f0962c" stroke="#111" stroke-width="1.0"/>
<circle cx="519.50" cy="737.85" r="3.0" fill="#f0962c" stroke="#111" stroke-width="1.0"/>
<circle cx="374.25" cy="758.17" r="3.0" fill="#fff" stroke="#111" stroke-width="1.0"/>
<circle cx="381.89" cy="748.62" r="3.0" fill="#fff" stroke="#111" stroke-width="1.0"/>
<circle cx="389.54" cy="743.94" r="3.0" fill="#fff" stroke="#111" stroke-width="1.0"/>
<circle cx="397.18" cy="745.97" r="3.0" fill="#fff" stroke="#111" stroke-width="1.0"/>
<circle cx="404.83" cy="740.28" r="3.0" fill="#fff" stroke="#111" stroke-width="1.0"/>
<circle cx="412.47" cy="729.72" r="3.0" fill="#fff" stroke="#111" stroke-width="1.0"/>
<circle cx="420.12" cy="742.11" r="3.0" fill="#fff" stroke="#111" stroke-width="1.0"/>
<circle cx="427.76" cy="744.35" r="3.0" fill="#fff" stroke="#111" stroke-width="1.0"/>
<circle cx="435.41" cy="736.63" r="3.0" fill="#fff" stroke="#111" stroke-width="1.0"/>
<circle cx="443.05" cy="744.96" r="3.0" fill="#fff" stroke="#111" stroke-width="1.0"/>
<circle cx="450.69" cy="738.25" r="3.0" fill="#fff" stroke="#111" stroke-width="1.0"/>
<circle cx="458.34" cy="738.86" r="3.0" fill="#fff" stroke="#111" stroke-width="1.0"/>
<circle cx="465.99" cy="745.36" r="3.0" fill="#fff" stroke="#111" stroke-width="1.0"/>
<circle cx="473.63" cy="729.92" r="3.0" fill="#fff" stroke="#111" stroke-width="1.0"/>
<circle cx="481.27" cy="740.49" r="3.0" fill="#fff" stroke="#111" stroke-width="1.0"/>
<circle cx="488.92" cy="741.50" r="3.0" fill="#fff" stroke="#111" stroke-width="1.0"/>
<circle cx="496.56" cy="740.89" r="3.0" fill="#fff" stroke="#111" stroke-width="1.0"/>
<circle cx="504.21" cy="737.44" r="3.0" fill="#fff" stroke="#111" stroke-width="1.0"/>
<circle cx="511.86" cy="739.27" r="3.0" fill="#fff" stroke="#111" stroke-width="1.0"/>
<circle cx="519.50" cy="743.33" r="3.0" fill="#fff" stroke="#111" stroke-width="1.0"/>
<line x1="375.40" y1="692.30" x2="387.00" y2="692.30" stroke="#111" stroke-width="1.0"/>
<circle cx="381.20" cy="692.30" r="2.95" fill="#fff" stroke="#111" stroke-width="1.0"/>
<text x="393.40" y="695.30" font-size="8.1" text-anchor="start" fill="#111" stroke="#111" stroke-width="0.18">6-OHDA Saline</text>
<line x1="375.40" y1="705.60" x2="387.00" y2="705.60" stroke="#111" stroke-width="1.0"/>
<circle cx="381.20" cy="705.60" r="2.95" fill="#f0962c" stroke="#111" stroke-width="1.0"/>
<text x="393.40" y="708.60" font-size="8.1" text-anchor="start" fill="#111" stroke="#111" stroke-width="0.18">6-OHDA SKF+SCH</text>
<text x="527.50" y="743.50" font-size="13" text-anchor="start" fill="#222" stroke="#222" stroke-width="0.18">ns</text>
<text x="482.40" y="663.50" font-size="11.2" text-anchor="middle" fill="#111" stroke="#111" stroke-width="0.18">SCH</text>
<text x="523.40" y="663.50" font-size="11" text-anchor="middle" fill="#111" stroke="#111" stroke-width="0.18">SKF</text>
<line x1="475.10" y1="672.70" x2="479.18" y2="672.70" stroke="#222" stroke-width="1.3"/>
<line x1="480.61" y1="672.70" x2="484.69" y2="672.70" stroke="#222" stroke-width="1.3"/>
<line x1="486.12" y1="672.70" x2="490.20" y2="672.70" stroke="#222" stroke-width="1.3"/>
<line x1="519.78" y1="673.20" x2="524.12" y2="673.20" stroke="#222" stroke-width="1.0"/>
<line x1="521.95" y1="671.03" x2="521.95" y2="675.37" stroke="#222" stroke-width="1.0"/>
<line x1="525.48" y1="673.20" x2="529.82" y2="673.20" stroke="#222" stroke-width="1.0"/>
<line x1="527.65" y1="671.03" x2="527.65" y2="675.37" stroke="#222" stroke-width="1.0"/>
<line x1="531.18" y1="673.20" x2="535.52" y2="673.20" stroke="#222" stroke-width="1.0"/>
<line x1="533.35" y1="671.03" x2="533.35" y2="675.37" stroke="#222" stroke-width="1.0"/>
<line x1="492.20" y1="667.70" x2="502.70" y2="683.20" stroke="#222" stroke-width="0.7"/>
<path d="M499.93,681.60 L502.70,683.20 L502.24,680.03" fill="none" stroke="#222" stroke-width="0.7"/>
<line x1="515.80" y1="668.40" x2="506.60" y2="684.10" stroke="#222" stroke-width="0.7"/>
<path d="M506.86,680.91 L506.60,684.10 L509.26,682.32" fill="none" stroke="#222" stroke-width="0.7"/>
<rect x="473.10" y="696.00" width="53.90" height="6.50" fill="#a6dfe9"/>
<path d="M473.90,697.30V698.75M473.90,699.75V701.20M475.35,697.30V698.75M475.35,699.75V701.20M476.80,697.30V698.75M476.80,699.75V701.20M478.25,697.30V698.75M478.25,699.75V701.20M479.70,697.30V698.75M479.70,699.75V701.20M481.15,697.30V698.75M481.15,699.75V701.20M482.60,697.30V698.75M482.60,699.75V701.20M484.05,697.30V698.75M484.05,699.75V701.20M485.50,697.30V698.75M485.50,699.75V701.20M486.95,697.30V698.75M486.95,699.75V701.20M488.40,697.30V698.75M488.40,699.75V701.20M489.85,697.30V698.75M489.85,699.75V701.20M491.30,697.30V698.75M491.30,699.75V701.20M492.75,697.30V698.75M492.75,699.75V701.20M494.20,697.30V698.75M494.20,699.75V701.20M495.65,697.30V698.75M495.65,699.75V701.20M497.10,697.30V698.75M497.10,699.75V701.20M498.55,697.30V698.75M498.55,699.75V701.20M500.00,697.30V698.75M500.00,699.75V701.20M501.45,697.30V698.75M501.45,699.75V701.20M502.90,697.30V698.75M502.90,699.75V701.20M504.35,697.30V698.75M504.35,699.75V701.20M505.80,697.30V698.75M505.80,699.75V701.20M507.25,697.30V698.75M507.25,699.75V701.20M508.70,697.30V698.75M508.70,699.75V701.20M510.15,697.30V698.75M510.15,699.75V701.20M511.60,697.30V698.75M511.60,699.75V701.20M513.05,697.30V698.75M513.05,699.75V701.20M514.50,697.30V698.75M514.50,699.75V701.20M515.95,697.30V698.75M515.95,699.75V701.20M517.40,697.30V698.75M517.40,699.75V701.20M518.85,697.30V698.75M518.85,699.75V701.20M520.30,697.30V698.75M520.30,699.75V701.20M521.75,697.30V698.75M521.75,699.75V701.20M523.20,697.30V698.75M523.20,699.75V701.20M524.65,697.30V698.75M524.65,699.75V701.20M526.10,697.30V698.75M526.10,699.75V701.20" stroke="#e4f6f9" stroke-width="0.5"/>
<path d="M501.50,691.30 C500.85,687.30 497.62,687.80 498.53,685.60 M505.80,691.80 C509.10,689.30 507.80,686.30 505.50,685.80" fill="none" stroke="#255f80" stroke-width="0.75"/>
<path d="M495.60,708.30 C493.60,712.30 498.91,711.00 501.50,712.20 C503.69,713.20 507.60,712.20 506.80,713.60" fill="none" stroke="#255f80" stroke-width="0.75"/>
<rect x="494.40" y="689.80" width="3.91" height="19.20" rx="1.95" fill="#2f7398" stroke="#255f80" stroke-width="0.45"/>
<line x1="495.89" y1="691.80" x2="495.89" y2="706.50" stroke="#4a8fb5" stroke-width="1.09" stroke-linecap="round"/>
<rect x="497.40" y="690.40" width="3.91" height="19.40" rx="1.95" fill="#2f7398" stroke="#255f80" stroke-width="0.45"/>
<line x1="498.88" y1="692.40" x2="498.88" y2="707.30" stroke="#4a8fb5" stroke-width="1.09" stroke-linecap="round"/>
<rect x="500.39" y="689.80" width="3.91" height="19.20" rx="1.95" fill="#2f7398" stroke="#255f80" stroke-width="0.45"/>
<line x1="501.88" y1="691.80" x2="501.88" y2="706.50" stroke="#4a8fb5" stroke-width="1.09" stroke-linecap="round"/>
<rect x="503.39" y="690.40" width="3.91" height="19.40" rx="1.95" fill="#2f7398" stroke="#255f80" stroke-width="0.45"/>
<line x1="504.88" y1="692.40" x2="504.88" y2="707.30" stroke="#4a8fb5" stroke-width="1.09" stroke-linecap="round"/>
<circle cx="497.62" cy="708.60" r="0.9" fill="none" stroke="#255f80" stroke-width="0.4"/>
<circle cx="500.85" cy="708.60" r="0.9" fill="none" stroke="#255f80" stroke-width="0.4"/>
<circle cx="504.07" cy="708.60" r="0.9" fill="none" stroke="#255f80" stroke-width="0.4"/>
<line x1="594.60" y1="704.70" x2="594.60" y2="798.90" stroke="#3a3a3a" stroke-width="1.0"/>
<line x1="594.10" y1="798.40" x2="657.00" y2="798.40" stroke="#3a3a3a" stroke-width="1.0"/>
<line x1="591.00" y1="798.40" x2="594.60" y2="798.40" stroke="#3a3a3a" stroke-width="1.0"/>
<text x="589.20" y="801.60" font-size="9.0" text-anchor="end" fill="#111" stroke="#111" stroke-width="0.18">0</text>
<line x1="591.00" y1="779.66" x2="594.60" y2="779.66" stroke="#3a3a3a" stroke-width="1.0"/>
<text x="589.20" y="782.86" font-size="9.0" text-anchor="end" fill="#111" stroke="#111" stroke-width="0.18">200</text>
<line x1="591.00" y1="760.92" x2="594.60" y2="760.92" stroke="#3a3a3a" stroke-width="1.0"/>
<text x="589.20" y="764.12" font-size="9.0" text-anchor="end" fill="#111" stroke="#111" stroke-width="0.18">400</text>
<line x1="591.00" y1="742.18" x2="594.60" y2="742.18" stroke="#3a3a3a" stroke-width="1.0"/>
<text x="589.20" y="745.38" font-size="9.0" text-anchor="end" fill="#111" stroke="#111" stroke-width="0.18">600</text>
<line x1="591.00" y1="723.44" x2="594.60" y2="723.44" stroke="#3a3a3a" stroke-width="1.0"/>
<text x="589.20" y="726.64" font-size="9.0" text-anchor="end" fill="#111" stroke="#111" stroke-width="0.18">800</text>
<line x1="591.00" y1="704.70" x2="594.60" y2="704.70" stroke="#3a3a3a" stroke-width="1.0"/>
<text x="589.20" y="707.90" font-size="9.0" text-anchor="end" fill="#111" stroke="#111" stroke-width="0.18">1000</text>
<line x1="612.10" y1="798.40" x2="612.10" y2="802.20" stroke="#3a3a3a" stroke-width="1.0"/>
<line x1="639.30" y1="798.40" x2="639.30" y2="802.20" stroke="#3a3a3a" stroke-width="1.0"/>
<line x1="612.10" y1="728.78" x2="639.30" y2="723.44" stroke="#222" stroke-width="0.8"/>
<line x1="612.10" y1="735.53" x2="639.30" y2="737.59" stroke="#222" stroke-width="0.8"/>
<line x1="612.10" y1="737.96" x2="639.30" y2="743.02" stroke="#222" stroke-width="0.8"/>
<line x1="612.10" y1="740.02" x2="639.30" y2="744.52" stroke="#222" stroke-width="0.8"/>
<line x1="612.10" y1="762.23" x2="639.30" y2="754.17" stroke="#222" stroke-width="0.8"/>
<line x1="612.10" y1="768.88" x2="639.30" y2="745.93" stroke="#222" stroke-width="0.8"/>
<circle cx="612.10" cy="728.78" r="2.55" fill="#111" stroke="#111" stroke-width="0.6"/>
<circle cx="639.30" cy="723.44" r="2.65" fill="#fff" stroke="#111" stroke-width="0.95"/>
<circle cx="612.10" cy="735.53" r="2.55" fill="#111" stroke="#111" stroke-width="0.6"/>
<circle cx="639.30" cy="737.59" r="2.65" fill="#fff" stroke="#111" stroke-width="0.95"/>
<circle cx="612.10" cy="737.96" r="2.55" fill="#111" stroke="#111" stroke-width="0.6"/>
<circle cx="639.30" cy="743.02" r="2.65" fill="#fff" stroke="#111" stroke-width="0.95"/>
<circle cx="612.10" cy="740.02" r="2.55" fill="#111" stroke="#111" stroke-width="0.6"/>
<circle cx="639.30" cy="744.52" r="2.65" fill="#fff" stroke="#111" stroke-width="0.95"/>
<circle cx="612.10" cy="762.23" r="2.55" fill="#111" stroke="#111" stroke-width="0.6"/>
<circle cx="639.30" cy="754.17" r="2.65" fill="#fff" stroke="#111" stroke-width="0.95"/>
<circle cx="612.10" cy="768.88" r="2.55" fill="#111" stroke="#111" stroke-width="0.6"/>
<circle cx="639.30" cy="745.93" r="2.65" fill="#fff" stroke="#111" stroke-width="0.95"/>
<text x="566.20" y="750.70" font-size="8.8" text-anchor="middle" fill="#111" stroke="#111" stroke-width="0.18" transform="rotate(-90 566.20 750.70)">Total number of spikes C</text>
<text x="639.20" y="713.60" font-size="11" text-anchor="middle" fill="#222" stroke="#222" stroke-width="0.18">ns</text>
<text x="614.00" y="808.00" font-size="9" text-anchor="end" fill="#111" stroke="#111" stroke-width="0.18" transform="rotate(-45 614.00 808.00)">Saline</text>
<text x="641.00" y="808.00" font-size="9.1" text-anchor="end" fill="#111" stroke="#111" stroke-width="0.18" transform="rotate(-45 641.00 808.00)">SKF+SCH</text>
</svg>
</body></html>
